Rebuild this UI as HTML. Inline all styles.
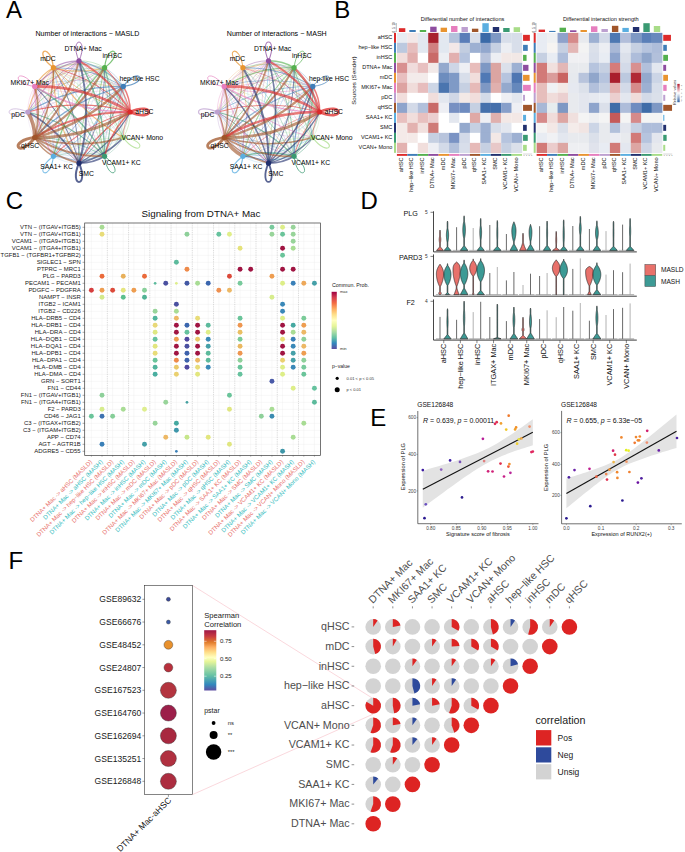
<!DOCTYPE html>
<html><head><meta charset="utf-8"><style>
html,body{margin:0;padding:0;background:#fff;}
body{width:685px;height:852px;overflow:hidden;}
svg{display:block;font-family:"Liberation Sans", sans-serif;}
</style></head><body>
<svg width="685" height="852" viewBox="0 0 685 852">
<rect width="685" height="852" fill="#fff"/>
<text x="5.9" y="17.6" font-size="24" fill="#000">A</text>
<text x="334.2" y="17.5" font-size="24" fill="#000">B</text>
<text x="5.8" y="209.4" font-size="24" fill="#000">C</text>
<text x="360.6" y="209.4" font-size="24" fill="#000">D</text>
<text x="370.2" y="425.7" font-size="24" fill="#000">E</text>
<text x="8.4" y="569.4" font-size="24" fill="#000">F</text>
<path d="M27.8 112.0 Q79.2 112.6 123.3 86.4" fill="none" stroke="#BDA0D0" stroke-width="0.25" stroke-opacity="0.55"/>
<path d="M123.3 137.6 Q97.6 144.2 79.0 163.2" fill="none" stroke="#A8DC88" stroke-width="0.25" stroke-opacity="0.55"/>
<path d="M27.8 112.0 Q79.0 126.3 130.2 112.0" fill="none" stroke="#BDA0D0" stroke-width="0.26" stroke-opacity="0.55"/>
<path d="M27.8 112.0 Q72.0 138.2 123.3 137.6" fill="none" stroke="#BDA0D0" stroke-width="0.26" stroke-opacity="0.55"/>
<path d="M27.8 112.0 Q46.2 144.8 79.0 163.2" fill="none" stroke="#BDA0D0" stroke-width="0.26" stroke-opacity="0.55"/>
<path d="M123.3 137.6 Q79.0 125.2 34.7 137.6" fill="none" stroke="#A8DC88" stroke-width="0.27" stroke-opacity="0.55"/>
<path d="M27.8 112.0 Q60.6 93.6 79.0 60.8" fill="none" stroke="#BDA0D0" stroke-width="0.27" stroke-opacity="0.55"/>
<path d="M27.8 112.0 Q27.6 125.8 34.7 137.6" fill="none" stroke="#BDA0D0" stroke-width="0.27" stroke-opacity="0.55"/>
<path d="M123.3 137.6 Q111.3 144.3 104.6 156.3" fill="none" stroke="#A8DC88" stroke-width="0.28" stroke-opacity="0.55"/>
<path d="M123.3 137.6 Q130.5 112.0 123.3 86.4" fill="none" stroke="#A8DC88" stroke-width="0.28" stroke-opacity="0.55"/>
<path d="M123.3 137.6 Q111.9 93.0 79.0 60.8" fill="none" stroke="#A8DC88" stroke-width="0.29" stroke-opacity="0.55"/>
<path d="M123.3 137.6 Q79.2 111.4 27.8 112.0" fill="none" stroke="#A8DC88" stroke-width="0.30" stroke-opacity="0.55"/>
<path d="M53.4 156.3 Q46.7 144.3 34.7 137.6" fill="none" stroke="#5AAEE0" stroke-width="0.30" stroke-opacity="0.55"/>
<path d="M53.4 156.3 Q65.2 163.4 79.0 163.2" fill="none" stroke="#5AAEE0" stroke-width="0.31" stroke-opacity="0.55"/>
<path d="M53.4 156.3 Q98.0 144.9 130.2 112.0" fill="none" stroke="#5AAEE0" stroke-width="0.31" stroke-opacity="0.55"/>
<path d="M53.4 156.3 Q91.4 119.2 104.6 67.7" fill="none" stroke="#5AAEE0" stroke-width="0.33" stroke-opacity="0.55"/>
<path d="M53.4 156.3 Q91.0 156.8 123.3 137.6" fill="none" stroke="#5AAEE0" stroke-width="0.34" stroke-opacity="0.55"/>
<path d="M53.4 156.3 Q79.6 112.2 79.0 60.8" fill="none" stroke="#5AAEE0" stroke-width="0.35" stroke-opacity="0.55"/>
<path d="M79.0 60.8 Q90.4 105.4 123.3 137.6" fill="none" stroke="#8E4DA0" stroke-width="0.35" stroke-opacity="0.55"/>
<path d="M53.4 156.3 Q46.8 130.6 27.8 112.0" fill="none" stroke="#5AAEE0" stroke-width="0.36" stroke-opacity="0.55"/>
<path d="M27.8 112.0 Q34.8 100.2 34.7 86.4" fill="none" stroke="#BDA0D0" stroke-width="0.37" stroke-opacity="0.55"/>
<path d="M53.4 156.3 Q53.8 118.7 34.7 86.4" fill="none" stroke="#5AAEE0" stroke-width="0.38" stroke-opacity="0.55"/>
<path d="M34.7 86.4 Q79.0 98.8 123.3 86.4" fill="none" stroke="#E67EBE" stroke-width="0.38" stroke-opacity="0.55"/>
<path d="M34.7 86.4 Q27.6 98.2 27.8 112.0" fill="none" stroke="#E67EBE" stroke-width="0.38" stroke-opacity="0.55"/>
<path d="M34.7 86.4 Q59.8 131.2 104.6 156.3" fill="none" stroke="#E67EBE" stroke-width="0.39" stroke-opacity="0.55"/>
<path d="M79.0 60.8 Q64.7 112.0 79.0 163.2" fill="none" stroke="#8E4DA0" stroke-width="0.39" stroke-opacity="0.55"/>
<path d="M53.4 67.7 Q34.2 100.0 34.7 137.6" fill="none" stroke="#E89430" stroke-width="0.40" stroke-opacity="0.55"/>
<path d="M79.0 60.8 Q90.8 67.8 104.6 67.7" fill="none" stroke="#8E4DA0" stroke-width="0.41" stroke-opacity="0.55"/>
<path d="M79.0 60.8 Q78.4 112.2 104.6 156.3" fill="none" stroke="#8E4DA0" stroke-width="0.42" stroke-opacity="0.55"/>
<path d="M123.3 86.4 Q116.2 112.0 123.3 137.6" fill="none" stroke="#3F7DB8" stroke-width="0.43" stroke-opacity="0.55"/>
<path d="M123.3 86.4 Q79.0 74.0 34.7 86.4" fill="none" stroke="#3F7DB8" stroke-width="0.43" stroke-opacity="0.55"/>
<path d="M34.7 86.4 Q71.8 124.4 123.3 137.6" fill="none" stroke="#E67EBE" stroke-width="0.43" stroke-opacity="0.55"/>
<path d="M123.3 86.4 Q116.6 74.4 104.6 67.7" fill="none" stroke="#3F7DB8" stroke-width="0.43" stroke-opacity="0.55"/>
<path d="M79.0 60.8 Q52.8 105.0 53.4 156.3" fill="none" stroke="#8E4DA0" stroke-width="0.43" stroke-opacity="0.55"/>
<path d="M27.8 112.0 Q46.8 93.4 53.4 67.7" fill="none" stroke="#BDA0D0" stroke-width="0.44" stroke-opacity="0.55"/>
<path d="M34.7 86.4 Q46.7 79.7 53.4 67.7" fill="none" stroke="#E67EBE" stroke-width="0.44" stroke-opacity="0.55"/>
<path d="M53.4 67.7 Q41.0 112.0 53.4 156.3" fill="none" stroke="#E89430" stroke-width="0.44" stroke-opacity="0.55"/>
<path d="M123.3 86.4 Q104.2 118.7 104.6 156.3" fill="none" stroke="#3F7DB8" stroke-width="0.45" stroke-opacity="0.55"/>
<path d="M104.6 156.3 Q116.6 149.6 123.3 137.6" fill="none" stroke="#3A9A72" stroke-width="0.45" stroke-opacity="0.55"/>
<path d="M104.6 156.3 Q90.8 156.2 79.0 163.2" fill="none" stroke="#3A9A72" stroke-width="0.46" stroke-opacity="0.55"/>
<path d="M123.3 137.6 Q86.2 99.6 34.7 86.4" fill="none" stroke="#A8DC88" stroke-width="0.46" stroke-opacity="0.55"/>
<path d="M34.7 86.4 Q27.5 112.0 34.7 137.6" fill="none" stroke="#E67EBE" stroke-width="0.47" stroke-opacity="0.55"/>
<path d="M104.6 156.3 Q123.8 124.0 123.3 86.4" fill="none" stroke="#3A9A72" stroke-width="0.49" stroke-opacity="0.55"/>
<path d="M104.6 156.3 Q91.4 104.8 53.4 67.7" fill="none" stroke="#3A9A72" stroke-width="0.49" stroke-opacity="0.55"/>
<path d="M27.8 112.0 Q60.0 144.9 104.6 156.3" fill="none" stroke="#BDA0D0" stroke-width="0.50" stroke-opacity="0.55"/>
<path d="M104.6 67.7 Q67.0 67.2 34.7 86.4" fill="none" stroke="#54B04E" stroke-width="0.50" stroke-opacity="0.55"/>
<path d="M104.6 67.7 Q111.3 79.7 123.3 86.4" fill="none" stroke="#54B04E" stroke-width="0.50" stroke-opacity="0.55"/>
<path d="M104.6 156.3 Q123.6 137.8 130.2 112.0" fill="none" stroke="#3A9A72" stroke-width="0.52" stroke-opacity="0.55"/>
<path d="M123.3 86.4 Q123.2 100.2 130.2 112.0" fill="none" stroke="#3F7DB8" stroke-width="0.52" stroke-opacity="0.55"/>
<path d="M79.0 60.8 Q97.6 79.8 123.3 86.4" fill="none" stroke="#8E4DA0" stroke-width="0.53" stroke-opacity="0.55"/>
<path d="M104.6 67.7 Q92.8 60.6 79.0 60.8" fill="none" stroke="#54B04E" stroke-width="0.54" stroke-opacity="0.55"/>
<path d="M53.4 67.7 Q67.2 67.8 79.0 60.8" fill="none" stroke="#E89430" stroke-width="0.54" stroke-opacity="0.55"/>
<path d="M53.4 156.3 Q79.0 163.5 104.6 156.3" fill="none" stroke="#5AAEE0" stroke-width="0.54" stroke-opacity="0.55"/>
<path d="M123.3 137.6 Q123.8 100.0 104.6 67.7" fill="none" stroke="#A8DC88" stroke-width="0.55" stroke-opacity="0.55"/>
<path d="M53.4 67.7 Q85.7 86.8 123.3 86.4" fill="none" stroke="#E89430" stroke-width="0.55" stroke-opacity="0.55"/>
<path d="M123.3 137.6 Q85.7 137.2 53.4 156.3" fill="none" stroke="#A8DC88" stroke-width="0.56" stroke-opacity="0.55"/>
<path d="M104.6 67.7 Q79.0 60.5 53.4 67.7" fill="none" stroke="#54B04E" stroke-width="0.57" stroke-opacity="0.55"/>
<path d="M27.8 112.0 Q34.4 137.8 53.4 156.3" fill="none" stroke="#BDA0D0" stroke-width="0.57" stroke-opacity="0.55"/>
<path d="M53.4 67.7 Q66.6 119.2 104.6 156.3" fill="none" stroke="#E89430" stroke-width="0.61" stroke-opacity="0.55"/>
<path d="M27.8 112.0 Q72.4 100.6 104.6 67.7" fill="none" stroke="#BDA0D0" stroke-width="0.63" stroke-opacity="0.55"/>
<path d="M79.0 163.2 Q67.2 156.2 53.4 156.3" fill="none" stroke="#22306E" stroke-width="0.63" stroke-opacity="0.55"/>
<path d="M104.6 156.3 Q79.0 149.2 53.4 156.3" fill="none" stroke="#3A9A72" stroke-width="0.64" stroke-opacity="0.55"/>
<path d="M79.0 163.2 Q60.4 144.2 34.7 137.6" fill="none" stroke="#22306E" stroke-width="0.65" stroke-opacity="0.55"/>
<path d="M123.3 137.6 Q98.2 92.8 53.4 67.7" fill="none" stroke="#A8DC88" stroke-width="0.66" stroke-opacity="0.55"/>
<path d="M130.2 112.0 Q123.2 123.8 123.3 137.6" fill="none" stroke="#DD2A2A" stroke-width="0.69" stroke-opacity="0.55"/>
<path d="M79.0 60.8 Q97.4 93.6 130.2 112.0" fill="none" stroke="#8E4DA0" stroke-width="0.72" stroke-opacity="0.55"/>
<path d="M53.4 156.3 Q65.8 112.0 53.4 67.7" fill="none" stroke="#5AAEE0" stroke-width="0.73" stroke-opacity="0.55"/>
<path d="M34.7 86.4 Q72.3 86.8 104.6 67.7" fill="none" stroke="#E67EBE" stroke-width="0.73" stroke-opacity="0.55"/>
<path d="M104.6 67.7 Q59.8 92.8 34.7 137.6" fill="none" stroke="#54B04E" stroke-width="0.73" stroke-opacity="0.55"/>
<path d="M104.6 67.7 Q60.0 79.1 27.8 112.0" fill="none" stroke="#54B04E" stroke-width="0.76" stroke-opacity="0.55"/>
<path d="M79.0 60.8 Q46.1 93.0 34.7 137.6" fill="none" stroke="#8E4DA0" stroke-width="0.77" stroke-opacity="0.55"/>
<path d="M79.0 163.2 Q111.9 131.0 123.3 86.4" fill="none" stroke="#22306E" stroke-width="0.80" stroke-opacity="0.55"/>
<path d="M104.6 67.7 Q104.2 105.3 123.3 137.6" fill="none" stroke="#54B04E" stroke-width="0.80" stroke-opacity="0.55"/>
<path d="M123.3 137.6 Q130.4 125.8 130.2 112.0" fill="none" stroke="#A8DC88" stroke-width="0.81" stroke-opacity="0.55"/>
<path d="M123.3 86.4 Q90.4 118.6 79.0 163.2" fill="none" stroke="#3F7DB8" stroke-width="0.81" stroke-opacity="0.55"/>
<path d="M104.6 67.7 Q78.4 111.8 79.0 163.2" fill="none" stroke="#54B04E" stroke-width="0.82" stroke-opacity="0.55"/>
<path d="M104.6 67.7 Q111.2 93.4 130.2 112.0" fill="none" stroke="#54B04E" stroke-width="0.84" stroke-opacity="0.55"/>
<path d="M104.6 156.3 Q72.3 137.2 34.7 137.6" fill="none" stroke="#3A9A72" stroke-width="0.84" stroke-opacity="0.55"/>
<path d="M123.3 86.4 Q78.6 111.6 53.4 156.3" fill="none" stroke="#3F7DB8" stroke-width="0.86" stroke-opacity="0.55"/>
<path d="M34.7 86.4 Q46.1 131.0 79.0 163.2" fill="none" stroke="#E67EBE" stroke-width="0.89" stroke-opacity="0.55"/>
<path d="M79.0 163.2 Q105.2 119.0 104.6 67.7" fill="none" stroke="#22306E" stroke-width="0.90" stroke-opacity="0.55"/>
<path d="M123.3 86.4 Q91.0 67.2 53.4 67.7" fill="none" stroke="#3F7DB8" stroke-width="0.92" stroke-opacity="0.55"/>
<path d="M34.7 86.4 Q60.4 79.8 79.0 60.8" fill="none" stroke="#E67EBE" stroke-width="0.92" stroke-opacity="0.55"/>
<path d="M79.0 163.2 Q79.6 111.8 53.4 67.7" fill="none" stroke="#22306E" stroke-width="0.94" stroke-opacity="0.55"/>
<path d="M79.0 60.8 Q46.2 79.2 27.8 112.0" fill="none" stroke="#8E4DA0" stroke-width="0.94" stroke-opacity="0.55"/>
<path d="M53.4 67.7 Q85.6 100.6 130.2 112.0" fill="none" stroke="#E89430" stroke-width="0.96" stroke-opacity="0.55"/>
<path d="M104.6 67.7 Q92.2 112.0 104.6 156.3" fill="none" stroke="#54B04E" stroke-width="0.99" stroke-opacity="0.55"/>
<path d="M53.4 156.3 Q98.2 131.2 123.3 86.4" fill="none" stroke="#5AAEE0" stroke-width="1.00" stroke-opacity="0.55"/>
<path d="M130.2 112.0 Q98.0 79.1 53.4 67.7" fill="none" stroke="#DD2A2A" stroke-width="1.03" stroke-opacity="0.55"/>
<path d="M104.6 156.3 Q117.0 112.0 104.6 67.7" fill="none" stroke="#3A9A72" stroke-width="1.04" stroke-opacity="0.55"/>
<path d="M79.0 163.2 Q67.6 118.6 34.7 86.4" fill="none" stroke="#22306E" stroke-width="1.08" stroke-opacity="0.55"/>
<path d="M53.4 67.7 Q79.0 74.8 104.6 67.7" fill="none" stroke="#E89430" stroke-width="1.09" stroke-opacity="0.55"/>
<path d="M53.4 67.7 Q34.4 86.2 27.8 112.0" fill="none" stroke="#E89430" stroke-width="1.09" stroke-opacity="0.55"/>
<path d="M123.3 86.4 Q104.8 67.4 79.0 60.8" fill="none" stroke="#3F7DB8" stroke-width="1.09" stroke-opacity="0.55"/>
<path d="M130.2 112.0 Q85.6 123.4 53.4 156.3" fill="none" stroke="#DD2A2A" stroke-width="1.10" stroke-opacity="0.55"/>
<path d="M130.2 112.0 Q123.6 86.2 104.6 67.7" fill="none" stroke="#DD2A2A" stroke-width="1.18" stroke-opacity="0.55"/>
<path d="M79.0 60.8 Q53.2 67.4 34.7 86.4" fill="none" stroke="#8E4DA0" stroke-width="1.18" stroke-opacity="0.55"/>
<path d="M79.0 60.8 Q65.2 60.6 53.4 67.7" fill="none" stroke="#8E4DA0" stroke-width="1.19" stroke-opacity="0.55"/>
<path d="M53.4 67.7 Q52.8 119.0 79.0 163.2" fill="none" stroke="#E89430" stroke-width="1.20" stroke-opacity="0.55"/>
<path d="M34.7 86.4 Q34.2 124.0 53.4 156.3" fill="none" stroke="#E67EBE" stroke-width="1.21" stroke-opacity="0.62"/>
<path d="M130.2 112.0 Q79.0 97.7 27.8 112.0" fill="none" stroke="#DD2A2A" stroke-width="1.23" stroke-opacity="0.62"/>
<path d="M53.4 67.7 Q41.4 74.4 34.7 86.4" fill="none" stroke="#E89430" stroke-width="1.28" stroke-opacity="0.62"/>
<path d="M104.6 156.3 Q72.4 123.4 27.8 112.0" fill="none" stroke="#3A9A72" stroke-width="1.29" stroke-opacity="0.62"/>
<path d="M130.2 112.0 Q97.4 130.4 79.0 163.2" fill="none" stroke="#DD2A2A" stroke-width="1.32" stroke-opacity="0.62"/>
<path d="M53.4 67.7 Q78.6 112.4 123.3 137.6" fill="none" stroke="#E89430" stroke-width="1.32" stroke-opacity="0.62"/>
<path d="M104.6 67.7 Q66.6 104.8 53.4 156.3" fill="none" stroke="#54B04E" stroke-width="1.35" stroke-opacity="0.62"/>
<path d="M34.7 137.6 Q41.4 149.6 53.4 156.3" fill="none" stroke="#A0552A" stroke-width="1.36" stroke-opacity="0.62"/>
<path d="M79.0 163.2 Q111.8 144.8 130.2 112.0" fill="none" stroke="#22306E" stroke-width="1.36" stroke-opacity="0.62"/>
<path d="M123.3 86.4 Q71.8 99.6 34.7 137.6" fill="none" stroke="#3F7DB8" stroke-width="1.37" stroke-opacity="0.62"/>
<path d="M104.6 156.3 Q105.2 105.0 79.0 60.8" fill="none" stroke="#3A9A72" stroke-width="1.41" stroke-opacity="0.62"/>
<path d="M123.3 86.4 Q72.0 85.8 27.8 112.0" fill="none" stroke="#3F7DB8" stroke-width="1.41" stroke-opacity="0.62"/>
<path d="M104.6 156.3 Q79.4 111.6 34.7 86.4" fill="none" stroke="#3A9A72" stroke-width="1.42" stroke-opacity="0.62"/>
<path d="M130.2 112.0 Q130.4 98.2 123.3 86.4" fill="none" stroke="#DD2A2A" stroke-width="1.53" stroke-opacity="0.62"/>
<path d="M34.7 137.6 Q53.8 105.3 53.4 67.7" fill="none" stroke="#A0552A" stroke-width="1.53" stroke-opacity="0.62"/>
<path d="M34.7 137.6 Q53.2 156.6 79.0 163.2" fill="none" stroke="#A0552A" stroke-width="1.53" stroke-opacity="0.62"/>
<path d="M79.0 163.2 Q104.8 156.6 123.3 137.6" fill="none" stroke="#22306E" stroke-width="1.56" stroke-opacity="0.62"/>
<path d="M79.0 163.2 Q60.6 130.4 27.8 112.0" fill="none" stroke="#22306E" stroke-width="1.68" stroke-opacity="0.62"/>
<path d="M130.2 112.0 Q111.2 130.6 104.6 156.3" fill="none" stroke="#DD2A2A" stroke-width="1.69" stroke-opacity="0.62"/>
<path d="M34.7 86.4 Q78.8 112.6 130.2 112.0" fill="none" stroke="#E67EBE" stroke-width="1.70" stroke-opacity="0.62"/>
<path d="M34.7 137.6 Q79.0 150.0 123.3 137.6" fill="none" stroke="#A0552A" stroke-width="1.70" stroke-opacity="0.62"/>
<path d="M79.0 163.2 Q92.8 163.4 104.6 156.3" fill="none" stroke="#22306E" stroke-width="1.79" stroke-opacity="0.62"/>
<path d="M34.7 137.6 Q67.6 105.4 79.0 60.8" fill="none" stroke="#A0552A" stroke-width="1.87" stroke-opacity="0.62"/>
<path d="M34.7 137.6 Q41.8 112.0 34.7 86.4" fill="none" stroke="#A0552A" stroke-width="1.87" stroke-opacity="0.62"/>
<path d="M34.7 137.6 Q67.0 156.8 104.6 156.3" fill="none" stroke="#A0552A" stroke-width="1.87" stroke-opacity="0.62"/>
<path d="M79.0 163.2 Q93.3 112.0 79.0 60.8" fill="none" stroke="#22306E" stroke-width="1.92" stroke-opacity="0.62"/>
<path d="M130.2 112.0 Q111.8 79.2 79.0 60.8" fill="none" stroke="#DD2A2A" stroke-width="2.06" stroke-opacity="0.62"/>
<path d="M130.2 112.0 Q78.8 111.4 34.7 137.6" fill="none" stroke="#DD2A2A" stroke-width="2.21" stroke-opacity="0.62"/>
<path d="M34.7 137.6 Q79.4 112.4 104.6 67.7" fill="none" stroke="#A0552A" stroke-width="2.21" stroke-opacity="0.62"/>
<path d="M34.7 137.6 Q86.2 124.4 123.3 86.4" fill="none" stroke="#A0552A" stroke-width="2.38" stroke-opacity="0.62"/>
<path d="M130.2 112.0 Q86.0 85.8 34.7 86.4" fill="none" stroke="#DD2A2A" stroke-width="2.55" stroke-opacity="0.62"/>
<path d="M34.7 137.6 Q86.0 138.2 130.2 112.0" fill="none" stroke="#A0552A" stroke-width="2.89" stroke-opacity="0.62"/>
<path d="M34.7 137.6 Q34.8 123.8 27.8 112.0" fill="none" stroke="#A0552A" stroke-width="3.60" stroke-opacity="0.62"/>
<path d="M130.2 112.0 C155.2 123.0 155.2 101.0 130.2 112.0" fill="none" stroke="#DD2A2A" stroke-width="2.60" stroke-opacity="0.75"/>
<path d="M123.3 86.4 C150.5 83.4 139.5 64.4 123.3 86.4" fill="none" stroke="#3F7DB8" stroke-width="1.31" stroke-opacity="0.75"/>
<path d="M104.6 67.7 C126.6 51.5 107.6 40.5 104.6 67.7" fill="none" stroke="#54B04E" stroke-width="1.17" stroke-opacity="0.75"/>
<path d="M79.0 60.8 C90.0 35.8 68.0 35.8 79.0 60.8" fill="none" stroke="#8E4DA0" stroke-width="1.00" stroke-opacity="0.75"/>
<path d="M53.4 67.7 C50.4 40.5 31.4 51.5 53.4 67.7" fill="none" stroke="#E89430" stroke-width="1.35" stroke-opacity="0.75"/>
<path d="M34.7 86.4 C18.5 64.4 7.5 83.4 34.7 86.4" fill="none" stroke="#E67EBE" stroke-width="0.92" stroke-opacity="0.75"/>
<path d="M27.8 112.0 C2.8 101.0 2.8 123.0 27.8 112.0" fill="none" stroke="#BDA0D0" stroke-width="0.81" stroke-opacity="0.75"/>
<path d="M34.7 137.6 C7.5 140.6 18.5 159.6 34.7 137.6" fill="none" stroke="#A0552A" stroke-width="3.00" stroke-opacity="0.75"/>
<path d="M53.4 156.3 C31.4 172.5 50.4 183.5 53.4 156.3" fill="none" stroke="#5AAEE0" stroke-width="1.07" stroke-opacity="0.75"/>
<path d="M79.0 163.2 C68.0 188.2 90.0 188.2 79.0 163.2" fill="none" stroke="#22306E" stroke-width="2.00" stroke-opacity="0.75"/>
<path d="M104.6 156.3 C107.6 183.5 126.6 172.5 104.6 156.3" fill="none" stroke="#3A9A72" stroke-width="1.00" stroke-opacity="0.75"/>
<path d="M123.3 137.6 C139.5 159.6 150.5 140.6 123.3 137.6" fill="none" stroke="#A8DC88" stroke-width="1.02" stroke-opacity="0.75"/>
<circle cx="79.00" cy="112.00" r="5.00" fill="#fff" fill-opacity="0.6"/>
<circle cx="130.20" cy="112.00" r="2.60" fill="#DD2A2A"/>
<circle cx="123.34" cy="86.40" r="2.60" fill="#3F7DB8"/>
<circle cx="104.60" cy="67.66" r="2.60" fill="#54B04E"/>
<circle cx="79.00" cy="60.80" r="2.60" fill="#8E4DA0"/>
<circle cx="53.40" cy="67.66" r="2.60" fill="#E89430"/>
<circle cx="34.66" cy="86.40" r="2.60" fill="#E67EBE"/>
<circle cx="27.80" cy="112.00" r="2.60" fill="#BDA0D0"/>
<circle cx="34.66" cy="137.60" r="2.60" fill="#A0552A"/>
<circle cx="53.40" cy="156.34" r="2.60" fill="#5AAEE0"/>
<circle cx="79.00" cy="163.20" r="2.60" fill="#22306E"/>
<circle cx="104.60" cy="156.34" r="2.60" fill="#3A9A72"/>
<circle cx="123.34" cy="137.60" r="2.60" fill="#A8DC88"/>
<text x="83.00" y="48.40" font-size="6.8" text-anchor="middle" fill="#000" dy="0.35em">DTNA+ Mac</text>
<text x="40.20" y="58.60" font-size="6.8" text-anchor="start" fill="#000" dy="0.35em">mDC</text>
<text x="102.50" y="56.00" font-size="6.8" text-anchor="start" fill="#000" dy="0.35em">inHSC</text>
<text x="119.50" y="79.10" font-size="6.8" text-anchor="start" fill="#000" dy="0.35em">hep-like HSC</text>
<text x="135.30" y="112.00" font-size="6.8" text-anchor="start" fill="#000" dy="0.35em">aHSC</text>
<text x="121.40" y="137.40" font-size="6.8" text-anchor="start" fill="#000" dy="0.35em">VCAN+ Mono</text>
<text x="102.00" y="162.70" font-size="6.8" text-anchor="start" fill="#000" dy="0.35em">VCAM1+ KC</text>
<text x="78.80" y="173.20" font-size="6.8" text-anchor="start" fill="#000" dy="0.35em">SMC</text>
<text x="40.20" y="167.10" font-size="6.8" text-anchor="start" fill="#000" dy="0.35em">SAA1+ KC</text>
<text x="21.00" y="146.10" font-size="6.8" text-anchor="start" fill="#000" dy="0.35em">qHSC</text>
<text x="11.30" y="114.60" font-size="6.8" text-anchor="start" fill="#000" dy="0.35em">pDC</text>
<text x="10.50" y="83.00" font-size="6.8" text-anchor="start" fill="#000" dy="0.35em">MKI67+ Mac</text>
<text x="35.50" y="33.70" font-size="7.1" text-anchor="start" fill="#000" dy="0.35em">Number of interactions − MASLD</text>
<path d="M312.8 137.6 Q268.7 111.4 217.3 112.0" fill="none" stroke="#A8DC88" stroke-width="0.25" stroke-opacity="0.55"/>
<path d="M217.3 112.0 Q261.9 100.6 294.1 67.7" fill="none" stroke="#BDA0D0" stroke-width="0.25" stroke-opacity="0.55"/>
<path d="M217.3 112.0 Q268.5 126.3 319.7 112.0" fill="none" stroke="#BDA0D0" stroke-width="0.25" stroke-opacity="0.55"/>
<path d="M312.8 137.6 Q287.1 144.2 268.5 163.2" fill="none" stroke="#A8DC88" stroke-width="0.26" stroke-opacity="0.55"/>
<path d="M312.8 137.6 Q320.0 112.0 312.8 86.4" fill="none" stroke="#A8DC88" stroke-width="0.28" stroke-opacity="0.55"/>
<path d="M242.9 67.7 Q275.1 100.6 319.7 112.0" fill="none" stroke="#E89430" stroke-width="0.30" stroke-opacity="0.55"/>
<path d="M242.9 156.3 Q287.7 131.2 312.8 86.4" fill="none" stroke="#5AAEE0" stroke-width="0.32" stroke-opacity="0.55"/>
<path d="M312.8 137.6 Q268.5 125.2 224.2 137.6" fill="none" stroke="#A8DC88" stroke-width="0.34" stroke-opacity="0.55"/>
<path d="M242.9 156.3 Q255.3 112.0 242.9 67.7" fill="none" stroke="#5AAEE0" stroke-width="0.35" stroke-opacity="0.55"/>
<path d="M224.2 86.4 Q249.3 131.2 294.1 156.3" fill="none" stroke="#E67EBE" stroke-width="0.35" stroke-opacity="0.55"/>
<path d="M242.9 67.7 Q268.1 112.4 312.8 137.6" fill="none" stroke="#E89430" stroke-width="0.35" stroke-opacity="0.55"/>
<path d="M217.3 112.0 Q268.7 112.6 312.8 86.4" fill="none" stroke="#BDA0D0" stroke-width="0.35" stroke-opacity="0.55"/>
<path d="M242.9 67.7 Q275.2 86.8 312.8 86.4" fill="none" stroke="#E89430" stroke-width="0.35" stroke-opacity="0.55"/>
<path d="M242.9 67.7 Q223.7 100.0 224.2 137.6" fill="none" stroke="#E89430" stroke-width="0.36" stroke-opacity="0.55"/>
<path d="M242.9 67.7 Q230.5 112.0 242.9 156.3" fill="none" stroke="#E89430" stroke-width="0.37" stroke-opacity="0.55"/>
<path d="M224.2 86.4 Q236.2 79.7 242.9 67.7" fill="none" stroke="#E67EBE" stroke-width="0.37" stroke-opacity="0.55"/>
<path d="M312.8 137.6 Q287.7 92.8 242.9 67.7" fill="none" stroke="#A8DC88" stroke-width="0.37" stroke-opacity="0.55"/>
<path d="M242.9 67.7 Q230.9 74.4 224.2 86.4" fill="none" stroke="#E89430" stroke-width="0.38" stroke-opacity="0.55"/>
<path d="M312.8 137.6 Q301.4 93.0 268.5 60.8" fill="none" stroke="#A8DC88" stroke-width="0.38" stroke-opacity="0.55"/>
<path d="M268.5 60.8 Q279.9 105.4 312.8 137.6" fill="none" stroke="#8E4DA0" stroke-width="0.38" stroke-opacity="0.55"/>
<path d="M242.9 156.3 Q254.7 163.4 268.5 163.2" fill="none" stroke="#5AAEE0" stroke-width="0.38" stroke-opacity="0.55"/>
<path d="M268.5 60.8 Q267.9 112.2 294.1 156.3" fill="none" stroke="#8E4DA0" stroke-width="0.39" stroke-opacity="0.55"/>
<path d="M242.9 67.7 Q223.9 86.2 217.3 112.0" fill="none" stroke="#E89430" stroke-width="0.40" stroke-opacity="0.55"/>
<path d="M268.5 60.8 Q235.7 79.2 217.3 112.0" fill="none" stroke="#8E4DA0" stroke-width="0.40" stroke-opacity="0.55"/>
<path d="M268.5 60.8 Q242.7 67.4 224.2 86.4" fill="none" stroke="#8E4DA0" stroke-width="0.40" stroke-opacity="0.55"/>
<path d="M268.5 60.8 Q254.2 112.0 268.5 163.2" fill="none" stroke="#8E4DA0" stroke-width="0.41" stroke-opacity="0.55"/>
<path d="M217.3 112.0 Q235.7 144.8 268.5 163.2" fill="none" stroke="#BDA0D0" stroke-width="0.42" stroke-opacity="0.55"/>
<path d="M312.8 137.6 Q319.9 125.8 319.7 112.0" fill="none" stroke="#A8DC88" stroke-width="0.43" stroke-opacity="0.55"/>
<path d="M242.9 156.3 Q243.3 118.7 224.2 86.4" fill="none" stroke="#5AAEE0" stroke-width="0.43" stroke-opacity="0.55"/>
<path d="M312.8 137.6 Q313.3 100.0 294.1 67.7" fill="none" stroke="#A8DC88" stroke-width="0.44" stroke-opacity="0.55"/>
<path d="M242.9 156.3 Q236.2 144.3 224.2 137.6" fill="none" stroke="#5AAEE0" stroke-width="0.44" stroke-opacity="0.55"/>
<path d="M294.1 156.3 Q280.3 156.2 268.5 163.2" fill="none" stroke="#3A9A72" stroke-width="0.46" stroke-opacity="0.55"/>
<path d="M294.1 156.3 Q306.5 112.0 294.1 67.7" fill="none" stroke="#3A9A72" stroke-width="0.46" stroke-opacity="0.55"/>
<path d="M268.5 60.8 Q235.6 93.0 224.2 137.6" fill="none" stroke="#8E4DA0" stroke-width="0.47" stroke-opacity="0.55"/>
<path d="M312.8 86.4 Q306.1 74.4 294.1 67.7" fill="none" stroke="#3F7DB8" stroke-width="0.50" stroke-opacity="0.55"/>
<path d="M242.9 156.3 Q287.5 144.9 319.7 112.0" fill="none" stroke="#5AAEE0" stroke-width="0.50" stroke-opacity="0.55"/>
<path d="M312.8 86.4 Q279.9 118.6 268.5 163.2" fill="none" stroke="#3F7DB8" stroke-width="0.50" stroke-opacity="0.55"/>
<path d="M294.1 67.7 Q281.7 112.0 294.1 156.3" fill="none" stroke="#54B04E" stroke-width="0.51" stroke-opacity="0.55"/>
<path d="M312.8 86.4 Q294.3 67.4 268.5 60.8" fill="none" stroke="#3F7DB8" stroke-width="0.51" stroke-opacity="0.55"/>
<path d="M242.9 156.3 Q280.9 119.2 294.1 67.7" fill="none" stroke="#5AAEE0" stroke-width="0.51" stroke-opacity="0.55"/>
<path d="M294.1 156.3 Q261.8 137.2 224.2 137.6" fill="none" stroke="#3A9A72" stroke-width="0.52" stroke-opacity="0.55"/>
<path d="M242.9 67.7 Q256.1 119.2 294.1 156.3" fill="none" stroke="#E89430" stroke-width="0.52" stroke-opacity="0.55"/>
<path d="M217.3 112.0 Q236.3 93.4 242.9 67.7" fill="none" stroke="#BDA0D0" stroke-width="0.53" stroke-opacity="0.55"/>
<path d="M242.9 67.7 Q268.5 74.8 294.1 67.7" fill="none" stroke="#E89430" stroke-width="0.54" stroke-opacity="0.55"/>
<path d="M268.5 60.8 Q280.3 67.8 294.1 67.7" fill="none" stroke="#8E4DA0" stroke-width="0.56" stroke-opacity="0.55"/>
<path d="M224.2 86.4 Q217.1 98.2 217.3 112.0" fill="none" stroke="#E67EBE" stroke-width="0.56" stroke-opacity="0.55"/>
<path d="M312.8 137.6 Q275.7 99.6 224.2 86.4" fill="none" stroke="#A8DC88" stroke-width="0.56" stroke-opacity="0.55"/>
<path d="M294.1 156.3 Q280.9 104.8 242.9 67.7" fill="none" stroke="#3A9A72" stroke-width="0.57" stroke-opacity="0.55"/>
<path d="M217.3 112.0 Q261.5 138.2 312.8 137.6" fill="none" stroke="#BDA0D0" stroke-width="0.59" stroke-opacity="0.55"/>
<path d="M224.2 86.4 Q223.7 124.0 242.9 156.3" fill="none" stroke="#E67EBE" stroke-width="0.60" stroke-opacity="0.55"/>
<path d="M294.1 67.7 Q267.9 111.8 268.5 163.2" fill="none" stroke="#54B04E" stroke-width="0.62" stroke-opacity="0.55"/>
<path d="M312.8 137.6 Q275.2 137.2 242.9 156.3" fill="none" stroke="#A8DC88" stroke-width="0.62" stroke-opacity="0.55"/>
<path d="M217.3 112.0 Q217.1 125.8 224.2 137.6" fill="none" stroke="#BDA0D0" stroke-width="0.64" stroke-opacity="0.55"/>
<path d="M217.3 112.0 Q250.1 93.6 268.5 60.8" fill="none" stroke="#BDA0D0" stroke-width="0.64" stroke-opacity="0.55"/>
<path d="M312.8 86.4 Q268.1 111.6 242.9 156.3" fill="none" stroke="#3F7DB8" stroke-width="0.65" stroke-opacity="0.55"/>
<path d="M294.1 67.7 Q268.5 60.5 242.9 67.7" fill="none" stroke="#54B04E" stroke-width="0.66" stroke-opacity="0.55"/>
<path d="M294.1 67.7 Q249.5 79.1 217.3 112.0" fill="none" stroke="#54B04E" stroke-width="0.66" stroke-opacity="0.55"/>
<path d="M268.5 60.8 Q287.1 79.8 312.8 86.4" fill="none" stroke="#8E4DA0" stroke-width="0.69" stroke-opacity="0.55"/>
<path d="M312.8 137.6 Q300.8 144.3 294.1 156.3" fill="none" stroke="#A8DC88" stroke-width="0.70" stroke-opacity="0.55"/>
<path d="M319.7 112.0 Q287.5 79.1 242.9 67.7" fill="none" stroke="#DD2A2A" stroke-width="0.71" stroke-opacity="0.55"/>
<path d="M312.8 86.4 Q268.5 74.0 224.2 86.4" fill="none" stroke="#3F7DB8" stroke-width="0.71" stroke-opacity="0.55"/>
<path d="M224.2 86.4 Q261.8 86.8 294.1 67.7" fill="none" stroke="#E67EBE" stroke-width="0.72" stroke-opacity="0.55"/>
<path d="M319.7 112.0 Q275.1 123.4 242.9 156.3" fill="none" stroke="#DD2A2A" stroke-width="0.73" stroke-opacity="0.55"/>
<path d="M242.9 67.7 Q242.3 119.0 268.5 163.2" fill="none" stroke="#E89430" stroke-width="0.74" stroke-opacity="0.55"/>
<path d="M268.5 60.8 Q254.7 60.6 242.9 67.7" fill="none" stroke="#8E4DA0" stroke-width="0.75" stroke-opacity="0.55"/>
<path d="M312.8 86.4 Q312.7 100.2 319.7 112.0" fill="none" stroke="#3F7DB8" stroke-width="0.75" stroke-opacity="0.55"/>
<path d="M319.7 112.0 Q286.9 130.4 268.5 163.2" fill="none" stroke="#DD2A2A" stroke-width="0.76" stroke-opacity="0.55"/>
<path d="M294.1 67.7 Q293.7 105.3 312.8 137.6" fill="none" stroke="#54B04E" stroke-width="0.77" stroke-opacity="0.55"/>
<path d="M242.9 156.3 Q269.1 112.2 268.5 60.8" fill="none" stroke="#5AAEE0" stroke-width="0.78" stroke-opacity="0.55"/>
<path d="M294.1 156.3 Q313.1 137.8 319.7 112.0" fill="none" stroke="#3A9A72" stroke-width="0.78" stroke-opacity="0.55"/>
<path d="M242.9 156.3 Q280.5 156.8 312.8 137.6" fill="none" stroke="#5AAEE0" stroke-width="0.78" stroke-opacity="0.55"/>
<path d="M319.7 112.0 Q312.7 123.8 312.8 137.6" fill="none" stroke="#DD2A2A" stroke-width="0.78" stroke-opacity="0.55"/>
<path d="M242.9 67.7 Q256.7 67.8 268.5 60.8" fill="none" stroke="#E89430" stroke-width="0.78" stroke-opacity="0.55"/>
<path d="M294.1 156.3 Q268.9 111.6 224.2 86.4" fill="none" stroke="#3A9A72" stroke-width="0.79" stroke-opacity="0.55"/>
<path d="M217.3 112.0 Q223.9 137.8 242.9 156.3" fill="none" stroke="#BDA0D0" stroke-width="0.79" stroke-opacity="0.55"/>
<path d="M294.1 156.3 Q306.1 149.6 312.8 137.6" fill="none" stroke="#3A9A72" stroke-width="0.79" stroke-opacity="0.55"/>
<path d="M224.2 86.4 Q268.5 98.8 312.8 86.4" fill="none" stroke="#E67EBE" stroke-width="0.80" stroke-opacity="0.55"/>
<path d="M312.8 86.4 Q261.5 85.8 217.3 112.0" fill="none" stroke="#3F7DB8" stroke-width="0.82" stroke-opacity="0.55"/>
<path d="M217.3 112.0 Q224.3 100.2 224.2 86.4" fill="none" stroke="#BDA0D0" stroke-width="0.82" stroke-opacity="0.55"/>
<path d="M268.5 163.2 Q250.1 130.4 217.3 112.0" fill="none" stroke="#22306E" stroke-width="0.82" stroke-opacity="0.55"/>
<path d="M217.3 112.0 Q249.5 144.9 294.1 156.3" fill="none" stroke="#BDA0D0" stroke-width="0.84" stroke-opacity="0.55"/>
<path d="M268.5 60.8 Q286.9 93.6 319.7 112.0" fill="none" stroke="#8E4DA0" stroke-width="0.84" stroke-opacity="0.55"/>
<path d="M224.2 86.4 Q249.9 79.8 268.5 60.8" fill="none" stroke="#E67EBE" stroke-width="0.86" stroke-opacity="0.55"/>
<path d="M242.9 156.3 Q268.5 163.5 294.1 156.3" fill="none" stroke="#5AAEE0" stroke-width="0.87" stroke-opacity="0.55"/>
<path d="M268.5 163.2 Q249.9 144.2 224.2 137.6" fill="none" stroke="#22306E" stroke-width="0.88" stroke-opacity="0.55"/>
<path d="M294.1 156.3 Q294.7 105.0 268.5 60.8" fill="none" stroke="#3A9A72" stroke-width="0.88" stroke-opacity="0.55"/>
<path d="M242.9 156.3 Q236.3 130.6 217.3 112.0" fill="none" stroke="#5AAEE0" stroke-width="0.88" stroke-opacity="0.55"/>
<path d="M294.1 67.7 Q249.3 92.8 224.2 137.6" fill="none" stroke="#54B04E" stroke-width="0.89" stroke-opacity="0.55"/>
<path d="M312.8 86.4 Q305.7 112.0 312.8 137.6" fill="none" stroke="#3F7DB8" stroke-width="0.92" stroke-opacity="0.55"/>
<path d="M294.1 67.7 Q300.8 79.7 312.8 86.4" fill="none" stroke="#54B04E" stroke-width="0.96" stroke-opacity="0.55"/>
<path d="M268.5 60.8 Q242.3 105.0 242.9 156.3" fill="none" stroke="#8E4DA0" stroke-width="0.97" stroke-opacity="0.55"/>
<path d="M224.2 86.4 Q217.0 112.0 224.2 137.6" fill="none" stroke="#E67EBE" stroke-width="0.98" stroke-opacity="0.55"/>
<path d="M319.7 112.0 Q268.5 97.7 217.3 112.0" fill="none" stroke="#DD2A2A" stroke-width="1.00" stroke-opacity="0.55"/>
<path d="M268.5 163.2 Q256.7 156.2 242.9 156.3" fill="none" stroke="#22306E" stroke-width="1.02" stroke-opacity="0.55"/>
<path d="M294.1 67.7 Q300.7 93.4 319.7 112.0" fill="none" stroke="#54B04E" stroke-width="1.02" stroke-opacity="0.55"/>
<path d="M268.5 163.2 Q294.7 119.0 294.1 67.7" fill="none" stroke="#22306E" stroke-width="1.02" stroke-opacity="0.55"/>
<path d="M224.2 86.4 Q235.6 131.0 268.5 163.2" fill="none" stroke="#E67EBE" stroke-width="1.02" stroke-opacity="0.55"/>
<path d="M294.1 67.7 Q256.1 104.8 242.9 156.3" fill="none" stroke="#54B04E" stroke-width="1.02" stroke-opacity="0.55"/>
<path d="M319.7 112.0 Q300.7 130.6 294.1 156.3" fill="none" stroke="#DD2A2A" stroke-width="1.03" stroke-opacity="0.55"/>
<path d="M224.2 86.4 Q261.3 124.4 312.8 137.6" fill="none" stroke="#E67EBE" stroke-width="1.07" stroke-opacity="0.55"/>
<path d="M312.8 86.4 Q280.5 67.2 242.9 67.7" fill="none" stroke="#3F7DB8" stroke-width="1.10" stroke-opacity="0.55"/>
<path d="M312.8 86.4 Q261.3 99.6 224.2 137.6" fill="none" stroke="#3F7DB8" stroke-width="1.15" stroke-opacity="0.55"/>
<path d="M224.2 137.6 Q243.3 105.3 242.9 67.7" fill="none" stroke="#A0552A" stroke-width="1.17" stroke-opacity="0.55"/>
<path d="M294.1 156.3 Q313.3 124.0 312.8 86.4" fill="none" stroke="#3A9A72" stroke-width="1.19" stroke-opacity="0.55"/>
<path d="M294.1 67.7 Q256.5 67.2 224.2 86.4" fill="none" stroke="#54B04E" stroke-width="1.19" stroke-opacity="0.55"/>
<path d="M294.1 156.3 Q261.9 123.4 217.3 112.0" fill="none" stroke="#3A9A72" stroke-width="1.20" stroke-opacity="0.62"/>
<path d="M312.8 86.4 Q293.7 118.7 294.1 156.3" fill="none" stroke="#3F7DB8" stroke-width="1.24" stroke-opacity="0.62"/>
<path d="M224.2 137.6 Q224.3 123.8 217.3 112.0" fill="none" stroke="#A0552A" stroke-width="1.26" stroke-opacity="0.62"/>
<path d="M268.5 163.2 Q294.3 156.6 312.8 137.6" fill="none" stroke="#22306E" stroke-width="1.27" stroke-opacity="0.62"/>
<path d="M224.2 86.4 Q268.3 112.6 319.7 112.0" fill="none" stroke="#E67EBE" stroke-width="1.36" stroke-opacity="0.62"/>
<path d="M224.2 137.6 Q242.7 156.6 268.5 163.2" fill="none" stroke="#A0552A" stroke-width="1.36" stroke-opacity="0.62"/>
<path d="M294.1 156.3 Q268.5 149.2 242.9 156.3" fill="none" stroke="#3A9A72" stroke-width="1.43" stroke-opacity="0.62"/>
<path d="M268.5 163.2 Q257.1 118.6 224.2 86.4" fill="none" stroke="#22306E" stroke-width="1.44" stroke-opacity="0.62"/>
<path d="M319.7 112.0 Q319.9 98.2 312.8 86.4" fill="none" stroke="#DD2A2A" stroke-width="1.53" stroke-opacity="0.62"/>
<path d="M224.2 137.6 Q231.3 112.0 224.2 86.4" fill="none" stroke="#A0552A" stroke-width="1.53" stroke-opacity="0.62"/>
<path d="M224.2 137.6 Q268.5 150.0 312.8 137.6" fill="none" stroke="#A0552A" stroke-width="1.53" stroke-opacity="0.62"/>
<path d="M268.5 163.2 Q301.3 144.8 319.7 112.0" fill="none" stroke="#22306E" stroke-width="1.53" stroke-opacity="0.62"/>
<path d="M268.5 163.2 Q301.4 131.0 312.8 86.4" fill="none" stroke="#22306E" stroke-width="1.55" stroke-opacity="0.62"/>
<path d="M268.5 163.2 Q282.8 112.0 268.5 60.8" fill="none" stroke="#22306E" stroke-width="1.56" stroke-opacity="0.62"/>
<path d="M294.1 67.7 Q282.3 60.6 268.5 60.8" fill="none" stroke="#54B04E" stroke-width="1.63" stroke-opacity="0.62"/>
<path d="M224.2 137.6 Q257.1 105.4 268.5 60.8" fill="none" stroke="#A0552A" stroke-width="1.70" stroke-opacity="0.62"/>
<path d="M224.2 137.6 Q256.5 156.8 294.1 156.3" fill="none" stroke="#A0552A" stroke-width="1.70" stroke-opacity="0.62"/>
<path d="M268.5 163.2 Q282.3 163.4 294.1 156.3" fill="none" stroke="#22306E" stroke-width="1.76" stroke-opacity="0.62"/>
<path d="M268.5 163.2 Q269.1 111.8 242.9 67.7" fill="none" stroke="#22306E" stroke-width="1.92" stroke-opacity="0.62"/>
<path d="M224.2 137.6 Q268.9 112.4 294.1 67.7" fill="none" stroke="#A0552A" stroke-width="1.95" stroke-opacity="0.62"/>
<path d="M319.7 112.0 Q301.3 79.2 268.5 60.8" fill="none" stroke="#DD2A2A" stroke-width="2.04" stroke-opacity="0.62"/>
<path d="M224.2 137.6 Q275.7 124.4 312.8 86.4" fill="none" stroke="#A0552A" stroke-width="2.21" stroke-opacity="0.62"/>
<path d="M319.7 112.0 Q313.1 86.2 294.1 67.7" fill="none" stroke="#DD2A2A" stroke-width="2.21" stroke-opacity="0.62"/>
<path d="M319.7 112.0 Q268.3 111.4 224.2 137.6" fill="none" stroke="#DD2A2A" stroke-width="2.38" stroke-opacity="0.62"/>
<path d="M319.7 112.0 Q275.5 85.8 224.2 86.4" fill="none" stroke="#DD2A2A" stroke-width="2.55" stroke-opacity="0.62"/>
<path d="M224.2 137.6 Q275.5 138.2 319.7 112.0" fill="none" stroke="#A0552A" stroke-width="2.72" stroke-opacity="0.62"/>
<path d="M224.2 137.6 Q230.9 149.6 242.9 156.3" fill="none" stroke="#A0552A" stroke-width="3.56" stroke-opacity="0.62"/>
<path d="M319.7 112.0 C344.7 123.0 344.7 101.0 319.7 112.0" fill="none" stroke="#DD2A2A" stroke-width="2.60" stroke-opacity="0.75"/>
<path d="M312.8 86.4 C340.0 83.4 329.0 64.4 312.8 86.4" fill="none" stroke="#3F7DB8" stroke-width="0.90" stroke-opacity="0.75"/>
<path d="M294.1 67.7 C316.1 51.5 297.1 40.5 294.1 67.7" fill="none" stroke="#54B04E" stroke-width="0.90" stroke-opacity="0.75"/>
<path d="M268.5 60.8 C279.5 35.8 257.5 35.8 268.5 60.8" fill="none" stroke="#8E4DA0" stroke-width="1.07" stroke-opacity="0.75"/>
<path d="M242.9 67.7 C239.9 40.5 220.9 51.5 242.9 67.7" fill="none" stroke="#E89430" stroke-width="1.05" stroke-opacity="0.75"/>
<path d="M224.2 86.4 C208.0 64.4 197.0 83.4 224.2 86.4" fill="none" stroke="#E67EBE" stroke-width="0.85" stroke-opacity="0.75"/>
<path d="M217.3 112.0 C192.3 101.0 192.3 123.0 217.3 112.0" fill="none" stroke="#BDA0D0" stroke-width="1.22" stroke-opacity="0.75"/>
<path d="M224.2 137.6 C197.0 140.6 208.0 159.6 224.2 137.6" fill="none" stroke="#A0552A" stroke-width="2.80" stroke-opacity="0.75"/>
<path d="M242.9 156.3 C220.9 172.5 239.9 183.5 242.9 156.3" fill="none" stroke="#5AAEE0" stroke-width="1.21" stroke-opacity="0.75"/>
<path d="M268.5 163.2 C257.5 188.2 279.5 188.2 268.5 163.2" fill="none" stroke="#22306E" stroke-width="1.80" stroke-opacity="0.75"/>
<path d="M294.1 156.3 C297.1 183.5 316.1 172.5 294.1 156.3" fill="none" stroke="#3A9A72" stroke-width="1.00" stroke-opacity="0.75"/>
<path d="M312.8 137.6 C329.0 159.6 340.0 140.6 312.8 137.6" fill="none" stroke="#A8DC88" stroke-width="1.12" stroke-opacity="0.75"/>
<circle cx="268.50" cy="112.00" r="5.00" fill="#fff" fill-opacity="0.6"/>
<circle cx="319.70" cy="112.00" r="2.60" fill="#DD2A2A"/>
<circle cx="312.84" cy="86.40" r="2.60" fill="#3F7DB8"/>
<circle cx="294.10" cy="67.66" r="2.60" fill="#54B04E"/>
<circle cx="268.50" cy="60.80" r="2.60" fill="#8E4DA0"/>
<circle cx="242.90" cy="67.66" r="2.60" fill="#E89430"/>
<circle cx="224.16" cy="86.40" r="2.60" fill="#E67EBE"/>
<circle cx="217.30" cy="112.00" r="2.60" fill="#BDA0D0"/>
<circle cx="224.16" cy="137.60" r="2.60" fill="#A0552A"/>
<circle cx="242.90" cy="156.34" r="2.60" fill="#5AAEE0"/>
<circle cx="268.50" cy="163.20" r="2.60" fill="#22306E"/>
<circle cx="294.10" cy="156.34" r="2.60" fill="#3A9A72"/>
<circle cx="312.84" cy="137.60" r="2.60" fill="#A8DC88"/>
<text x="272.50" y="48.40" font-size="6.8" text-anchor="middle" fill="#000" dy="0.35em">DTNA+ Mac</text>
<text x="229.70" y="58.60" font-size="6.8" text-anchor="start" fill="#000" dy="0.35em">mDC</text>
<text x="292.00" y="56.00" font-size="6.8" text-anchor="start" fill="#000" dy="0.35em">inHSC</text>
<text x="309.00" y="79.10" font-size="6.8" text-anchor="start" fill="#000" dy="0.35em">hep-like HSC</text>
<text x="324.80" y="112.00" font-size="6.8" text-anchor="start" fill="#000" dy="0.35em">aHSC</text>
<text x="310.90" y="137.40" font-size="6.8" text-anchor="start" fill="#000" dy="0.35em">VCAN+ Mono</text>
<text x="291.50" y="162.70" font-size="6.8" text-anchor="start" fill="#000" dy="0.35em">VCAM1+ KC</text>
<text x="268.30" y="173.20" font-size="6.8" text-anchor="start" fill="#000" dy="0.35em">SMC</text>
<text x="229.70" y="167.10" font-size="6.8" text-anchor="start" fill="#000" dy="0.35em">SAA1+ KC</text>
<text x="210.50" y="146.10" font-size="6.8" text-anchor="start" fill="#000" dy="0.35em">qHSC</text>
<text x="200.80" y="114.60" font-size="6.8" text-anchor="start" fill="#000" dy="0.35em">pDC</text>
<text x="200.00" y="83.00" font-size="6.8" text-anchor="start" fill="#000" dy="0.35em">MKI67+ Mac</text>
<text x="226.80" y="33.70" font-size="7.1" text-anchor="start" fill="#000" dy="0.35em">Number of interactions − MASH</text>
<rect x="396.90" y="32.85" width="10.58" height="10.15" fill="#E8ECF2"/>
<rect x="407.33" y="32.85" width="10.58" height="10.15" fill="#F3E8E8"/>
<rect x="417.76" y="32.85" width="10.58" height="10.15" fill="#E3E8F0"/>
<rect x="428.19" y="32.85" width="10.58" height="10.15" fill="#A8222E"/>
<rect x="438.62" y="32.85" width="10.58" height="10.15" fill="#E3E8F0"/>
<rect x="449.05" y="32.85" width="10.58" height="10.15" fill="#B4C3DC"/>
<rect x="459.48" y="32.85" width="10.58" height="10.15" fill="#5A7DB8"/>
<rect x="469.91" y="32.85" width="10.58" height="10.15" fill="#D8DEEA"/>
<rect x="480.34" y="32.85" width="10.58" height="10.15" fill="#3A6AA8"/>
<rect x="490.77" y="32.85" width="10.58" height="10.15" fill="#7E98C4"/>
<rect x="501.20" y="32.85" width="10.58" height="10.15" fill="#D8DEEA"/>
<rect x="511.63" y="32.85" width="10.58" height="10.15" fill="#D8DEEA"/>
<rect x="396.90" y="42.85" width="10.58" height="10.15" fill="#BCC9DF"/>
<rect x="407.33" y="42.85" width="10.58" height="10.15" fill="#E6BEBE"/>
<rect x="417.76" y="42.85" width="10.58" height="10.15" fill="#E2E8F0"/>
<rect x="428.19" y="42.85" width="10.58" height="10.15" fill="#D08080"/>
<rect x="438.62" y="42.85" width="10.58" height="10.15" fill="#E2E8F0"/>
<rect x="449.05" y="42.85" width="10.58" height="10.15" fill="#F3E8E8"/>
<rect x="459.48" y="42.85" width="10.58" height="10.15" fill="#C2CDE0"/>
<rect x="469.91" y="42.85" width="10.58" height="10.15" fill="#9DB0D2"/>
<rect x="480.34" y="42.85" width="10.58" height="10.15" fill="#93A8CE"/>
<rect x="490.77" y="42.85" width="10.58" height="10.15" fill="#C6D0E2"/>
<rect x="501.20" y="42.85" width="10.58" height="10.15" fill="#ECEEF3"/>
<rect x="511.63" y="42.85" width="10.58" height="10.15" fill="#D8DEEA"/>
<rect x="396.90" y="52.85" width="10.58" height="10.15" fill="#F1DEDC"/>
<rect x="407.33" y="52.85" width="10.58" height="10.15" fill="#E2AFAE"/>
<rect x="417.76" y="52.85" width="10.58" height="10.15" fill="#FFFFFF"/>
<rect x="428.19" y="52.85" width="10.58" height="10.15" fill="#C96A68"/>
<rect x="438.62" y="52.85" width="10.58" height="10.15" fill="#EDEFF3"/>
<rect x="449.05" y="52.85" width="10.58" height="10.15" fill="#E2B0AF"/>
<rect x="459.48" y="52.85" width="10.58" height="10.15" fill="#B6C4DE"/>
<rect x="469.91" y="52.85" width="10.58" height="10.15" fill="#FFFFFF"/>
<rect x="480.34" y="52.85" width="10.58" height="10.15" fill="#B8C3DC"/>
<rect x="490.77" y="52.85" width="10.58" height="10.15" fill="#ECEEF3"/>
<rect x="501.20" y="52.85" width="10.58" height="10.15" fill="#F2E8E6"/>
<rect x="511.63" y="52.85" width="10.58" height="10.15" fill="#F2E8E6"/>
<rect x="396.90" y="62.85" width="10.58" height="10.15" fill="#D89090"/>
<rect x="407.33" y="62.85" width="10.58" height="10.15" fill="#F0DCDC"/>
<rect x="417.76" y="62.85" width="10.58" height="10.15" fill="#E8C0C0"/>
<rect x="428.19" y="62.85" width="10.58" height="10.15" fill="#F2E9E8"/>
<rect x="438.62" y="62.85" width="10.58" height="10.15" fill="#94A9CD"/>
<rect x="449.05" y="62.85" width="10.58" height="10.15" fill="#CED6E6"/>
<rect x="459.48" y="62.85" width="10.58" height="10.15" fill="#EEEFF4"/>
<rect x="469.91" y="62.85" width="10.58" height="10.15" fill="#E8BDBB"/>
<rect x="480.34" y="62.85" width="10.58" height="10.15" fill="#7E98C4"/>
<rect x="490.77" y="62.85" width="10.58" height="10.15" fill="#DBA5A2"/>
<rect x="501.20" y="62.85" width="10.58" height="10.15" fill="#DBE0EA"/>
<rect x="511.63" y="62.85" width="10.58" height="10.15" fill="#9DB0D2"/>
<rect x="396.90" y="72.85" width="10.58" height="10.15" fill="#E8BFBF"/>
<rect x="407.33" y="72.85" width="10.58" height="10.15" fill="#F3EBEA"/>
<rect x="417.76" y="72.85" width="10.58" height="10.15" fill="#F3EBEA"/>
<rect x="428.19" y="72.85" width="10.58" height="10.15" fill="#FFFFFF"/>
<rect x="438.62" y="72.85" width="10.58" height="10.15" fill="#6D8DBE"/>
<rect x="449.05" y="72.85" width="10.58" height="10.15" fill="#7F9AC6"/>
<rect x="459.48" y="72.85" width="10.58" height="10.15" fill="#D8DEEA"/>
<rect x="469.91" y="72.85" width="10.58" height="10.15" fill="#F1DEDC"/>
<rect x="480.34" y="72.85" width="10.58" height="10.15" fill="#5079B5"/>
<rect x="490.77" y="72.85" width="10.58" height="10.15" fill="#DBA5A2"/>
<rect x="501.20" y="72.85" width="10.58" height="10.15" fill="#B6C4DE"/>
<rect x="511.63" y="72.85" width="10.58" height="10.15" fill="#4E76B2"/>
<rect x="396.90" y="82.85" width="10.58" height="10.15" fill="#DDA3A1"/>
<rect x="407.33" y="82.85" width="10.58" height="10.15" fill="#F0DCDA"/>
<rect x="417.76" y="82.85" width="10.58" height="10.15" fill="#E7BDBD"/>
<rect x="428.19" y="82.85" width="10.58" height="10.15" fill="#CDD6E6"/>
<rect x="438.62" y="82.85" width="10.58" height="10.15" fill="#4A75AF"/>
<rect x="449.05" y="82.85" width="10.58" height="10.15" fill="#7F9AC6"/>
<rect x="459.48" y="82.85" width="10.58" height="10.15" fill="#C6D0E2"/>
<rect x="469.91" y="82.85" width="10.58" height="10.15" fill="#E6BAB8"/>
<rect x="480.34" y="82.85" width="10.58" height="10.15" fill="#7E98C4"/>
<rect x="490.77" y="82.85" width="10.58" height="10.15" fill="#E0B0AE"/>
<rect x="501.20" y="82.85" width="10.58" height="10.15" fill="#94A9CD"/>
<rect x="511.63" y="82.85" width="10.58" height="10.15" fill="#6588BC"/>
<rect x="396.90" y="92.85" width="10.58" height="10.15" fill="#F1DEDC"/>
<rect x="407.33" y="92.85" width="10.58" height="10.15" fill="#FFFFFF"/>
<rect x="417.76" y="92.85" width="10.58" height="10.15" fill="#FFFFFF"/>
<rect x="428.19" y="92.85" width="10.58" height="10.15" fill="#F1DEDC"/>
<rect x="438.62" y="92.85" width="10.58" height="10.15" fill="#E3E7EF"/>
<rect x="449.05" y="92.85" width="10.58" height="10.15" fill="#D0D7E6"/>
<rect x="459.48" y="92.85" width="10.58" height="10.15" fill="#F3E9E6"/>
<rect x="469.91" y="92.85" width="10.58" height="10.15" fill="#F1DEDC"/>
<rect x="480.34" y="92.85" width="10.58" height="10.15" fill="#D3DAE8"/>
<rect x="490.77" y="92.85" width="10.58" height="10.15" fill="#FFFFFF"/>
<rect x="501.20" y="92.85" width="10.58" height="10.15" fill="#EEEFF4"/>
<rect x="511.63" y="92.85" width="10.58" height="10.15" fill="#E3E7EF"/>
<rect x="396.90" y="102.85" width="10.58" height="10.15" fill="#8EA4CC"/>
<rect x="407.33" y="102.85" width="10.58" height="10.15" fill="#D3DAE8"/>
<rect x="417.76" y="102.85" width="10.58" height="10.15" fill="#B2C0DB"/>
<rect x="428.19" y="102.85" width="10.58" height="10.15" fill="#C96A68"/>
<rect x="438.62" y="102.85" width="10.58" height="10.15" fill="#EEEFF4"/>
<rect x="449.05" y="102.85" width="10.58" height="10.15" fill="#7790C2"/>
<rect x="459.48" y="102.85" width="10.58" height="10.15" fill="#6F8CC0"/>
<rect x="469.91" y="102.85" width="10.58" height="10.15" fill="#C6D0E2"/>
<rect x="480.34" y="102.85" width="10.58" height="10.15" fill="#4570AC"/>
<rect x="490.77" y="102.85" width="10.58" height="10.15" fill="#4570AC"/>
<rect x="501.20" y="102.85" width="10.58" height="10.15" fill="#879FCA"/>
<rect x="511.63" y="102.85" width="10.58" height="10.15" fill="#EEEFF4"/>
<rect x="396.90" y="112.85" width="10.58" height="10.15" fill="#E8C0BF"/>
<rect x="407.33" y="112.85" width="10.58" height="10.15" fill="#F1DEDC"/>
<rect x="417.76" y="112.85" width="10.58" height="10.15" fill="#E8C0BF"/>
<rect x="428.19" y="112.85" width="10.58" height="10.15" fill="#EBCFD0"/>
<rect x="438.62" y="112.85" width="10.58" height="10.15" fill="#FFFFFF"/>
<rect x="449.05" y="112.85" width="10.58" height="10.15" fill="#E3E7EF"/>
<rect x="459.48" y="112.85" width="10.58" height="10.15" fill="#FFFFFF"/>
<rect x="469.91" y="112.85" width="10.58" height="10.15" fill="#DFA9A6"/>
<rect x="480.34" y="112.85" width="10.58" height="10.15" fill="#EEEFF4"/>
<rect x="490.77" y="112.85" width="10.58" height="10.15" fill="#E0B0AE"/>
<rect x="501.20" y="112.85" width="10.58" height="10.15" fill="#F3E8E6"/>
<rect x="511.63" y="112.85" width="10.58" height="10.15" fill="#F3E8E6"/>
<rect x="396.90" y="122.85" width="10.58" height="10.15" fill="#F4EAE8"/>
<rect x="407.33" y="122.85" width="10.58" height="10.15" fill="#E3B2B0"/>
<rect x="417.76" y="122.85" width="10.58" height="10.15" fill="#F1E0DE"/>
<rect x="428.19" y="122.85" width="10.58" height="10.15" fill="#CF7B78"/>
<rect x="438.62" y="122.85" width="10.58" height="10.15" fill="#FFFFFF"/>
<rect x="449.05" y="122.85" width="10.58" height="10.15" fill="#FFFFFF"/>
<rect x="459.48" y="122.85" width="10.58" height="10.15" fill="#94A9CD"/>
<rect x="469.91" y="122.85" width="10.58" height="10.15" fill="#C6D0E2"/>
<rect x="480.34" y="122.85" width="10.58" height="10.15" fill="#9DB0D2"/>
<rect x="490.77" y="122.85" width="10.58" height="10.15" fill="#D8DEEA"/>
<rect x="501.20" y="122.85" width="10.58" height="10.15" fill="#E3E7EF"/>
<rect x="511.63" y="122.85" width="10.58" height="10.15" fill="#FFFFFF"/>
<rect x="396.90" y="132.85" width="10.58" height="10.15" fill="#F4EAE8"/>
<rect x="407.33" y="132.85" width="10.58" height="10.15" fill="#F4EAE8"/>
<rect x="417.76" y="132.85" width="10.58" height="10.15" fill="#FFFFFF"/>
<rect x="428.19" y="132.85" width="10.58" height="10.15" fill="#C6D0E2"/>
<rect x="438.62" y="132.85" width="10.58" height="10.15" fill="#B8C4DC"/>
<rect x="449.05" y="132.85" width="10.58" height="10.15" fill="#7A93C4"/>
<rect x="459.48" y="132.85" width="10.58" height="10.15" fill="#D3DAE8"/>
<rect x="469.91" y="132.85" width="10.58" height="10.15" fill="#FFFFFF"/>
<rect x="480.34" y="132.85" width="10.58" height="10.15" fill="#9DB0D2"/>
<rect x="490.77" y="132.85" width="10.58" height="10.15" fill="#F3E8E6"/>
<rect x="501.20" y="132.85" width="10.58" height="10.15" fill="#B6C4DE"/>
<rect x="511.63" y="132.85" width="10.58" height="10.15" fill="#9DB0D2"/>
<rect x="396.90" y="142.85" width="10.58" height="10.15" fill="#E3B2B0"/>
<rect x="407.33" y="142.85" width="10.58" height="10.15" fill="#FFFFFF"/>
<rect x="417.76" y="142.85" width="10.58" height="10.15" fill="#F1DEDC"/>
<rect x="428.19" y="142.85" width="10.58" height="10.15" fill="#EEEFF4"/>
<rect x="438.62" y="142.85" width="10.58" height="10.15" fill="#D3DAE8"/>
<rect x="449.05" y="142.85" width="10.58" height="10.15" fill="#B2C0DB"/>
<rect x="459.48" y="142.85" width="10.58" height="10.15" fill="#D8DEEA"/>
<rect x="469.91" y="142.85" width="10.58" height="10.15" fill="#E6BAB8"/>
<rect x="480.34" y="142.85" width="10.58" height="10.15" fill="#C6D0E2"/>
<rect x="490.77" y="142.85" width="10.58" height="10.15" fill="#E8C8C8"/>
<rect x="501.20" y="142.85" width="10.58" height="10.15" fill="#C6D0E2"/>
<rect x="511.63" y="142.85" width="10.58" height="10.15" fill="#DBE0EA"/>
<rect x="394.00" y="32.85" width="2.00" height="10.00" fill="#DD2A2A"/>
<rect x="394.00" y="42.85" width="2.00" height="10.00" fill="#3F7DB8"/>
<rect x="394.00" y="52.85" width="2.00" height="10.00" fill="#54B04E"/>
<rect x="394.00" y="62.85" width="2.00" height="10.00" fill="#8E4DA0"/>
<rect x="394.00" y="72.85" width="2.00" height="10.00" fill="#E89430"/>
<rect x="394.00" y="82.85" width="2.00" height="10.00" fill="#E67EBE"/>
<rect x="394.00" y="92.85" width="2.00" height="10.00" fill="#BDA0D0"/>
<rect x="394.00" y="102.85" width="2.00" height="10.00" fill="#A0552A"/>
<rect x="394.00" y="112.85" width="2.00" height="10.00" fill="#5AAEE0"/>
<rect x="394.00" y="122.85" width="2.00" height="10.00" fill="#22306E"/>
<rect x="394.00" y="132.85" width="2.00" height="10.00" fill="#3A9A72"/>
<rect x="394.00" y="142.85" width="2.00" height="10.00" fill="#A8DC88"/>
<rect x="396.90" y="153.95" width="10.43" height="1.90" fill="#DD2A2A"/>
<rect x="407.33" y="153.95" width="10.43" height="1.90" fill="#3F7DB8"/>
<rect x="417.76" y="153.95" width="10.43" height="1.90" fill="#54B04E"/>
<rect x="428.19" y="153.95" width="10.43" height="1.90" fill="#8E4DA0"/>
<rect x="438.62" y="153.95" width="10.43" height="1.90" fill="#E89430"/>
<rect x="449.05" y="153.95" width="10.43" height="1.90" fill="#E67EBE"/>
<rect x="459.48" y="153.95" width="10.43" height="1.90" fill="#BDA0D0"/>
<rect x="469.91" y="153.95" width="10.43" height="1.90" fill="#A0552A"/>
<rect x="480.34" y="153.95" width="10.43" height="1.90" fill="#5AAEE0"/>
<rect x="490.77" y="153.95" width="10.43" height="1.90" fill="#22306E"/>
<rect x="501.20" y="153.95" width="10.43" height="1.90" fill="#3A9A72"/>
<rect x="511.63" y="153.95" width="10.43" height="1.90" fill="#A8DC88"/>
<rect x="398.91" y="28.20" width="6.40" height="3.80" fill="#DD2A2A"/>
<rect x="409.34" y="30.00" width="6.40" height="2.00" fill="#3F7DB8"/>
<rect x="419.77" y="30.00" width="6.40" height="2.00" fill="#54B04E"/>
<rect x="430.20" y="26.70" width="6.40" height="5.30" fill="#8E4DA0"/>
<rect x="440.63" y="27.70" width="6.40" height="4.30" fill="#E89430"/>
<rect x="451.06" y="26.00" width="6.40" height="6.00" fill="#E67EBE"/>
<rect x="461.49" y="27.00" width="6.40" height="5.00" fill="#BDA0D0"/>
<rect x="471.92" y="28.70" width="6.40" height="3.30" fill="#A0552A"/>
<rect x="482.35" y="23.20" width="6.40" height="8.80" fill="#5AAEE0"/>
<rect x="492.78" y="27.00" width="6.40" height="5.00" fill="#22306E"/>
<rect x="503.21" y="28.00" width="6.40" height="4.00" fill="#3A9A72"/>
<rect x="513.64" y="27.20" width="6.40" height="4.80" fill="#A8DC88"/>
<rect x="523.06" y="34.85" width="6.80" height="6.00" fill="#DD2A2A"/>
<rect x="523.06" y="44.85" width="4.70" height="6.00" fill="#3F7DB8"/>
<rect x="523.06" y="54.85" width="3.50" height="6.00" fill="#54B04E"/>
<rect x="523.06" y="64.85" width="5.40" height="6.00" fill="#8E4DA0"/>
<rect x="523.06" y="74.85" width="6.50" height="6.00" fill="#E89430"/>
<rect x="523.06" y="84.85" width="7.70" height="6.00" fill="#E67EBE"/>
<rect x="523.06" y="94.85" width="1.90" height="6.00" fill="#BDA0D0"/>
<rect x="523.06" y="104.85" width="8.90" height="6.00" fill="#A0552A"/>
<rect x="523.06" y="114.85" width="3.00" height="6.00" fill="#5AAEE0"/>
<rect x="523.06" y="124.85" width="3.70" height="6.00" fill="#22306E"/>
<rect x="523.06" y="134.85" width="4.70" height="6.00" fill="#3A9A72"/>
<rect x="523.06" y="144.85" width="3.70" height="6.00" fill="#A8DC88"/>
<line x1="396.30" y1="23.00" x2="396.30" y2="32.00" stroke="#555" stroke-width="0.4"/>
<line x1="395.50" y1="24.00" x2="396.30" y2="24.00" stroke="#555" stroke-width="0.3"/>
<text x="393.90" y="24.00" font-size="2.8" text-anchor="middle" fill="#222" dy="0.35em" transform="rotate(-90 393.90 24.00)">10</text>
<line x1="395.50" y1="28.00" x2="396.30" y2="28.00" stroke="#555" stroke-width="0.3"/>
<text x="393.90" y="28.00" font-size="2.8" text-anchor="middle" fill="#222" dy="0.35em" transform="rotate(-90 393.90 28.00)">5</text>
<line x1="395.50" y1="31.60" x2="396.30" y2="31.60" stroke="#555" stroke-width="0.3"/>
<text x="393.90" y="31.60" font-size="2.8" text-anchor="middle" fill="#222" dy="0.35em" transform="rotate(-90 393.90 31.60)">0</text>
<line x1="523.06" y1="154.05" x2="532.06" y2="154.05" stroke="#777" stroke-width="0.3"/>
<text x="524.06" y="155.45" font-size="2.0" text-anchor="middle" fill="#555" dy="0.35em">0</text>
<text x="526.56" y="155.45" font-size="2.0" text-anchor="middle" fill="#555" dy="0.35em">1</text>
<text x="529.06" y="155.45" font-size="2.0" text-anchor="middle" fill="#555" dy="0.35em">2</text>
<text x="531.56" y="155.45" font-size="2.0" text-anchor="middle" fill="#555" dy="0.35em">3</text>
<text x="401.01" y="157.30" font-size="5.65" text-anchor="end" fill="#111" dy="0.35em" transform="rotate(-90 401.01 157.30)">aHSC</text>
<text x="411.44" y="157.30" font-size="5.65" text-anchor="end" fill="#111" dy="0.35em" transform="rotate(-90 411.44 157.30)">hep−like HSC</text>
<text x="421.87" y="157.30" font-size="5.65" text-anchor="end" fill="#111" dy="0.35em" transform="rotate(-90 421.87 157.30)">inHSC</text>
<text x="432.30" y="157.30" font-size="5.65" text-anchor="end" fill="#111" dy="0.35em" transform="rotate(-90 432.30 157.30)">DTNA+ Mac</text>
<text x="442.73" y="157.30" font-size="5.65" text-anchor="end" fill="#111" dy="0.35em" transform="rotate(-90 442.73 157.30)">mDC</text>
<text x="453.16" y="157.30" font-size="5.65" text-anchor="end" fill="#111" dy="0.35em" transform="rotate(-90 453.16 157.30)">MKI67+ Mac</text>
<text x="463.59" y="157.30" font-size="5.65" text-anchor="end" fill="#111" dy="0.35em" transform="rotate(-90 463.59 157.30)">pDC</text>
<text x="474.02" y="157.30" font-size="5.65" text-anchor="end" fill="#111" dy="0.35em" transform="rotate(-90 474.02 157.30)">qHSC</text>
<text x="484.45" y="157.30" font-size="5.65" text-anchor="end" fill="#111" dy="0.35em" transform="rotate(-90 484.45 157.30)">SAA1+ KC</text>
<text x="494.88" y="157.30" font-size="5.65" text-anchor="end" fill="#111" dy="0.35em" transform="rotate(-90 494.88 157.30)">SMC</text>
<text x="505.31" y="157.30" font-size="5.65" text-anchor="end" fill="#111" dy="0.35em" transform="rotate(-90 505.31 157.30)">VCAM1+ KC</text>
<text x="515.75" y="157.30" font-size="5.65" text-anchor="end" fill="#111" dy="0.35em" transform="rotate(-90 515.75 157.30)">VCAN+ Mono</text>
<text x="392.30" y="37.05" font-size="5.5" text-anchor="end" fill="#111" dy="0.35em">aHSC</text>
<text x="392.30" y="47.05" font-size="5.5" text-anchor="end" fill="#111" dy="0.35em">hep−like HSC</text>
<text x="392.30" y="57.05" font-size="5.5" text-anchor="end" fill="#111" dy="0.35em">inHSC</text>
<text x="392.30" y="67.05" font-size="5.5" text-anchor="end" fill="#111" dy="0.35em">DTNA+ Mac</text>
<text x="392.30" y="77.05" font-size="5.5" text-anchor="end" fill="#111" dy="0.35em">mDC</text>
<text x="392.30" y="87.05" font-size="5.5" text-anchor="end" fill="#111" dy="0.35em">MKI67+ Mac</text>
<text x="392.30" y="97.05" font-size="5.5" text-anchor="end" fill="#111" dy="0.35em">pDC</text>
<text x="392.30" y="107.05" font-size="5.5" text-anchor="end" fill="#111" dy="0.35em">qHSC</text>
<text x="392.30" y="117.05" font-size="5.5" text-anchor="end" fill="#111" dy="0.35em">SAA1+ KC</text>
<text x="392.30" y="127.05" font-size="5.5" text-anchor="end" fill="#111" dy="0.35em">SMC</text>
<text x="392.30" y="137.05" font-size="5.5" text-anchor="end" fill="#111" dy="0.35em">VCAM1+ KC</text>
<text x="392.30" y="147.05" font-size="5.5" text-anchor="end" fill="#111" dy="0.35em">VCAN+ Mono</text>
<text x="420.80" y="19.00" font-size="5.6" text-anchor="start" fill="#111" dy="0.35em">Differential number of interactions</text>
<rect x="536.60" y="32.85" width="10.62" height="10.15" fill="#E8ECF3"/>
<rect x="547.07" y="32.85" width="10.62" height="10.15" fill="#EEF0F2"/>
<rect x="557.54" y="32.85" width="10.62" height="10.15" fill="#8FA2CB"/>
<rect x="568.01" y="32.85" width="10.62" height="10.15" fill="#D68A8A"/>
<rect x="578.48" y="32.85" width="10.62" height="10.15" fill="#E8EAEE"/>
<rect x="588.95" y="32.85" width="10.62" height="10.15" fill="#9DB0D2"/>
<rect x="599.42" y="32.85" width="10.62" height="10.15" fill="#D3DAE8"/>
<rect x="609.89" y="32.85" width="10.62" height="10.15" fill="#4D78B2"/>
<rect x="620.36" y="32.85" width="10.62" height="10.15" fill="#B2BEDA"/>
<rect x="630.83" y="32.85" width="10.62" height="10.15" fill="#7E98C4"/>
<rect x="641.30" y="32.85" width="10.62" height="10.15" fill="#5A7FB8"/>
<rect x="651.77" y="32.85" width="10.62" height="10.15" fill="#6889BD"/>
<rect x="536.60" y="42.85" width="10.62" height="10.15" fill="#E8ECF3"/>
<rect x="547.07" y="42.85" width="10.62" height="10.15" fill="#F6F4F2"/>
<rect x="557.54" y="42.85" width="10.62" height="10.15" fill="#C6D0E2"/>
<rect x="568.01" y="42.85" width="10.62" height="10.15" fill="#E3B7B6"/>
<rect x="578.48" y="42.85" width="10.62" height="10.15" fill="#F3F3F3"/>
<rect x="588.95" y="42.85" width="10.62" height="10.15" fill="#DBE0EA"/>
<rect x="599.42" y="42.85" width="10.62" height="10.15" fill="#ECEEF3"/>
<rect x="609.89" y="42.85" width="10.62" height="10.15" fill="#A8B8D6"/>
<rect x="620.36" y="42.85" width="10.62" height="10.15" fill="#E3E7EF"/>
<rect x="630.83" y="42.85" width="10.62" height="10.15" fill="#C6D0E2"/>
<rect x="641.30" y="42.85" width="10.62" height="10.15" fill="#B6C4DE"/>
<rect x="651.77" y="42.85" width="10.62" height="10.15" fill="#AEBDDA"/>
<rect x="536.60" y="52.85" width="10.62" height="10.15" fill="#C6D0E2"/>
<rect x="547.07" y="52.85" width="10.62" height="10.15" fill="#E8ECF3"/>
<rect x="557.54" y="52.85" width="10.62" height="10.15" fill="#AEBDDA"/>
<rect x="568.01" y="52.85" width="10.62" height="10.15" fill="#F0F0F3"/>
<rect x="578.48" y="52.85" width="10.62" height="10.15" fill="#F0F0F3"/>
<rect x="588.95" y="52.85" width="10.62" height="10.15" fill="#D8DEEA"/>
<rect x="599.42" y="52.85" width="10.62" height="10.15" fill="#E8ECF3"/>
<rect x="609.89" y="52.85" width="10.62" height="10.15" fill="#8EA4CC"/>
<rect x="620.36" y="52.85" width="10.62" height="10.15" fill="#DBE0EA"/>
<rect x="630.83" y="52.85" width="10.62" height="10.15" fill="#AEBDDA"/>
<rect x="641.30" y="52.85" width="10.62" height="10.15" fill="#90A6CB"/>
<rect x="651.77" y="52.85" width="10.62" height="10.15" fill="#B2C0DB"/>
<rect x="536.60" y="62.85" width="10.62" height="10.15" fill="#D27A78"/>
<rect x="547.07" y="62.85" width="10.62" height="10.15" fill="#F1E0DE"/>
<rect x="557.54" y="62.85" width="10.62" height="10.15" fill="#E3B7B6"/>
<rect x="568.01" y="62.85" width="10.62" height="10.15" fill="#E8EAEE"/>
<rect x="578.48" y="62.85" width="10.62" height="10.15" fill="#E8EAEE"/>
<rect x="588.95" y="62.85" width="10.62" height="10.15" fill="#B6C4DE"/>
<rect x="599.42" y="62.85" width="10.62" height="10.15" fill="#C6D0E2"/>
<rect x="609.89" y="62.85" width="10.62" height="10.15" fill="#D67C7A"/>
<rect x="620.36" y="62.85" width="10.62" height="10.15" fill="#D3DAE8"/>
<rect x="630.83" y="62.85" width="10.62" height="10.15" fill="#D89090"/>
<rect x="641.30" y="62.85" width="10.62" height="10.15" fill="#B2C0DB"/>
<rect x="651.77" y="62.85" width="10.62" height="10.15" fill="#E3E7EF"/>
<rect x="536.60" y="72.85" width="10.62" height="10.15" fill="#D27A78"/>
<rect x="547.07" y="72.85" width="10.62" height="10.15" fill="#DA9C9B"/>
<rect x="557.54" y="72.85" width="10.62" height="10.15" fill="#C96462"/>
<rect x="568.01" y="72.85" width="10.62" height="10.15" fill="#E6E9EE"/>
<rect x="578.48" y="72.85" width="10.62" height="10.15" fill="#B8C4DC"/>
<rect x="588.95" y="72.85" width="10.62" height="10.15" fill="#90A6CB"/>
<rect x="599.42" y="72.85" width="10.62" height="10.15" fill="#B6C4DE"/>
<rect x="609.89" y="72.85" width="10.62" height="10.15" fill="#A91E2C"/>
<rect x="620.36" y="72.85" width="10.62" height="10.15" fill="#BCC9DF"/>
<rect x="630.83" y="72.85" width="10.62" height="10.15" fill="#B12834"/>
<rect x="641.30" y="72.85" width="10.62" height="10.15" fill="#94A9CD"/>
<rect x="651.77" y="72.85" width="10.62" height="10.15" fill="#CCD5E6"/>
<rect x="536.60" y="82.85" width="10.62" height="10.15" fill="#E6BEBC"/>
<rect x="547.07" y="82.85" width="10.62" height="10.15" fill="#F0F1F4"/>
<rect x="557.54" y="82.85" width="10.62" height="10.15" fill="#F3E9E6"/>
<rect x="568.01" y="82.85" width="10.62" height="10.15" fill="#E6E9F0"/>
<rect x="578.48" y="82.85" width="10.62" height="10.15" fill="#DCE1EA"/>
<rect x="588.95" y="82.85" width="10.62" height="10.15" fill="#B2C0DB"/>
<rect x="599.42" y="82.85" width="10.62" height="10.15" fill="#C6D0E2"/>
<rect x="609.89" y="82.85" width="10.62" height="10.15" fill="#E3B0AE"/>
<rect x="620.36" y="82.85" width="10.62" height="10.15" fill="#D3DAE8"/>
<rect x="630.83" y="82.85" width="10.62" height="10.15" fill="#D68A8A"/>
<rect x="641.30" y="82.85" width="10.62" height="10.15" fill="#9DB0D2"/>
<rect x="651.77" y="82.85" width="10.62" height="10.15" fill="#D8DEEA"/>
<rect x="536.60" y="92.85" width="10.62" height="10.15" fill="#E6BEBC"/>
<rect x="547.07" y="92.85" width="10.62" height="10.15" fill="#F0DCDA"/>
<rect x="557.54" y="92.85" width="10.62" height="10.15" fill="#EBD0D0"/>
<rect x="568.01" y="92.85" width="10.62" height="10.15" fill="#E8EAEE"/>
<rect x="578.48" y="92.85" width="10.62" height="10.15" fill="#E3E6EE"/>
<rect x="588.95" y="92.85" width="10.62" height="10.15" fill="#E6E9F0"/>
<rect x="599.42" y="92.85" width="10.62" height="10.15" fill="#E8ECF3"/>
<rect x="609.89" y="92.85" width="10.62" height="10.15" fill="#EBCFCF"/>
<rect x="620.36" y="92.85" width="10.62" height="10.15" fill="#E3E7EF"/>
<rect x="630.83" y="92.85" width="10.62" height="10.15" fill="#F0DCDA"/>
<rect x="641.30" y="92.85" width="10.62" height="10.15" fill="#D3DAE8"/>
<rect x="651.77" y="92.85" width="10.62" height="10.15" fill="#DBE0EA"/>
<rect x="536.60" y="102.85" width="10.62" height="10.15" fill="#A8B8D6"/>
<rect x="547.07" y="102.85" width="10.62" height="10.15" fill="#E6ECEE"/>
<rect x="557.54" y="102.85" width="10.62" height="10.15" fill="#7E98C4"/>
<rect x="568.01" y="102.85" width="10.62" height="10.15" fill="#E8EAEE"/>
<rect x="578.48" y="102.85" width="10.62" height="10.15" fill="#E3E6EE"/>
<rect x="588.95" y="102.85" width="10.62" height="10.15" fill="#8EA4CC"/>
<rect x="599.42" y="102.85" width="10.62" height="10.15" fill="#DBE0EA"/>
<rect x="609.89" y="102.85" width="10.62" height="10.15" fill="#3F6CA8"/>
<rect x="620.36" y="102.85" width="10.62" height="10.15" fill="#AEBDDA"/>
<rect x="630.83" y="102.85" width="10.62" height="10.15" fill="#6F8CC0"/>
<rect x="641.30" y="102.85" width="10.62" height="10.15" fill="#3F6CA8"/>
<rect x="651.77" y="102.85" width="10.62" height="10.15" fill="#7E98C4"/>
<rect x="536.60" y="112.85" width="10.62" height="10.15" fill="#D68A8A"/>
<rect x="547.07" y="112.85" width="10.62" height="10.15" fill="#F0DCDA"/>
<rect x="557.54" y="112.85" width="10.62" height="10.15" fill="#DDA6A3"/>
<rect x="568.01" y="112.85" width="10.62" height="10.15" fill="#F0E0DE"/>
<rect x="578.48" y="112.85" width="10.62" height="10.15" fill="#F4F4F4"/>
<rect x="588.95" y="112.85" width="10.62" height="10.15" fill="#EEEFF2"/>
<rect x="599.42" y="112.85" width="10.62" height="10.15" fill="#F4F4F4"/>
<rect x="609.89" y="112.85" width="10.62" height="10.15" fill="#C55A5A"/>
<rect x="620.36" y="112.85" width="10.62" height="10.15" fill="#F4F4F4"/>
<rect x="630.83" y="112.85" width="10.62" height="10.15" fill="#D68A8A"/>
<rect x="641.30" y="112.85" width="10.62" height="10.15" fill="#F4F4F4"/>
<rect x="651.77" y="112.85" width="10.62" height="10.15" fill="#F4F4F4"/>
<rect x="536.60" y="122.85" width="10.62" height="10.15" fill="#F4F4F4"/>
<rect x="547.07" y="122.85" width="10.62" height="10.15" fill="#F3E8E6"/>
<rect x="557.54" y="122.85" width="10.62" height="10.15" fill="#DBE0EA"/>
<rect x="568.01" y="122.85" width="10.62" height="10.15" fill="#F4ECEA"/>
<rect x="578.48" y="122.85" width="10.62" height="10.15" fill="#F1E5E3"/>
<rect x="588.95" y="122.85" width="10.62" height="10.15" fill="#CCD5E6"/>
<rect x="599.42" y="122.85" width="10.62" height="10.15" fill="#E8EAEE"/>
<rect x="609.89" y="122.85" width="10.62" height="10.15" fill="#B2C0DB"/>
<rect x="620.36" y="122.85" width="10.62" height="10.15" fill="#E3E6EE"/>
<rect x="630.83" y="122.85" width="10.62" height="10.15" fill="#C6D0E2"/>
<rect x="641.30" y="122.85" width="10.62" height="10.15" fill="#AEBDDA"/>
<rect x="651.77" y="122.85" width="10.62" height="10.15" fill="#AEBDDA"/>
<rect x="536.60" y="132.85" width="10.62" height="10.15" fill="#E8ECF3"/>
<rect x="547.07" y="132.85" width="10.62" height="10.15" fill="#F0F1F4"/>
<rect x="557.54" y="132.85" width="10.62" height="10.15" fill="#E3E7EF"/>
<rect x="568.01" y="132.85" width="10.62" height="10.15" fill="#E8EAEE"/>
<rect x="578.48" y="132.85" width="10.62" height="10.15" fill="#E8EAEE"/>
<rect x="588.95" y="132.85" width="10.62" height="10.15" fill="#DBE0EA"/>
<rect x="599.42" y="132.85" width="10.62" height="10.15" fill="#E8EAEE"/>
<rect x="609.89" y="132.85" width="10.62" height="10.15" fill="#EBECF3"/>
<rect x="620.36" y="132.85" width="10.62" height="10.15" fill="#E8EAEE"/>
<rect x="630.83" y="132.85" width="10.62" height="10.15" fill="#D27A78"/>
<rect x="641.30" y="132.85" width="10.62" height="10.15" fill="#B6C4DE"/>
<rect x="651.77" y="132.85" width="10.62" height="10.15" fill="#E3E6EE"/>
<rect x="536.60" y="142.85" width="10.62" height="10.15" fill="#D27A78"/>
<rect x="547.07" y="142.85" width="10.62" height="10.15" fill="#EBCCCC"/>
<rect x="557.54" y="142.85" width="10.62" height="10.15" fill="#DDA6A3"/>
<rect x="568.01" y="142.85" width="10.62" height="10.15" fill="#EEEFF2"/>
<rect x="578.48" y="142.85" width="10.62" height="10.15" fill="#EEEFF2"/>
<rect x="588.95" y="142.85" width="10.62" height="10.15" fill="#E0E3EC"/>
<rect x="599.42" y="142.85" width="10.62" height="10.15" fill="#E8ECF3"/>
<rect x="609.89" y="142.85" width="10.62" height="10.15" fill="#D27A78"/>
<rect x="620.36" y="142.85" width="10.62" height="10.15" fill="#E3E7EF"/>
<rect x="630.83" y="142.85" width="10.62" height="10.15" fill="#DDA6A3"/>
<rect x="641.30" y="142.85" width="10.62" height="10.15" fill="#CED5E6"/>
<rect x="651.77" y="142.85" width="10.62" height="10.15" fill="#E8EAEE"/>
<rect x="533.70" y="32.85" width="2.00" height="10.00" fill="#DD2A2A"/>
<rect x="533.70" y="42.85" width="2.00" height="10.00" fill="#3F7DB8"/>
<rect x="533.70" y="52.85" width="2.00" height="10.00" fill="#54B04E"/>
<rect x="533.70" y="62.85" width="2.00" height="10.00" fill="#8E4DA0"/>
<rect x="533.70" y="72.85" width="2.00" height="10.00" fill="#E89430"/>
<rect x="533.70" y="82.85" width="2.00" height="10.00" fill="#E67EBE"/>
<rect x="533.70" y="92.85" width="2.00" height="10.00" fill="#BDA0D0"/>
<rect x="533.70" y="102.85" width="2.00" height="10.00" fill="#A0552A"/>
<rect x="533.70" y="112.85" width="2.00" height="10.00" fill="#5AAEE0"/>
<rect x="533.70" y="122.85" width="2.00" height="10.00" fill="#22306E"/>
<rect x="533.70" y="132.85" width="2.00" height="10.00" fill="#3A9A72"/>
<rect x="533.70" y="142.85" width="2.00" height="10.00" fill="#A8DC88"/>
<rect x="536.60" y="153.95" width="10.47" height="1.90" fill="#DD2A2A"/>
<rect x="547.07" y="153.95" width="10.47" height="1.90" fill="#3F7DB8"/>
<rect x="557.54" y="153.95" width="10.47" height="1.90" fill="#54B04E"/>
<rect x="568.01" y="153.95" width="10.47" height="1.90" fill="#8E4DA0"/>
<rect x="578.48" y="153.95" width="10.47" height="1.90" fill="#E89430"/>
<rect x="588.95" y="153.95" width="10.47" height="1.90" fill="#E67EBE"/>
<rect x="599.42" y="153.95" width="10.47" height="1.90" fill="#BDA0D0"/>
<rect x="609.89" y="153.95" width="10.47" height="1.90" fill="#A0552A"/>
<rect x="620.36" y="153.95" width="10.47" height="1.90" fill="#5AAEE0"/>
<rect x="630.83" y="153.95" width="10.47" height="1.90" fill="#22306E"/>
<rect x="641.30" y="153.95" width="10.47" height="1.90" fill="#3A9A72"/>
<rect x="651.77" y="153.95" width="10.47" height="1.90" fill="#A8DC88"/>
<rect x="538.63" y="29.60" width="6.40" height="2.40" fill="#DD2A2A"/>
<rect x="549.11" y="30.90" width="6.40" height="1.10" fill="#3F7DB8"/>
<rect x="559.58" y="27.70" width="6.40" height="4.30" fill="#54B04E"/>
<rect x="570.04" y="30.30" width="6.40" height="1.70" fill="#8E4DA0"/>
<rect x="580.51" y="30.00" width="6.40" height="2.00" fill="#E89430"/>
<rect x="590.99" y="26.30" width="6.40" height="5.70" fill="#E67EBE"/>
<rect x="601.46" y="29.00" width="6.40" height="3.00" fill="#BDA0D0"/>
<rect x="611.92" y="25.80" width="6.40" height="6.20" fill="#A0552A"/>
<rect x="622.39" y="27.90" width="6.40" height="4.10" fill="#5AAEE0"/>
<rect x="632.87" y="27.00" width="6.40" height="5.00" fill="#22306E"/>
<rect x="643.34" y="23.20" width="6.40" height="8.80" fill="#3A9A72"/>
<rect x="653.80" y="26.00" width="6.40" height="6.00" fill="#A8DC88"/>
<rect x="663.24" y="34.85" width="7.70" height="6.00" fill="#DD2A2A"/>
<rect x="663.24" y="44.85" width="3.60" height="6.00" fill="#3F7DB8"/>
<rect x="663.24" y="54.85" width="4.75" height="6.00" fill="#54B04E"/>
<rect x="663.24" y="64.85" width="2.90" height="6.00" fill="#8E4DA0"/>
<rect x="663.24" y="74.85" width="4.75" height="6.00" fill="#E89430"/>
<rect x="663.24" y="84.85" width="3.40" height="6.00" fill="#E67EBE"/>
<rect x="663.24" y="94.85" width="2.00" height="6.00" fill="#BDA0D0"/>
<rect x="663.24" y="104.85" width="8.80" height="6.00" fill="#A0552A"/>
<rect x="663.24" y="114.85" width="1.10" height="6.00" fill="#5AAEE0"/>
<rect x="663.24" y="124.85" width="2.90" height="6.00" fill="#22306E"/>
<rect x="663.24" y="134.85" width="3.40" height="6.00" fill="#3A9A72"/>
<rect x="663.24" y="144.85" width="2.00" height="6.00" fill="#A8DC88"/>
<line x1="536.00" y1="23.00" x2="536.00" y2="32.00" stroke="#555" stroke-width="0.4"/>
<line x1="535.20" y1="24.00" x2="536.00" y2="24.00" stroke="#555" stroke-width="0.3"/>
<text x="533.60" y="24.00" font-size="2.8" text-anchor="middle" fill="#222" dy="0.35em" transform="rotate(-90 533.60 24.00)">10</text>
<line x1="535.20" y1="28.00" x2="536.00" y2="28.00" stroke="#555" stroke-width="0.3"/>
<text x="533.60" y="28.00" font-size="2.8" text-anchor="middle" fill="#222" dy="0.35em" transform="rotate(-90 533.60 28.00)">5</text>
<line x1="535.20" y1="31.60" x2="536.00" y2="31.60" stroke="#555" stroke-width="0.3"/>
<text x="533.60" y="31.60" font-size="2.8" text-anchor="middle" fill="#222" dy="0.35em" transform="rotate(-90 533.60 31.60)">0</text>
<line x1="663.24" y1="154.05" x2="672.24" y2="154.05" stroke="#777" stroke-width="0.3"/>
<text x="664.24" y="155.45" font-size="2.0" text-anchor="middle" fill="#555" dy="0.35em">0</text>
<text x="666.74" y="155.45" font-size="2.0" text-anchor="middle" fill="#555" dy="0.35em">1</text>
<text x="669.24" y="155.45" font-size="2.0" text-anchor="middle" fill="#555" dy="0.35em">2</text>
<text x="671.74" y="155.45" font-size="2.0" text-anchor="middle" fill="#555" dy="0.35em">3</text>
<text x="540.74" y="157.30" font-size="5.65" text-anchor="end" fill="#111" dy="0.35em" transform="rotate(-90 540.74 157.30)">aHSC</text>
<text x="551.21" y="157.30" font-size="5.65" text-anchor="end" fill="#111" dy="0.35em" transform="rotate(-90 551.21 157.30)">hep−like HSC</text>
<text x="561.68" y="157.30" font-size="5.65" text-anchor="end" fill="#111" dy="0.35em" transform="rotate(-90 561.68 157.30)">inHSC</text>
<text x="572.14" y="157.30" font-size="5.65" text-anchor="end" fill="#111" dy="0.35em" transform="rotate(-90 572.14 157.30)">DTNA+ Mac</text>
<text x="582.62" y="157.30" font-size="5.65" text-anchor="end" fill="#111" dy="0.35em" transform="rotate(-90 582.62 157.30)">mDC</text>
<text x="593.09" y="157.30" font-size="5.65" text-anchor="end" fill="#111" dy="0.35em" transform="rotate(-90 593.09 157.30)">MKI67+ Mac</text>
<text x="603.56" y="157.30" font-size="5.65" text-anchor="end" fill="#111" dy="0.35em" transform="rotate(-90 603.56 157.30)">pDC</text>
<text x="614.02" y="157.30" font-size="5.65" text-anchor="end" fill="#111" dy="0.35em" transform="rotate(-90 614.02 157.30)">qHSC</text>
<text x="624.50" y="157.30" font-size="5.65" text-anchor="end" fill="#111" dy="0.35em" transform="rotate(-90 624.50 157.30)">SAA1+ KC</text>
<text x="634.97" y="157.30" font-size="5.65" text-anchor="end" fill="#111" dy="0.35em" transform="rotate(-90 634.97 157.30)">SMC</text>
<text x="645.44" y="157.30" font-size="5.65" text-anchor="end" fill="#111" dy="0.35em" transform="rotate(-90 645.44 157.30)">VCAM1+ KC</text>
<text x="655.90" y="157.30" font-size="5.65" text-anchor="end" fill="#111" dy="0.35em" transform="rotate(-90 655.90 157.30)">VCAN+ Mono</text>
<text x="562.90" y="19.00" font-size="5.6" text-anchor="start" fill="#111" dy="0.35em">Differential interaction strength</text>
<text x="354.10" y="80.60" font-size="6.2" text-anchor="middle" fill="#111" dy="0.35em" transform="rotate(-90 354.10 80.60)">Sources (Sender)</text>
<defs><linearGradient id="gradB" x1="0" y1="1" x2="0" y2="0"><stop offset="0" stop-color="#2F5D9E"/><stop offset="0.5" stop-color="#FFFFFF"/><stop offset="1" stop-color="#B2182B"/></linearGradient></defs>
<rect x="677.30" y="83.90" width="2.40" height="18.30" fill="url(#gradB)"/>
<text x="674.60" y="92.40" font-size="3.7" text-anchor="middle" fill="#333" dy="0.35em" transform="rotate(-90 674.60 92.40)">Relative values</text>
<text x="681.60" y="85.50" font-size="2.4" text-anchor="middle" fill="#444" dy="0.35em" transform="rotate(-90 681.60 85.50)">2</text>
<text x="681.60" y="89.30" font-size="2.4" text-anchor="middle" fill="#444" dy="0.35em" transform="rotate(-90 681.60 89.30)">1</text>
<text x="681.60" y="93.10" font-size="2.4" text-anchor="middle" fill="#444" dy="0.35em" transform="rotate(-90 681.60 93.10)">0</text>
<text x="681.60" y="96.90" font-size="2.4" text-anchor="middle" fill="#444" dy="0.35em" transform="rotate(-90 681.60 96.90)">−1</text>
<text x="681.60" y="100.70" font-size="2.4" text-anchor="middle" fill="#444" dy="0.35em" transform="rotate(-90 681.60 100.70)">−2</text>
<line x1="91.40" y1="223.00" x2="91.40" y2="455.40" stroke="#EBEBEB" stroke-width="0.35"/>
<line x1="102.02" y1="223.00" x2="102.02" y2="455.40" stroke="#EBEBEB" stroke-width="0.35"/>
<line x1="112.64" y1="223.00" x2="112.64" y2="455.40" stroke="#EBEBEB" stroke-width="0.35"/>
<line x1="123.26" y1="223.00" x2="123.26" y2="455.40" stroke="#EBEBEB" stroke-width="0.35"/>
<line x1="133.88" y1="223.00" x2="133.88" y2="455.40" stroke="#EBEBEB" stroke-width="0.35"/>
<line x1="144.50" y1="223.00" x2="144.50" y2="455.40" stroke="#EBEBEB" stroke-width="0.35"/>
<line x1="155.12" y1="223.00" x2="155.12" y2="455.40" stroke="#EBEBEB" stroke-width="0.35"/>
<line x1="165.74" y1="223.00" x2="165.74" y2="455.40" stroke="#EBEBEB" stroke-width="0.35"/>
<line x1="176.36" y1="223.00" x2="176.36" y2="455.40" stroke="#EBEBEB" stroke-width="0.35"/>
<line x1="186.98" y1="223.00" x2="186.98" y2="455.40" stroke="#EBEBEB" stroke-width="0.35"/>
<line x1="197.60" y1="223.00" x2="197.60" y2="455.40" stroke="#EBEBEB" stroke-width="0.35"/>
<line x1="208.22" y1="223.00" x2="208.22" y2="455.40" stroke="#EBEBEB" stroke-width="0.35"/>
<line x1="218.84" y1="223.00" x2="218.84" y2="455.40" stroke="#EBEBEB" stroke-width="0.35"/>
<line x1="229.46" y1="223.00" x2="229.46" y2="455.40" stroke="#EBEBEB" stroke-width="0.35"/>
<line x1="240.08" y1="223.00" x2="240.08" y2="455.40" stroke="#EBEBEB" stroke-width="0.35"/>
<line x1="250.70" y1="223.00" x2="250.70" y2="455.40" stroke="#EBEBEB" stroke-width="0.35"/>
<line x1="261.32" y1="223.00" x2="261.32" y2="455.40" stroke="#EBEBEB" stroke-width="0.35"/>
<line x1="271.94" y1="223.00" x2="271.94" y2="455.40" stroke="#EBEBEB" stroke-width="0.35"/>
<line x1="282.56" y1="223.00" x2="282.56" y2="455.40" stroke="#EBEBEB" stroke-width="0.35"/>
<line x1="293.18" y1="223.00" x2="293.18" y2="455.40" stroke="#EBEBEB" stroke-width="0.35"/>
<line x1="303.80" y1="223.00" x2="303.80" y2="455.40" stroke="#EBEBEB" stroke-width="0.35"/>
<line x1="314.42" y1="223.00" x2="314.42" y2="455.40" stroke="#EBEBEB" stroke-width="0.35"/>
<line x1="84.70" y1="227.30" x2="320.60" y2="227.30" stroke="#EBEBEB" stroke-width="0.35"/>
<line x1="84.70" y1="234.30" x2="320.60" y2="234.30" stroke="#EBEBEB" stroke-width="0.35"/>
<line x1="84.70" y1="241.30" x2="320.60" y2="241.30" stroke="#EBEBEB" stroke-width="0.35"/>
<line x1="84.70" y1="248.30" x2="320.60" y2="248.30" stroke="#EBEBEB" stroke-width="0.35"/>
<line x1="84.70" y1="255.30" x2="320.60" y2="255.30" stroke="#EBEBEB" stroke-width="0.35"/>
<line x1="84.70" y1="262.30" x2="320.60" y2="262.30" stroke="#EBEBEB" stroke-width="0.35"/>
<line x1="84.70" y1="269.30" x2="320.60" y2="269.30" stroke="#EBEBEB" stroke-width="0.35"/>
<line x1="84.70" y1="276.30" x2="320.60" y2="276.30" stroke="#EBEBEB" stroke-width="0.35"/>
<line x1="84.70" y1="283.30" x2="320.60" y2="283.30" stroke="#EBEBEB" stroke-width="0.35"/>
<line x1="84.70" y1="290.30" x2="320.60" y2="290.30" stroke="#EBEBEB" stroke-width="0.35"/>
<line x1="84.70" y1="297.30" x2="320.60" y2="297.30" stroke="#EBEBEB" stroke-width="0.35"/>
<line x1="84.70" y1="304.30" x2="320.60" y2="304.30" stroke="#EBEBEB" stroke-width="0.35"/>
<line x1="84.70" y1="311.30" x2="320.60" y2="311.30" stroke="#EBEBEB" stroke-width="0.35"/>
<line x1="84.70" y1="318.30" x2="320.60" y2="318.30" stroke="#EBEBEB" stroke-width="0.35"/>
<line x1="84.70" y1="325.30" x2="320.60" y2="325.30" stroke="#EBEBEB" stroke-width="0.35"/>
<line x1="84.70" y1="332.30" x2="320.60" y2="332.30" stroke="#EBEBEB" stroke-width="0.35"/>
<line x1="84.70" y1="339.30" x2="320.60" y2="339.30" stroke="#EBEBEB" stroke-width="0.35"/>
<line x1="84.70" y1="346.30" x2="320.60" y2="346.30" stroke="#EBEBEB" stroke-width="0.35"/>
<line x1="84.70" y1="353.30" x2="320.60" y2="353.30" stroke="#EBEBEB" stroke-width="0.35"/>
<line x1="84.70" y1="360.30" x2="320.60" y2="360.30" stroke="#EBEBEB" stroke-width="0.35"/>
<line x1="84.70" y1="367.30" x2="320.60" y2="367.30" stroke="#EBEBEB" stroke-width="0.35"/>
<line x1="84.70" y1="374.30" x2="320.60" y2="374.30" stroke="#EBEBEB" stroke-width="0.35"/>
<line x1="84.70" y1="381.30" x2="320.60" y2="381.30" stroke="#EBEBEB" stroke-width="0.35"/>
<line x1="84.70" y1="388.30" x2="320.60" y2="388.30" stroke="#EBEBEB" stroke-width="0.35"/>
<line x1="84.70" y1="395.30" x2="320.60" y2="395.30" stroke="#EBEBEB" stroke-width="0.35"/>
<line x1="84.70" y1="402.30" x2="320.60" y2="402.30" stroke="#EBEBEB" stroke-width="0.35"/>
<line x1="84.70" y1="409.30" x2="320.60" y2="409.30" stroke="#EBEBEB" stroke-width="0.35"/>
<line x1="84.70" y1="416.30" x2="320.60" y2="416.30" stroke="#EBEBEB" stroke-width="0.35"/>
<line x1="84.70" y1="423.30" x2="320.60" y2="423.30" stroke="#EBEBEB" stroke-width="0.35"/>
<line x1="84.70" y1="430.30" x2="320.60" y2="430.30" stroke="#EBEBEB" stroke-width="0.35"/>
<line x1="84.70" y1="437.30" x2="320.60" y2="437.30" stroke="#EBEBEB" stroke-width="0.35"/>
<line x1="84.70" y1="444.30" x2="320.60" y2="444.30" stroke="#EBEBEB" stroke-width="0.35"/>
<line x1="84.70" y1="451.30" x2="320.60" y2="451.30" stroke="#EBEBEB" stroke-width="0.35"/>
<line x1="107.33" y1="223.00" x2="107.33" y2="455.40" stroke="#9A9A9A" stroke-width="0.4" stroke-dasharray="0.9 0.9"/>
<line x1="128.57" y1="223.00" x2="128.57" y2="455.40" stroke="#9A9A9A" stroke-width="0.4" stroke-dasharray="0.9 0.9"/>
<line x1="149.81" y1="223.00" x2="149.81" y2="455.40" stroke="#9A9A9A" stroke-width="0.4" stroke-dasharray="0.9 0.9"/>
<line x1="171.05" y1="223.00" x2="171.05" y2="455.40" stroke="#9A9A9A" stroke-width="0.4" stroke-dasharray="0.9 0.9"/>
<line x1="192.29" y1="223.00" x2="192.29" y2="455.40" stroke="#9A9A9A" stroke-width="0.4" stroke-dasharray="0.9 0.9"/>
<line x1="213.53" y1="223.00" x2="213.53" y2="455.40" stroke="#9A9A9A" stroke-width="0.4" stroke-dasharray="0.9 0.9"/>
<line x1="234.77" y1="223.00" x2="234.77" y2="455.40" stroke="#9A9A9A" stroke-width="0.4" stroke-dasharray="0.9 0.9"/>
<line x1="256.01" y1="223.00" x2="256.01" y2="455.40" stroke="#9A9A9A" stroke-width="0.4" stroke-dasharray="0.9 0.9"/>
<line x1="277.25" y1="223.00" x2="277.25" y2="455.40" stroke="#9A9A9A" stroke-width="0.4" stroke-dasharray="0.9 0.9"/>
<line x1="298.49" y1="223.00" x2="298.49" y2="455.40" stroke="#9A9A9A" stroke-width="0.4" stroke-dasharray="0.9 0.9"/>
<rect x="84.7" y="223.0" width="235.90" height="232.40" fill="none" stroke="#3a3a3a" stroke-width="0.7"/>
<line x1="82.50" y1="227.30" x2="84.70" y2="227.30" stroke="#444" stroke-width="0.45"/>
<text x="80.70" y="227.30" font-size="5.95" text-anchor="end" fill="#1a1a1a" dy="0.35em">VTN − (ITGAV+ITGB5)</text>
<line x1="82.50" y1="234.30" x2="84.70" y2="234.30" stroke="#444" stroke-width="0.45"/>
<text x="80.70" y="234.30" font-size="5.95" text-anchor="end" fill="#1a1a1a" dy="0.35em">VTN − (ITGAV+ITGB1)</text>
<line x1="82.50" y1="241.30" x2="84.70" y2="241.30" stroke="#444" stroke-width="0.45"/>
<text x="80.70" y="241.30" font-size="5.95" text-anchor="end" fill="#1a1a1a" dy="0.35em">VCAM1 − (ITGA9+ITGB1)</text>
<line x1="82.50" y1="248.30" x2="84.70" y2="248.30" stroke="#444" stroke-width="0.45"/>
<text x="80.70" y="248.30" font-size="5.95" text-anchor="end" fill="#1a1a1a" dy="0.35em">VCAM1 − (ITGA4+ITGB1)</text>
<line x1="82.50" y1="255.30" x2="84.70" y2="255.30" stroke="#444" stroke-width="0.45"/>
<text x="80.70" y="255.30" font-size="5.95" text-anchor="end" fill="#1a1a1a" dy="0.35em">TGFB1 − (TGFBR1+TGFBR2)</text>
<line x1="82.50" y1="262.30" x2="84.70" y2="262.30" stroke="#444" stroke-width="0.45"/>
<text x="80.70" y="262.30" font-size="5.95" text-anchor="end" fill="#1a1a1a" dy="0.35em">SIGLEC1 − SPN</text>
<line x1="82.50" y1="269.30" x2="84.70" y2="269.30" stroke="#444" stroke-width="0.45"/>
<text x="80.70" y="269.30" font-size="5.95" text-anchor="end" fill="#1a1a1a" dy="0.35em">PTPRC − MRC1</text>
<line x1="82.50" y1="276.30" x2="84.70" y2="276.30" stroke="#444" stroke-width="0.45"/>
<text x="80.70" y="276.30" font-size="5.95" text-anchor="end" fill="#1a1a1a" dy="0.35em">PLG − PARD3</text>
<line x1="82.50" y1="283.30" x2="84.70" y2="283.30" stroke="#444" stroke-width="0.45"/>
<text x="80.70" y="283.30" font-size="5.95" text-anchor="end" fill="#1a1a1a" dy="0.35em">PECAM1 − PECAM1</text>
<line x1="82.50" y1="290.30" x2="84.70" y2="290.30" stroke="#444" stroke-width="0.45"/>
<text x="80.70" y="290.30" font-size="5.95" text-anchor="end" fill="#1a1a1a" dy="0.35em">PDGFC − PDGFRA</text>
<line x1="82.50" y1="297.30" x2="84.70" y2="297.30" stroke="#444" stroke-width="0.45"/>
<text x="80.70" y="297.30" font-size="5.95" text-anchor="end" fill="#1a1a1a" dy="0.35em">NAMPT − INSR</text>
<line x1="82.50" y1="304.30" x2="84.70" y2="304.30" stroke="#444" stroke-width="0.45"/>
<text x="80.70" y="304.30" font-size="5.95" text-anchor="end" fill="#1a1a1a" dy="0.35em">ITGB2 − ICAM1</text>
<line x1="82.50" y1="311.30" x2="84.70" y2="311.30" stroke="#444" stroke-width="0.45"/>
<text x="80.70" y="311.30" font-size="5.95" text-anchor="end" fill="#1a1a1a" dy="0.35em">ITGB2 − CD226</text>
<line x1="82.50" y1="318.30" x2="84.70" y2="318.30" stroke="#444" stroke-width="0.45"/>
<text x="80.70" y="318.30" font-size="5.95" text-anchor="end" fill="#1a1a1a" dy="0.35em">HLA−DRB5 − CD4</text>
<line x1="82.50" y1="325.30" x2="84.70" y2="325.30" stroke="#444" stroke-width="0.45"/>
<text x="80.70" y="325.30" font-size="5.95" text-anchor="end" fill="#1a1a1a" dy="0.35em">HLA−DRB1 − CD4</text>
<line x1="82.50" y1="332.30" x2="84.70" y2="332.30" stroke="#444" stroke-width="0.45"/>
<text x="80.70" y="332.30" font-size="5.95" text-anchor="end" fill="#1a1a1a" dy="0.35em">HLA−DRA − CD4</text>
<line x1="82.50" y1="339.30" x2="84.70" y2="339.30" stroke="#444" stroke-width="0.45"/>
<text x="80.70" y="339.30" font-size="5.95" text-anchor="end" fill="#1a1a1a" dy="0.35em">HLA−DQB1 − CD4</text>
<line x1="82.50" y1="346.30" x2="84.70" y2="346.30" stroke="#444" stroke-width="0.45"/>
<text x="80.70" y="346.30" font-size="5.95" text-anchor="end" fill="#1a1a1a" dy="0.35em">HLA−DQA1 − CD4</text>
<line x1="82.50" y1="353.30" x2="84.70" y2="353.30" stroke="#444" stroke-width="0.45"/>
<text x="80.70" y="353.30" font-size="5.95" text-anchor="end" fill="#1a1a1a" dy="0.35em">HLA−DPB1 − CD4</text>
<line x1="82.50" y1="360.30" x2="84.70" y2="360.30" stroke="#444" stroke-width="0.45"/>
<text x="80.70" y="360.30" font-size="5.95" text-anchor="end" fill="#1a1a1a" dy="0.35em">HLA−DPA1 − CD4</text>
<line x1="82.50" y1="367.30" x2="84.70" y2="367.30" stroke="#444" stroke-width="0.45"/>
<text x="80.70" y="367.30" font-size="5.95" text-anchor="end" fill="#1a1a1a" dy="0.35em">HLA−DMB − CD4</text>
<line x1="82.50" y1="374.30" x2="84.70" y2="374.30" stroke="#444" stroke-width="0.45"/>
<text x="80.70" y="374.30" font-size="5.95" text-anchor="end" fill="#1a1a1a" dy="0.35em">HLA−DMA − CD4</text>
<line x1="82.50" y1="381.30" x2="84.70" y2="381.30" stroke="#444" stroke-width="0.45"/>
<text x="80.70" y="381.30" font-size="5.95" text-anchor="end" fill="#1a1a1a" dy="0.35em">GRN − SORT1</text>
<line x1="82.50" y1="388.30" x2="84.70" y2="388.30" stroke="#444" stroke-width="0.45"/>
<text x="80.70" y="388.30" font-size="5.95" text-anchor="end" fill="#1a1a1a" dy="0.35em">FN1 − CD44</text>
<line x1="82.50" y1="395.30" x2="84.70" y2="395.30" stroke="#444" stroke-width="0.45"/>
<text x="80.70" y="395.30" font-size="5.95" text-anchor="end" fill="#1a1a1a" dy="0.35em">FN1 − (ITGAV+ITGB1)</text>
<line x1="82.50" y1="402.30" x2="84.70" y2="402.30" stroke="#444" stroke-width="0.45"/>
<text x="80.70" y="402.30" font-size="5.95" text-anchor="end" fill="#1a1a1a" dy="0.35em">FN1 − (ITGA4+ITGB1)</text>
<line x1="82.50" y1="409.30" x2="84.70" y2="409.30" stroke="#444" stroke-width="0.45"/>
<text x="80.70" y="409.30" font-size="5.95" text-anchor="end" fill="#1a1a1a" dy="0.35em">F2 − PARD3</text>
<line x1="82.50" y1="416.30" x2="84.70" y2="416.30" stroke="#444" stroke-width="0.45"/>
<text x="80.70" y="416.30" font-size="5.95" text-anchor="end" fill="#1a1a1a" dy="0.35em">CD46 − JAG1</text>
<line x1="82.50" y1="423.30" x2="84.70" y2="423.30" stroke="#444" stroke-width="0.45"/>
<text x="80.70" y="423.30" font-size="5.95" text-anchor="end" fill="#1a1a1a" dy="0.35em">C3 − (ITGAX+ITGB2)</text>
<line x1="82.50" y1="430.30" x2="84.70" y2="430.30" stroke="#444" stroke-width="0.45"/>
<text x="80.70" y="430.30" font-size="5.95" text-anchor="end" fill="#1a1a1a" dy="0.35em">C3 − (ITGAM+ITGB2)</text>
<line x1="82.50" y1="437.30" x2="84.70" y2="437.30" stroke="#444" stroke-width="0.45"/>
<text x="80.70" y="437.30" font-size="5.95" text-anchor="end" fill="#1a1a1a" dy="0.35em">APP − CD74</text>
<line x1="82.50" y1="444.30" x2="84.70" y2="444.30" stroke="#444" stroke-width="0.45"/>
<text x="80.70" y="444.30" font-size="5.95" text-anchor="end" fill="#1a1a1a" dy="0.35em">AGT − AGTR1B</text>
<line x1="82.50" y1="451.30" x2="84.70" y2="451.30" stroke="#444" stroke-width="0.45"/>
<text x="80.70" y="451.30" font-size="5.95" text-anchor="end" fill="#1a1a1a" dy="0.35em">ADGRE5 − CD55</text>
<circle cx="102.02" cy="227.30" r="2.45" fill="#A8DC94"/>
<circle cx="271.94" cy="227.30" r="2.45" fill="#78CA9C"/>
<circle cx="282.56" cy="227.30" r="2.45" fill="#DDEE88"/>
<circle cx="293.18" cy="227.30" r="2.45" fill="#98D49A"/>
<circle cx="102.02" cy="234.30" r="2.45" fill="#E8DC78"/>
<circle cx="186.98" cy="234.30" r="2.45" fill="#8ED09A"/>
<circle cx="218.84" cy="234.30" r="2.45" fill="#66C29E"/>
<circle cx="229.46" cy="234.30" r="2.45" fill="#E0EE88"/>
<circle cx="271.94" cy="234.30" r="2.45" fill="#98D49A"/>
<circle cx="282.56" cy="234.30" r="2.45" fill="#6AC49A"/>
<circle cx="293.18" cy="234.30" r="2.45" fill="#98D49A"/>
<circle cx="293.18" cy="241.30" r="2.45" fill="#98D49A"/>
<circle cx="240.08" cy="248.30" r="2.45" fill="#E5E27A"/>
<circle cx="282.56" cy="248.30" r="2.45" fill="#A01442"/>
<circle cx="293.18" cy="248.30" r="2.45" fill="#A8DC94"/>
<circle cx="282.56" cy="255.30" r="2.45" fill="#6AC49A"/>
<circle cx="176.36" cy="262.30" r="2.45" fill="#5CBA9C"/>
<circle cx="186.98" cy="269.30" r="2.45" fill="#EE8A4A"/>
<circle cx="240.08" cy="269.30" r="2.45" fill="#A01442"/>
<circle cx="250.70" cy="269.30" r="2.45" fill="#A01442"/>
<circle cx="282.56" cy="269.30" r="2.45" fill="#A01442"/>
<circle cx="293.18" cy="269.30" r="2.45" fill="#A01442"/>
<circle cx="102.02" cy="276.30" r="2.45" fill="#EA6A3A"/>
<circle cx="123.26" cy="276.30" r="2.45" fill="#E8B05A"/>
<circle cx="144.50" cy="276.30" r="2.45" fill="#EA6A3A"/>
<circle cx="229.46" cy="276.30" r="2.45" fill="#DC4A3A"/>
<circle cx="271.94" cy="276.30" r="2.45" fill="#EE9D50"/>
<circle cx="155.12" cy="283.30" r="1.35" fill="#5CBA9C"/>
<circle cx="165.74" cy="283.30" r="2.45" fill="#4A50A0"/>
<circle cx="176.36" cy="283.30" r="1.35" fill="#DDEE88"/>
<circle cx="186.98" cy="283.30" r="2.45" fill="#4358A4"/>
<circle cx="197.60" cy="283.30" r="2.45" fill="#A8DC94"/>
<circle cx="208.22" cy="283.30" r="2.45" fill="#3A66AE"/>
<circle cx="240.08" cy="283.30" r="2.45" fill="#78CA9C"/>
<circle cx="282.56" cy="283.30" r="2.45" fill="#DDEE88"/>
<circle cx="293.18" cy="283.30" r="2.45" fill="#3A80B8"/>
<circle cx="303.80" cy="283.30" r="2.45" fill="#EDA85A"/>
<circle cx="314.42" cy="283.30" r="2.45" fill="#45A0A8"/>
<circle cx="91.40" cy="290.30" r="2.45" fill="#D63E3E"/>
<circle cx="102.02" cy="290.30" r="2.45" fill="#EE9D50"/>
<circle cx="112.64" cy="290.30" r="2.45" fill="#DC4A3A"/>
<circle cx="123.26" cy="290.30" r="2.45" fill="#E5E57E"/>
<circle cx="133.88" cy="290.30" r="2.45" fill="#EE9D50"/>
<circle cx="144.50" cy="290.30" r="2.45" fill="#88D09A"/>
<circle cx="218.84" cy="290.30" r="2.45" fill="#EE9050"/>
<circle cx="229.46" cy="290.30" r="2.45" fill="#EDB865"/>
<circle cx="102.02" cy="297.30" r="2.45" fill="#D2EA8C"/>
<circle cx="123.26" cy="297.30" r="2.45" fill="#5CBF8E"/>
<circle cx="144.50" cy="297.30" r="2.45" fill="#50B294"/>
<circle cx="271.94" cy="297.30" r="2.45" fill="#D6EC8C"/>
<circle cx="176.36" cy="304.30" r="2.45" fill="#4A50A0"/>
<circle cx="282.56" cy="304.30" r="2.45" fill="#3A88B8"/>
<circle cx="155.12" cy="311.30" r="2.45" fill="#98D49A"/>
<circle cx="176.36" cy="311.30" r="2.45" fill="#A8DC94"/>
<circle cx="282.56" cy="311.30" r="2.45" fill="#3A88B8"/>
<circle cx="155.12" cy="318.30" r="2.45" fill="#52B49C"/>
<circle cx="176.36" cy="318.30" r="2.45" fill="#EDB865"/>
<circle cx="197.60" cy="318.30" r="2.45" fill="#E8DC78"/>
<circle cx="240.08" cy="318.30" r="2.45" fill="#6AC49A"/>
<circle cx="282.56" cy="318.30" r="2.45" fill="#DDEE88"/>
<circle cx="303.80" cy="318.30" r="2.45" fill="#7ACB98"/>
<circle cx="155.12" cy="325.30" r="2.45" fill="#E8D878"/>
<circle cx="176.36" cy="325.30" r="2.45" fill="#A01442"/>
<circle cx="186.98" cy="325.30" r="2.45" fill="#3A66AE"/>
<circle cx="197.60" cy="325.30" r="2.45" fill="#A01442"/>
<circle cx="208.22" cy="325.30" r="2.45" fill="#5CBA9C"/>
<circle cx="240.08" cy="325.30" r="2.45" fill="#EE9650"/>
<circle cx="282.56" cy="325.30" r="2.45" fill="#A01442"/>
<circle cx="293.18" cy="325.30" r="2.45" fill="#45A8A0"/>
<circle cx="303.80" cy="325.30" r="2.45" fill="#EE9D50"/>
<circle cx="155.12" cy="332.30" r="2.45" fill="#DEE882"/>
<circle cx="176.36" cy="332.30" r="2.45" fill="#A01442"/>
<circle cx="186.98" cy="332.30" r="2.45" fill="#66C29E"/>
<circle cx="197.60" cy="332.30" r="2.45" fill="#A01442"/>
<circle cx="208.22" cy="332.30" r="2.45" fill="#DEEE88"/>
<circle cx="240.08" cy="332.30" r="2.45" fill="#EABF62"/>
<circle cx="282.56" cy="332.30" r="2.45" fill="#A01442"/>
<circle cx="293.18" cy="332.30" r="2.45" fill="#A8DC94"/>
<circle cx="303.80" cy="332.30" r="2.45" fill="#EDB865"/>
<circle cx="155.12" cy="339.30" r="2.45" fill="#66C29E"/>
<circle cx="176.36" cy="339.30" r="2.45" fill="#EE9D50"/>
<circle cx="186.98" cy="339.30" r="2.45" fill="#5048A0"/>
<circle cx="197.60" cy="339.30" r="2.45" fill="#EAC868"/>
<circle cx="208.22" cy="339.30" r="2.45" fill="#3A8AB8"/>
<circle cx="240.08" cy="339.30" r="2.45" fill="#7ACB98"/>
<circle cx="282.56" cy="339.30" r="2.45" fill="#E8DC78"/>
<circle cx="293.18" cy="339.30" r="2.45" fill="#3A80B8"/>
<circle cx="303.80" cy="339.30" r="2.45" fill="#8ED09A"/>
<circle cx="155.12" cy="346.30" r="2.45" fill="#E2E67E"/>
<circle cx="176.36" cy="346.30" r="2.45" fill="#A01442"/>
<circle cx="186.98" cy="346.30" r="2.45" fill="#4A50A0"/>
<circle cx="197.60" cy="346.30" r="2.45" fill="#A01442"/>
<circle cx="208.22" cy="346.30" r="2.45" fill="#45A0A8"/>
<circle cx="240.08" cy="346.30" r="2.45" fill="#EAB860"/>
<circle cx="282.56" cy="346.30" r="2.45" fill="#A01442"/>
<circle cx="293.18" cy="346.30" r="2.45" fill="#3A88B8"/>
<circle cx="303.80" cy="346.30" r="2.45" fill="#EDB865"/>
<circle cx="155.12" cy="353.30" r="2.45" fill="#E8DC78"/>
<circle cx="176.36" cy="353.30" r="2.45" fill="#A01442"/>
<circle cx="186.98" cy="353.30" r="2.45" fill="#3E62AC"/>
<circle cx="197.60" cy="353.30" r="2.45" fill="#A01442"/>
<circle cx="208.22" cy="353.30" r="2.45" fill="#5CBA9C"/>
<circle cx="240.08" cy="353.30" r="2.45" fill="#EE9650"/>
<circle cx="282.56" cy="353.30" r="2.45" fill="#A01442"/>
<circle cx="293.18" cy="353.30" r="2.45" fill="#45A0A8"/>
<circle cx="303.80" cy="353.30" r="2.45" fill="#EE9D50"/>
<circle cx="155.12" cy="360.30" r="2.45" fill="#6AC49A"/>
<circle cx="176.36" cy="360.30" r="2.45" fill="#EE8A4A"/>
<circle cx="186.98" cy="360.30" r="2.45" fill="#3E62AC"/>
<circle cx="197.60" cy="360.30" r="2.45" fill="#EDB865"/>
<circle cx="208.22" cy="360.30" r="2.45" fill="#5CBA9C"/>
<circle cx="240.08" cy="360.30" r="2.45" fill="#8ED09A"/>
<circle cx="282.56" cy="360.30" r="2.45" fill="#EAD070"/>
<circle cx="293.18" cy="360.30" r="2.45" fill="#45A0A8"/>
<circle cx="303.80" cy="360.30" r="2.45" fill="#8ED09A"/>
<circle cx="155.12" cy="367.30" r="2.45" fill="#52B49C"/>
<circle cx="176.36" cy="367.30" r="2.45" fill="#EAC868"/>
<circle cx="186.98" cy="367.30" r="2.45" fill="#5048A0"/>
<circle cx="197.60" cy="367.30" r="2.45" fill="#E8DC78"/>
<circle cx="208.22" cy="367.30" r="2.45" fill="#3A8AB8"/>
<circle cx="240.08" cy="367.30" r="2.45" fill="#6AC49A"/>
<circle cx="282.56" cy="367.30" r="2.45" fill="#DDEE88"/>
<circle cx="293.18" cy="367.30" r="2.45" fill="#3A88B8"/>
<circle cx="303.80" cy="367.30" r="2.45" fill="#78CA9C"/>
<circle cx="155.12" cy="374.30" r="2.45" fill="#4AAEA0"/>
<circle cx="176.36" cy="374.30" r="2.45" fill="#EAD070"/>
<circle cx="197.60" cy="374.30" r="2.45" fill="#E2E67E"/>
<circle cx="240.08" cy="374.30" r="2.45" fill="#66C29E"/>
<circle cx="282.56" cy="374.30" r="2.45" fill="#DDEE88"/>
<circle cx="303.80" cy="374.30" r="2.45" fill="#6AC49A"/>
<circle cx="271.94" cy="381.30" r="2.45" fill="#4A5AA8"/>
<circle cx="293.18" cy="388.30" r="2.45" fill="#DDEE88"/>
<circle cx="314.42" cy="388.30" r="2.45" fill="#66C29E"/>
<circle cx="102.02" cy="395.30" r="2.45" fill="#8ED09A"/>
<circle cx="229.46" cy="395.30" r="2.45" fill="#6AC49A"/>
<circle cx="165.74" cy="402.30" r="2.45" fill="#98D49A"/>
<circle cx="186.98" cy="402.30" r="1.35" fill="#45A0A0"/>
<circle cx="314.42" cy="402.30" r="2.45" fill="#5CBA9C"/>
<circle cx="102.02" cy="409.30" r="2.45" fill="#D6EC8C"/>
<circle cx="123.26" cy="409.30" r="2.45" fill="#A8DC94"/>
<circle cx="144.50" cy="409.30" r="2.45" fill="#DEEE8E"/>
<circle cx="229.46" cy="409.30" r="2.45" fill="#E0E680"/>
<circle cx="271.94" cy="409.30" r="2.45" fill="#A8DC94"/>
<circle cx="91.40" cy="416.30" r="2.45" fill="#6AC49A"/>
<circle cx="102.02" cy="416.30" r="2.45" fill="#3E72B0"/>
<circle cx="112.64" cy="416.30" r="2.45" fill="#86CE98"/>
<circle cx="261.32" cy="416.30" r="2.45" fill="#8ED09A"/>
<circle cx="271.94" cy="416.30" r="2.45" fill="#3A8AB0"/>
<circle cx="155.12" cy="423.30" r="2.45" fill="#98D49A"/>
<circle cx="176.36" cy="423.30" r="2.45" fill="#45A8A0"/>
<circle cx="303.80" cy="423.30" r="2.45" fill="#A8DC94"/>
<circle cx="176.36" cy="430.30" r="2.45" fill="#3E96AA"/>
<circle cx="165.74" cy="437.30" r="2.45" fill="#EDB865"/>
<circle cx="186.98" cy="437.30" r="2.45" fill="#C6E68A"/>
<circle cx="208.22" cy="437.30" r="2.45" fill="#E2E67E"/>
<circle cx="293.18" cy="437.30" r="2.45" fill="#A8DC94"/>
<circle cx="102.02" cy="444.30" r="2.45" fill="#3A80B8"/>
<circle cx="144.50" cy="444.30" r="2.45" fill="#45A0A8"/>
<circle cx="229.46" cy="444.30" r="2.45" fill="#E0E680"/>
<circle cx="176.36" cy="451.30" r="1.35" fill="#3A80B8"/>
<circle cx="282.56" cy="451.30" r="2.45" fill="#3E96A8"/>
<line x1="91.40" y1="455.40" x2="91.40" y2="456.70" stroke="#444" stroke-width="0.4"/>
<text x="89.50" y="459.40" font-size="6.05" text-anchor="end" fill="#E8706B" dy="0.7em" transform="rotate(-45 89.50 459.40)">DTNA+ Mac -&gt; aHSC (MASLD)</text>
<line x1="102.02" y1="455.40" x2="102.02" y2="456.70" stroke="#444" stroke-width="0.4"/>
<text x="100.12" y="459.40" font-size="6.05" text-anchor="end" fill="#35BCBE" dy="0.7em" transform="rotate(-45 100.12 459.40)">DTNA+ Mac -&gt; aHSC (MASH)</text>
<line x1="112.64" y1="455.40" x2="112.64" y2="456.70" stroke="#444" stroke-width="0.4"/>
<text x="110.74" y="459.40" font-size="6.05" text-anchor="end" fill="#E8706B" dy="0.7em" transform="rotate(-45 110.74 459.40)">DTNA+ Mac -&gt; hep−like HSC (MASLD)</text>
<line x1="123.26" y1="455.40" x2="123.26" y2="456.70" stroke="#444" stroke-width="0.4"/>
<text x="121.36" y="459.40" font-size="6.05" text-anchor="end" fill="#35BCBE" dy="0.7em" transform="rotate(-45 121.36 459.40)">DTNA+ Mac -&gt; hep−like HSC (MASH)</text>
<line x1="133.88" y1="455.40" x2="133.88" y2="456.70" stroke="#444" stroke-width="0.4"/>
<text x="131.98" y="459.40" font-size="6.05" text-anchor="end" fill="#E8706B" dy="0.7em" transform="rotate(-45 131.98 459.40)">DTNA+ Mac -&gt; inHSC (MASLD)</text>
<line x1="144.50" y1="455.40" x2="144.50" y2="456.70" stroke="#444" stroke-width="0.4"/>
<text x="142.60" y="459.40" font-size="6.05" text-anchor="end" fill="#35BCBE" dy="0.7em" transform="rotate(-45 142.60 459.40)">DTNA+ Mac -&gt; inHSC (MASH)</text>
<line x1="155.12" y1="455.40" x2="155.12" y2="456.70" stroke="#444" stroke-width="0.4"/>
<text x="153.22" y="459.40" font-size="6.05" text-anchor="end" fill="#E8706B" dy="0.7em" transform="rotate(-45 153.22 459.40)">DTNA+ Mac -&gt; mDC (MASLD)</text>
<line x1="165.74" y1="455.40" x2="165.74" y2="456.70" stroke="#444" stroke-width="0.4"/>
<text x="163.84" y="459.40" font-size="6.05" text-anchor="end" fill="#35BCBE" dy="0.7em" transform="rotate(-45 163.84 459.40)">DTNA+ Mac -&gt; mDC (MASH)</text>
<line x1="176.36" y1="455.40" x2="176.36" y2="456.70" stroke="#444" stroke-width="0.4"/>
<text x="174.46" y="459.40" font-size="6.05" text-anchor="end" fill="#E8706B" dy="0.7em" transform="rotate(-45 174.46 459.40)">DTNA+ Mac -&gt; MKI67+ Mac (MASLD)</text>
<line x1="186.98" y1="455.40" x2="186.98" y2="456.70" stroke="#444" stroke-width="0.4"/>
<text x="185.08" y="459.40" font-size="6.05" text-anchor="end" fill="#35BCBE" dy="0.7em" transform="rotate(-45 185.08 459.40)">DTNA+ Mac -&gt; MKI67+ Mac (MASH)</text>
<line x1="197.60" y1="455.40" x2="197.60" y2="456.70" stroke="#444" stroke-width="0.4"/>
<text x="195.70" y="459.40" font-size="6.05" text-anchor="end" fill="#E8706B" dy="0.7em" transform="rotate(-45 195.70 459.40)">DTNA+ Mac -&gt; pDC (MASLD)</text>
<line x1="208.22" y1="455.40" x2="208.22" y2="456.70" stroke="#444" stroke-width="0.4"/>
<text x="206.32" y="459.40" font-size="6.05" text-anchor="end" fill="#35BCBE" dy="0.7em" transform="rotate(-45 206.32 459.40)">DTNA+ Mac -&gt; pDC (MASH)</text>
<line x1="218.84" y1="455.40" x2="218.84" y2="456.70" stroke="#444" stroke-width="0.4"/>
<text x="216.94" y="459.40" font-size="6.05" text-anchor="end" fill="#E8706B" dy="0.7em" transform="rotate(-45 216.94 459.40)">DTNA+ Mac -&gt; qHSC (MASLD)</text>
<line x1="229.46" y1="455.40" x2="229.46" y2="456.70" stroke="#444" stroke-width="0.4"/>
<text x="227.56" y="459.40" font-size="6.05" text-anchor="end" fill="#35BCBE" dy="0.7em" transform="rotate(-45 227.56 459.40)">DTNA+ Mac -&gt; qHSC (MASH)</text>
<line x1="240.08" y1="455.40" x2="240.08" y2="456.70" stroke="#444" stroke-width="0.4"/>
<text x="238.18" y="459.40" font-size="6.05" text-anchor="end" fill="#E8706B" dy="0.7em" transform="rotate(-45 238.18 459.40)">DTNA+ Mac -&gt; SAA1+ KC (MASLD)</text>
<line x1="250.70" y1="455.40" x2="250.70" y2="456.70" stroke="#444" stroke-width="0.4"/>
<text x="248.80" y="459.40" font-size="6.05" text-anchor="end" fill="#35BCBE" dy="0.7em" transform="rotate(-45 248.80 459.40)">DTNA+ Mac -&gt; SAA1+ KC (MASH)</text>
<line x1="261.32" y1="455.40" x2="261.32" y2="456.70" stroke="#444" stroke-width="0.4"/>
<text x="259.42" y="459.40" font-size="6.05" text-anchor="end" fill="#E8706B" dy="0.7em" transform="rotate(-45 259.42 459.40)">DTNA+ Mac -&gt; SMC (MASLD)</text>
<line x1="271.94" y1="455.40" x2="271.94" y2="456.70" stroke="#444" stroke-width="0.4"/>
<text x="270.04" y="459.40" font-size="6.05" text-anchor="end" fill="#35BCBE" dy="0.7em" transform="rotate(-45 270.04 459.40)">DTNA+ Mac -&gt; SMC (MASH)</text>
<line x1="282.56" y1="455.40" x2="282.56" y2="456.70" stroke="#444" stroke-width="0.4"/>
<text x="280.66" y="459.40" font-size="6.05" text-anchor="end" fill="#E8706B" dy="0.7em" transform="rotate(-45 280.66 459.40)">DTNA+ Mac -&gt; VCAM1+ KC (MASLD)</text>
<line x1="293.18" y1="455.40" x2="293.18" y2="456.70" stroke="#444" stroke-width="0.4"/>
<text x="291.28" y="459.40" font-size="6.05" text-anchor="end" fill="#35BCBE" dy="0.7em" transform="rotate(-45 291.28 459.40)">DTNA+ Mac -&gt; VCAM1+ KC (MASH)</text>
<line x1="303.80" y1="455.40" x2="303.80" y2="456.70" stroke="#444" stroke-width="0.4"/>
<text x="301.90" y="459.40" font-size="6.05" text-anchor="end" fill="#E8706B" dy="0.7em" transform="rotate(-45 301.90 459.40)">DTNA+ Mac -&gt; VCAN+ Mono (MASLD)</text>
<line x1="314.42" y1="455.40" x2="314.42" y2="456.70" stroke="#444" stroke-width="0.4"/>
<text x="312.52" y="459.40" font-size="6.05" text-anchor="end" fill="#35BCBE" dy="0.7em" transform="rotate(-45 312.52 459.40)">DTNA+ Mac -&gt; VCAN+ Mono (MASH)</text>
<text x="141.50" y="213.60" font-size="9.8" text-anchor="start" fill="#111" dy="0.35em">Signaling from DTNA+ Mac</text>
<defs><linearGradient id="gradC" x1="0" y1="1" x2="0" y2="0"><stop offset="0" stop-color="#5E4FA2"/><stop offset="0.1" stop-color="#3288BD"/><stop offset="0.2" stop-color="#66C2A5"/><stop offset="0.3" stop-color="#ABDDA4"/><stop offset="0.4" stop-color="#E6F598"/><stop offset="0.5" stop-color="#FFFFBF"/><stop offset="0.6" stop-color="#FEE08B"/><stop offset="0.7" stop-color="#FDAE61"/><stop offset="0.8" stop-color="#F46D43"/><stop offset="0.9" stop-color="#D53E4F"/><stop offset="1" stop-color="#9E0142"/></linearGradient></defs>
<text x="331.90" y="285.30" font-size="5.3" text-anchor="start" fill="#222" dy="0.35em">Commun. Prob.</text>
<rect x="331.60" y="291.80" width="5.20" height="57.20" fill="url(#gradC)"/>
<text x="340.00" y="291.80" font-size="4.0" text-anchor="start" fill="#333" dy="0.35em">max</text>
<text x="340.00" y="349.00" font-size="4.1" text-anchor="start" fill="#333" dy="0.35em">min</text>
<text x="331.90" y="366.40" font-size="5.1" text-anchor="start" fill="#222" dy="0.35em">p−value</text>
<circle cx="337.20" cy="378.30" r="1.60" fill="#000"/>
<text x="346.50" y="378.30" font-size="4.1" text-anchor="start" fill="#333" dy="0.35em">0.01 &lt; p &lt; 0.05</text>
<circle cx="337.20" cy="389.70" r="2.50" fill="#000"/>
<text x="346.50" y="389.70" font-size="4.0" text-anchor="start" fill="#333" dy="0.35em">p &lt; 0.01</text>
<line x1="435.95" y1="250.40" x2="451.55" y2="250.40" stroke="#A8A8A8" stroke-width="0.9"/>
<line x1="452.55" y1="250.40" x2="468.15" y2="250.40" stroke="#A8A8A8" stroke-width="0.9"/>
<line x1="469.15" y1="250.40" x2="484.75" y2="250.40" stroke="#A8A8A8" stroke-width="0.9"/>
<line x1="485.75" y1="250.40" x2="501.35" y2="250.40" stroke="#A8A8A8" stroke-width="0.9"/>
<line x1="502.35" y1="250.40" x2="517.95" y2="250.40" stroke="#A8A8A8" stroke-width="0.9"/>
<line x1="518.95" y1="250.40" x2="534.55" y2="250.40" stroke="#A8A8A8" stroke-width="0.9"/>
<line x1="535.55" y1="250.40" x2="551.15" y2="250.40" stroke="#A8A8A8" stroke-width="0.9"/>
<line x1="552.15" y1="250.40" x2="567.75" y2="250.40" stroke="#A8A8A8" stroke-width="0.9"/>
<line x1="568.75" y1="250.40" x2="584.35" y2="250.40" stroke="#A8A8A8" stroke-width="0.9"/>
<line x1="585.35" y1="250.40" x2="600.95" y2="250.40" stroke="#A8A8A8" stroke-width="0.9"/>
<line x1="601.95" y1="250.40" x2="617.55" y2="250.40" stroke="#A8A8A8" stroke-width="0.9"/>
<line x1="618.55" y1="250.40" x2="634.15" y2="250.40" stroke="#A8A8A8" stroke-width="0.9"/>
<path d="M440.00 230.00 L440.05 230.23 L440.10 230.45 L440.15 230.68 L440.19 230.91 L440.24 231.13 L440.29 231.36 L440.32 231.59 L440.32 231.81 L440.32 232.04 L440.32 232.27 L440.32 232.49 L440.32 232.72 L440.32 232.95 L440.32 233.17 L440.32 233.40 L440.32 233.63 L440.32 233.85 L440.32 234.08 L440.32 234.31 L440.32 234.53 L440.32 234.76 L440.32 234.99 L440.32 235.21 L440.32 235.44 L440.32 235.67 L440.32 235.89 L440.35 236.12 L440.41 236.35 L440.46 236.57 L440.51 236.80 L440.56 237.03 L440.60 237.25 L440.64 237.48 L440.67 237.71 L440.70 237.93 L440.73 238.16 L440.75 238.39 L440.77 238.61 L440.78 238.84 L440.79 239.07 L440.80 239.29 L440.80 239.52 L440.80 239.75 L440.79 239.97 L440.78 240.20 L440.77 240.43 L440.76 240.65 L440.74 240.88 L440.72 241.11 L440.69 241.33 L440.66 241.56 L440.63 241.79 L440.60 242.01 L440.56 242.24 L440.52 242.47 L440.47 242.69 L440.43 242.92 L440.37 243.15 L440.32 243.37 L440.32 243.60 L440.32 243.83 L440.32 244.05 L440.32 244.28 L440.32 244.51 L440.32 244.73 L440.32 244.96 L440.32 245.19 L440.32 245.41 L440.32 245.64 L440.32 245.87 L440.32 246.09 L440.32 246.32 L440.32 246.55 L440.32 246.77 L440.50 247.00 L440.68 247.23 L440.87 247.45 L441.06 247.68 L441.24 247.91 L441.43 248.13 L441.62 248.36 L441.80 248.59 L441.99 248.81 L442.18 249.04 L442.37 249.27 L442.55 249.49 L442.74 249.72 L442.93 249.95 L443.11 250.17 L443.30 250.40 L436.70 250.40 L436.89 250.17 L437.07 249.95 L437.26 249.72 L437.45 249.49 L437.63 249.27 L437.82 249.04 L438.01 248.81 L438.20 248.59 L438.38 248.36 L438.57 248.13 L438.76 247.91 L438.94 247.68 L439.13 247.45 L439.32 247.23 L439.50 247.00 L439.68 246.77 L439.68 246.55 L439.68 246.32 L439.68 246.09 L439.68 245.87 L439.68 245.64 L439.68 245.41 L439.68 245.19 L439.68 244.96 L439.68 244.73 L439.68 244.51 L439.68 244.28 L439.68 244.05 L439.68 243.83 L439.68 243.60 L439.68 243.37 L439.63 243.15 L439.57 242.92 L439.53 242.69 L439.48 242.47 L439.44 242.24 L439.40 242.01 L439.37 241.79 L439.34 241.56 L439.31 241.33 L439.28 241.11 L439.26 240.88 L439.24 240.65 L439.23 240.43 L439.22 240.20 L439.21 239.97 L439.20 239.75 L439.20 239.52 L439.20 239.29 L439.21 239.07 L439.22 238.84 L439.23 238.61 L439.25 238.39 L439.27 238.16 L439.30 237.93 L439.33 237.71 L439.36 237.48 L439.40 237.25 L439.44 237.03 L439.49 236.80 L439.54 236.57 L439.59 236.35 L439.65 236.12 L439.68 235.89 L439.68 235.67 L439.68 235.44 L439.68 235.21 L439.68 234.99 L439.68 234.76 L439.68 234.53 L439.68 234.31 L439.68 234.08 L439.68 233.85 L439.68 233.63 L439.68 233.40 L439.68 233.17 L439.68 232.95 L439.68 232.72 L439.68 232.49 L439.68 232.27 L439.68 232.04 L439.68 231.81 L439.68 231.59 L439.71 231.36 L439.76 231.13 L439.81 230.91 L439.85 230.68 L439.90 230.45 L439.95 230.23 L440.00 230.00Z" fill="#E8716B" stroke="#222" stroke-width="0.65" stroke-linejoin="round"/>
<path d="M447.50 221.00 L447.57 221.33 L447.64 221.65 L447.71 221.98 L447.78 222.31 L447.82 222.63 L447.82 222.96 L447.82 223.29 L447.82 223.61 L447.82 223.94 L447.82 224.27 L447.82 224.59 L447.82 224.92 L447.82 225.25 L447.82 225.57 L447.82 225.90 L447.82 226.23 L447.82 226.55 L447.82 226.88 L447.82 227.21 L447.82 227.53 L447.82 227.86 L447.82 228.19 L447.88 228.51 L447.95 228.84 L448.02 229.17 L448.08 229.49 L448.14 229.82 L448.20 230.15 L448.25 230.47 L448.30 230.80 L448.34 231.13 L448.38 231.45 L448.42 231.78 L448.46 232.11 L448.49 232.43 L448.51 232.76 L448.54 233.09 L448.56 233.41 L448.57 233.74 L448.59 234.07 L448.59 234.39 L448.60 234.72 L448.60 235.05 L448.60 235.37 L448.59 235.70 L448.59 236.03 L448.58 236.35 L448.56 236.68 L448.55 237.01 L448.53 237.33 L448.50 237.66 L448.48 237.99 L448.45 238.31 L448.42 238.64 L448.39 238.97 L448.35 239.29 L448.31 239.62 L448.27 239.95 L448.22 240.27 L448.17 240.60 L448.12 240.93 L448.07 241.25 L448.01 241.58 L447.95 241.91 L447.89 242.23 L447.82 242.56 L447.82 242.89 L447.82 243.21 L447.82 243.54 L447.82 243.87 L447.82 244.19 L447.82 244.52 L447.82 244.85 L447.82 245.17 L447.82 245.50 L447.82 245.83 L447.82 246.15 L447.82 246.48 L447.84 246.81 L448.10 247.13 L448.37 247.46 L448.64 247.79 L448.91 248.11 L449.18 248.44 L449.45 248.77 L449.72 249.09 L449.99 249.42 L450.26 249.75 L450.53 250.07 L450.80 250.40 L444.20 250.40 L444.47 250.07 L444.74 249.75 L445.01 249.42 L445.28 249.09 L445.55 248.77 L445.82 248.44 L446.09 248.11 L446.36 247.79 L446.63 247.46 L446.90 247.13 L447.16 246.81 L447.18 246.48 L447.18 246.15 L447.18 245.83 L447.18 245.50 L447.18 245.17 L447.18 244.85 L447.18 244.52 L447.18 244.19 L447.18 243.87 L447.18 243.54 L447.18 243.21 L447.18 242.89 L447.18 242.56 L447.11 242.23 L447.05 241.91 L446.99 241.58 L446.93 241.25 L446.88 240.93 L446.83 240.60 L446.78 240.27 L446.73 239.95 L446.69 239.62 L446.65 239.29 L446.61 238.97 L446.58 238.64 L446.55 238.31 L446.52 237.99 L446.50 237.66 L446.47 237.33 L446.45 237.01 L446.44 236.68 L446.42 236.35 L446.41 236.03 L446.41 235.70 L446.40 235.37 L446.40 235.05 L446.40 234.72 L446.41 234.39 L446.41 234.07 L446.43 233.74 L446.44 233.41 L446.46 233.09 L446.49 232.76 L446.51 232.43 L446.54 232.11 L446.58 231.78 L446.62 231.45 L446.66 231.13 L446.70 230.80 L446.75 230.47 L446.80 230.15 L446.86 229.82 L446.92 229.49 L446.98 229.17 L447.05 228.84 L447.12 228.51 L447.18 228.19 L447.18 227.86 L447.18 227.53 L447.18 227.21 L447.18 226.88 L447.18 226.55 L447.18 226.23 L447.18 225.90 L447.18 225.57 L447.18 225.25 L447.18 224.92 L447.18 224.59 L447.18 224.27 L447.18 223.94 L447.18 223.61 L447.18 223.29 L447.18 222.96 L447.18 222.63 L447.22 222.31 L447.29 221.98 L447.36 221.65 L447.43 221.33 L447.50 221.00Z" fill="#3D9A95" stroke="#222" stroke-width="0.65" stroke-linejoin="round"/>
<line x1="456.60" y1="250.40" x2="456.60" y2="227.20" stroke="#3a3a3a" stroke-width="0.75"/>
<path d="M464.10 215.80 L464.18 216.18 L464.26 216.57 L464.35 216.95 L464.42 217.34 L464.42 217.72 L464.42 218.11 L464.42 218.49 L464.42 218.88 L464.42 219.26 L464.42 219.64 L464.42 220.03 L464.42 220.41 L464.42 220.80 L464.42 221.18 L464.48 221.57 L464.56 221.95 L464.64 222.34 L464.71 222.72 L464.78 223.10 L464.85 223.49 L464.91 223.87 L464.97 224.26 L465.03 224.64 L465.08 225.03 L465.13 225.41 L465.17 225.80 L465.21 226.18 L465.25 226.56 L465.28 226.95 L465.31 227.33 L465.33 227.72 L465.35 228.10 L465.37 228.49 L465.38 228.87 L465.39 229.26 L465.40 229.64 L465.40 230.02 L465.40 230.41 L465.39 230.79 L465.38 231.18 L465.37 231.56 L465.35 231.95 L465.33 232.33 L465.30 232.72 L465.28 233.10 L465.24 233.48 L465.21 233.87 L465.16 234.25 L465.12 234.64 L465.07 235.02 L465.02 235.41 L464.96 235.79 L464.90 236.18 L464.84 236.56 L464.77 236.94 L464.70 237.33 L464.63 237.71 L464.55 238.10 L464.46 238.48 L464.42 238.87 L464.42 239.25 L464.42 239.64 L464.42 240.02 L464.42 240.40 L464.42 240.79 L464.42 241.17 L464.42 241.56 L464.42 241.94 L464.42 242.33 L464.42 242.71 L464.42 243.10 L464.42 243.48 L464.42 243.86 L464.42 244.25 L464.42 244.63 L464.42 245.02 L464.42 245.40 L464.42 245.79 L464.69 246.17 L464.98 246.56 L465.27 246.94 L465.56 247.32 L465.85 247.71 L466.15 248.09 L466.44 248.48 L466.73 248.86 L467.02 249.25 L467.32 249.63 L467.61 250.02 L467.90 250.40 L460.30 250.40 L460.59 250.02 L460.88 249.63 L461.18 249.25 L461.47 248.86 L461.76 248.48 L462.05 248.09 L462.35 247.71 L462.64 247.32 L462.93 246.94 L463.22 246.56 L463.51 246.17 L463.78 245.79 L463.78 245.40 L463.78 245.02 L463.78 244.63 L463.78 244.25 L463.78 243.86 L463.78 243.48 L463.78 243.10 L463.78 242.71 L463.78 242.33 L463.78 241.94 L463.78 241.56 L463.78 241.17 L463.78 240.79 L463.78 240.40 L463.78 240.02 L463.78 239.64 L463.78 239.25 L463.78 238.87 L463.74 238.48 L463.65 238.10 L463.57 237.71 L463.50 237.33 L463.43 236.94 L463.36 236.56 L463.30 236.18 L463.24 235.79 L463.18 235.41 L463.13 235.02 L463.08 234.64 L463.04 234.25 L462.99 233.87 L462.96 233.48 L462.92 233.10 L462.90 232.72 L462.87 232.33 L462.85 231.95 L462.83 231.56 L462.82 231.18 L462.81 230.79 L462.80 230.41 L462.80 230.02 L462.80 229.64 L462.81 229.26 L462.82 228.87 L462.83 228.49 L462.85 228.10 L462.87 227.72 L462.89 227.33 L462.92 226.95 L462.95 226.56 L462.99 226.18 L463.03 225.80 L463.07 225.41 L463.12 225.03 L463.17 224.64 L463.23 224.26 L463.29 223.87 L463.35 223.49 L463.42 223.10 L463.49 222.72 L463.56 222.34 L463.64 221.95 L463.72 221.57 L463.78 221.18 L463.78 220.80 L463.78 220.41 L463.78 220.03 L463.78 219.64 L463.78 219.26 L463.78 218.88 L463.78 218.49 L463.78 218.11 L463.78 217.72 L463.78 217.34 L463.85 216.95 L463.94 216.57 L464.02 216.18 L464.10 215.80Z" fill="#3D9A95" stroke="#222" stroke-width="0.65" stroke-linejoin="round"/>
<line x1="473.20" y1="250.40" x2="473.20" y2="228.00" stroke="#9a9a9a" stroke-width="0.75"/>
<path d="M480.70 218.40 L480.78 218.76 L480.85 219.11 L480.93 219.47 L481.00 219.82 L481.02 220.18 L481.02 220.53 L481.02 220.89 L481.02 221.24 L481.02 221.60 L481.02 221.96 L481.02 222.31 L481.02 222.67 L481.02 223.02 L481.02 223.38 L481.02 223.73 L481.02 224.09 L481.02 224.44 L481.02 224.80 L481.02 225.16 L481.02 225.51 L481.07 225.87 L481.13 226.22 L481.19 226.58 L481.24 226.93 L481.29 227.29 L481.33 227.64 L481.38 228.00 L481.41 228.36 L481.45 228.71 L481.48 229.07 L481.51 229.42 L481.53 229.78 L481.55 230.13 L481.57 230.49 L481.58 230.84 L481.59 231.20 L481.60 231.56 L481.60 231.91 L481.60 232.27 L481.60 232.62 L481.59 232.98 L481.58 233.33 L481.57 233.69 L481.56 234.04 L481.55 234.40 L481.53 234.76 L481.51 235.11 L481.49 235.47 L481.47 235.82 L481.44 236.18 L481.42 236.53 L481.38 236.89 L481.35 237.24 L481.32 237.60 L481.28 237.96 L481.24 238.31 L481.20 238.67 L481.16 239.02 L481.11 239.38 L481.06 239.73 L481.02 240.09 L481.02 240.44 L481.02 240.80 L481.02 241.16 L481.02 241.51 L481.02 241.87 L481.02 242.22 L481.02 242.58 L481.02 242.93 L481.02 243.29 L481.02 243.64 L481.02 244.00 L481.02 244.36 L481.02 244.71 L481.02 245.07 L481.02 245.42 L481.02 245.78 L481.02 246.13 L481.16 246.49 L481.43 246.84 L481.71 247.20 L481.99 247.56 L482.26 247.91 L482.54 248.27 L482.82 248.62 L483.09 248.98 L483.37 249.33 L483.65 249.69 L483.92 250.04 L484.20 250.40 L477.20 250.40 L477.48 250.04 L477.75 249.69 L478.03 249.33 L478.31 248.98 L478.58 248.62 L478.86 248.27 L479.14 247.91 L479.41 247.56 L479.69 247.20 L479.97 246.84 L480.24 246.49 L480.38 246.13 L480.38 245.78 L480.38 245.42 L480.38 245.07 L480.38 244.71 L480.38 244.36 L480.38 244.00 L480.38 243.64 L480.38 243.29 L480.38 242.93 L480.38 242.58 L480.38 242.22 L480.38 241.87 L480.38 241.51 L480.38 241.16 L480.38 240.80 L480.38 240.44 L480.38 240.09 L480.34 239.73 L480.29 239.38 L480.24 239.02 L480.20 238.67 L480.16 238.31 L480.12 237.96 L480.08 237.60 L480.05 237.24 L480.02 236.89 L479.98 236.53 L479.96 236.18 L479.93 235.82 L479.91 235.47 L479.89 235.11 L479.87 234.76 L479.85 234.40 L479.84 234.04 L479.83 233.69 L479.82 233.33 L479.81 232.98 L479.80 232.62 L479.80 232.27 L479.80 231.91 L479.80 231.56 L479.81 231.20 L479.82 230.84 L479.83 230.49 L479.85 230.13 L479.87 229.78 L479.89 229.42 L479.92 229.07 L479.95 228.71 L479.99 228.36 L480.02 228.00 L480.07 227.64 L480.11 227.29 L480.16 226.93 L480.21 226.58 L480.27 226.22 L480.33 225.87 L480.38 225.51 L480.38 225.16 L480.38 224.80 L480.38 224.44 L480.38 224.09 L480.38 223.73 L480.38 223.38 L480.38 223.02 L480.38 222.67 L480.38 222.31 L480.38 221.96 L480.38 221.60 L480.38 221.24 L480.38 220.89 L480.38 220.53 L480.38 220.18 L480.40 219.82 L480.47 219.47 L480.55 219.11 L480.62 218.76 L480.70 218.40Z" fill="#3D9A95" stroke="#222" stroke-width="0.65" stroke-linejoin="round"/>
<line x1="489.80" y1="250.40" x2="489.80" y2="225.00" stroke="#3a3a3a" stroke-width="0.75"/>
<path d="M497.30 220.50 L497.37 220.83 L497.44 221.16 L497.51 221.50 L497.58 221.83 L497.62 222.16 L497.62 222.49 L497.62 222.83 L497.62 223.16 L497.62 223.49 L497.62 223.82 L497.62 224.15 L497.62 224.49 L497.62 224.82 L497.62 225.15 L497.62 225.48 L497.62 225.82 L497.62 226.15 L497.62 226.48 L497.64 226.81 L497.66 227.14 L497.67 227.48 L497.69 227.81 L497.70 228.14 L497.72 228.47 L497.73 228.81 L497.74 229.14 L497.75 229.47 L497.76 229.80 L497.77 230.13 L497.77 230.47 L497.78 230.80 L497.79 231.13 L497.79 231.46 L497.79 231.80 L497.80 232.13 L497.80 232.46 L497.80 232.79 L497.80 233.12 L497.80 233.46 L497.80 233.79 L497.80 234.12 L497.79 234.45 L497.79 234.79 L497.78 235.12 L497.78 235.45 L497.77 235.78 L497.77 236.11 L497.76 236.45 L497.75 236.78 L497.74 237.11 L497.73 237.44 L497.72 237.78 L497.71 238.11 L497.70 238.44 L497.68 238.77 L497.67 239.10 L497.66 239.44 L497.64 239.77 L497.62 240.10 L497.62 240.43 L497.62 240.77 L497.62 241.10 L497.62 241.43 L497.62 241.76 L497.62 242.09 L497.62 242.43 L497.62 242.76 L497.62 243.09 L497.62 243.42 L497.62 243.76 L497.62 244.09 L497.62 244.42 L497.62 244.75 L497.62 245.08 L497.62 245.42 L497.62 245.75 L497.62 246.08 L497.62 246.41 L497.79 246.75 L498.09 247.08 L498.39 247.41 L498.70 247.74 L499.00 248.07 L499.30 248.41 L499.60 248.74 L499.90 249.07 L500.20 249.40 L500.50 249.74 L500.80 250.07 L501.10 250.40 L493.50 250.40 L493.80 250.07 L494.10 249.74 L494.40 249.40 L494.70 249.07 L495.00 248.74 L495.30 248.41 L495.60 248.07 L495.90 247.74 L496.21 247.41 L496.51 247.08 L496.81 246.75 L496.98 246.41 L496.98 246.08 L496.98 245.75 L496.98 245.42 L496.98 245.08 L496.98 244.75 L496.98 244.42 L496.98 244.09 L496.98 243.76 L496.98 243.42 L496.98 243.09 L496.98 242.76 L496.98 242.43 L496.98 242.09 L496.98 241.76 L496.98 241.43 L496.98 241.10 L496.98 240.77 L496.98 240.43 L496.98 240.10 L496.96 239.77 L496.94 239.44 L496.93 239.10 L496.92 238.77 L496.90 238.44 L496.89 238.11 L496.88 237.78 L496.87 237.44 L496.86 237.11 L496.85 236.78 L496.84 236.45 L496.83 236.11 L496.83 235.78 L496.82 235.45 L496.82 235.12 L496.81 234.79 L496.81 234.45 L496.80 234.12 L496.80 233.79 L496.80 233.46 L496.80 233.12 L496.80 232.79 L496.80 232.46 L496.80 232.13 L496.81 231.80 L496.81 231.46 L496.81 231.13 L496.82 230.80 L496.83 230.47 L496.83 230.13 L496.84 229.80 L496.85 229.47 L496.86 229.14 L496.87 228.81 L496.88 228.47 L496.90 228.14 L496.91 227.81 L496.93 227.48 L496.94 227.14 L496.96 226.81 L496.98 226.48 L496.98 226.15 L496.98 225.82 L496.98 225.48 L496.98 225.15 L496.98 224.82 L496.98 224.49 L496.98 224.15 L496.98 223.82 L496.98 223.49 L496.98 223.16 L496.98 222.83 L496.98 222.49 L496.98 222.16 L497.02 221.83 L497.09 221.50 L497.16 221.16 L497.23 220.83 L497.30 220.50Z" fill="#3D9A95" stroke="#222" stroke-width="0.65" stroke-linejoin="round"/>
<line x1="506.40" y1="250.40" x2="506.40" y2="234.00" stroke="#3a3a3a" stroke-width="0.75"/>
<path d="M513.90 221.80 L514.05 222.12 L514.19 222.44 L514.32 222.75 L514.45 223.07 L514.58 223.39 L514.70 223.71 L514.81 224.02 L514.92 224.34 L515.02 224.66 L515.12 224.98 L515.21 225.30 L515.30 225.61 L515.39 225.93 L515.46 226.25 L515.54 226.57 L515.60 226.88 L515.66 227.20 L515.72 227.52 L515.77 227.84 L515.82 228.16 L515.86 228.47 L515.90 228.79 L515.93 229.11 L515.95 229.43 L515.97 229.74 L515.99 230.06 L516.00 230.38 L516.00 230.70 L516.00 231.02 L516.00 231.33 L515.99 231.65 L515.98 231.97 L515.97 232.29 L515.95 232.60 L515.93 232.92 L515.91 233.24 L515.89 233.56 L515.86 233.88 L515.83 234.19 L515.80 234.51 L515.76 234.83 L515.72 235.15 L515.68 235.46 L515.64 235.78 L515.59 236.10 L515.54 236.42 L515.49 236.74 L515.43 237.05 L515.37 237.37 L515.31 237.69 L515.24 238.01 L515.17 238.32 L515.10 238.64 L515.03 238.96 L514.95 239.28 L514.87 239.60 L514.79 239.91 L514.70 240.23 L514.61 240.55 L514.52 240.87 L514.43 241.18 L514.33 241.50 L514.23 241.82 L514.22 242.14 L514.22 242.46 L514.22 242.77 L514.22 243.09 L514.22 243.41 L514.22 243.73 L514.25 244.04 L514.42 244.36 L514.59 244.68 L514.77 245.00 L514.94 245.32 L515.11 245.63 L515.28 245.95 L515.46 246.27 L515.63 246.59 L515.80 246.90 L515.97 247.22 L516.15 247.54 L516.32 247.86 L516.49 248.18 L516.66 248.49 L516.84 248.81 L517.01 249.13 L517.18 249.45 L517.35 249.76 L517.53 250.08 L517.70 250.40 L510.10 250.40 L510.27 250.08 L510.45 249.76 L510.62 249.45 L510.79 249.13 L510.96 248.81 L511.14 248.49 L511.31 248.18 L511.48 247.86 L511.65 247.54 L511.83 247.22 L512.00 246.90 L512.17 246.59 L512.34 246.27 L512.52 245.95 L512.69 245.63 L512.86 245.32 L513.03 245.00 L513.21 244.68 L513.38 244.36 L513.55 244.04 L513.58 243.73 L513.58 243.41 L513.58 243.09 L513.58 242.77 L513.58 242.46 L513.58 242.14 L513.57 241.82 L513.47 241.50 L513.37 241.18 L513.28 240.87 L513.19 240.55 L513.10 240.23 L513.01 239.91 L512.93 239.60 L512.85 239.28 L512.77 238.96 L512.70 238.64 L512.63 238.32 L512.56 238.01 L512.49 237.69 L512.43 237.37 L512.37 237.05 L512.31 236.74 L512.26 236.42 L512.21 236.10 L512.16 235.78 L512.12 235.46 L512.08 235.15 L512.04 234.83 L512.00 234.51 L511.97 234.19 L511.94 233.88 L511.91 233.56 L511.89 233.24 L511.87 232.92 L511.85 232.60 L511.83 232.29 L511.82 231.97 L511.81 231.65 L511.80 231.33 L511.80 231.02 L511.80 230.70 L511.80 230.38 L511.81 230.06 L511.83 229.74 L511.85 229.43 L511.87 229.11 L511.90 228.79 L511.94 228.47 L511.98 228.16 L512.03 227.84 L512.08 227.52 L512.14 227.20 L512.20 226.88 L512.26 226.57 L512.34 226.25 L512.41 225.93 L512.50 225.61 L512.59 225.30 L512.68 224.98 L512.78 224.66 L512.88 224.34 L512.99 224.02 L513.10 223.71 L513.22 223.39 L513.35 223.07 L513.48 222.75 L513.61 222.44 L513.75 222.12 L513.90 221.80Z" fill="#3D9A95" stroke="#222" stroke-width="0.65" stroke-linejoin="round"/>
<path d="M523.00 233.20 L523.04 233.39 L523.08 233.58 L523.12 233.77 L523.16 233.96 L523.20 234.16 L523.24 234.35 L523.29 234.54 L523.32 234.73 L523.32 234.92 L523.32 235.11 L523.32 235.30 L523.32 235.49 L523.32 235.68 L523.32 235.88 L523.32 236.07 L523.32 236.26 L523.32 236.45 L523.32 236.64 L523.32 236.83 L523.32 237.02 L523.32 237.21 L523.32 237.40 L523.32 237.60 L523.32 237.79 L523.32 237.98 L523.32 238.17 L523.32 238.36 L523.32 238.55 L523.32 238.74 L523.32 238.93 L523.32 239.12 L523.32 239.32 L523.32 239.51 L523.32 239.70 L523.32 239.89 L523.32 240.08 L523.32 240.27 L523.32 240.46 L523.32 240.65 L523.32 240.84 L523.32 241.04 L523.32 241.23 L523.32 241.42 L523.32 241.61 L523.32 241.80 L523.32 241.99 L523.34 242.18 L523.37 242.37 L523.41 242.56 L523.45 242.76 L523.49 242.95 L523.53 243.14 L523.57 243.33 L523.62 243.52 L523.67 243.71 L523.71 243.90 L523.77 244.09 L523.82 244.28 L523.87 244.48 L523.93 244.67 L523.98 244.86 L524.04 245.05 L524.10 245.24 L524.17 245.43 L524.23 245.62 L524.30 245.81 L524.37 246.00 L524.43 246.20 L524.51 246.39 L524.58 246.58 L524.65 246.77 L524.73 246.96 L524.81 247.15 L524.89 247.34 L524.97 247.53 L525.05 247.72 L525.14 247.92 L525.22 248.11 L525.31 248.30 L525.40 248.49 L525.50 248.68 L525.59 248.87 L525.68 249.06 L525.78 249.25 L525.88 249.44 L525.98 249.64 L526.08 249.83 L526.19 250.02 L526.29 250.21 L526.40 250.40 L519.60 250.40 L519.71 250.21 L519.81 250.02 L519.92 249.83 L520.02 249.64 L520.12 249.44 L520.22 249.25 L520.32 249.06 L520.41 248.87 L520.50 248.68 L520.60 248.49 L520.69 248.30 L520.78 248.11 L520.86 247.92 L520.95 247.72 L521.03 247.53 L521.11 247.34 L521.19 247.15 L521.27 246.96 L521.35 246.77 L521.42 246.58 L521.49 246.39 L521.57 246.20 L521.63 246.00 L521.70 245.81 L521.77 245.62 L521.83 245.43 L521.90 245.24 L521.96 245.05 L522.02 244.86 L522.07 244.67 L522.13 244.48 L522.18 244.28 L522.23 244.09 L522.29 243.90 L522.33 243.71 L522.38 243.52 L522.43 243.33 L522.47 243.14 L522.51 242.95 L522.55 242.76 L522.59 242.56 L522.63 242.37 L522.66 242.18 L522.68 241.99 L522.68 241.80 L522.68 241.61 L522.68 241.42 L522.68 241.23 L522.68 241.04 L522.68 240.84 L522.68 240.65 L522.68 240.46 L522.68 240.27 L522.68 240.08 L522.68 239.89 L522.68 239.70 L522.68 239.51 L522.68 239.32 L522.68 239.12 L522.68 238.93 L522.68 238.74 L522.68 238.55 L522.68 238.36 L522.68 238.17 L522.68 237.98 L522.68 237.79 L522.68 237.60 L522.68 237.40 L522.68 237.21 L522.68 237.02 L522.68 236.83 L522.68 236.64 L522.68 236.45 L522.68 236.26 L522.68 236.07 L522.68 235.88 L522.68 235.68 L522.68 235.49 L522.68 235.30 L522.68 235.11 L522.68 234.92 L522.68 234.73 L522.71 234.54 L522.76 234.35 L522.80 234.16 L522.84 233.96 L522.88 233.77 L522.92 233.58 L522.96 233.39 L523.00 233.20Z" fill="#E8716B" stroke="#222" stroke-width="0.65" stroke-linejoin="round"/>
<path d="M530.50 224.30 L530.56 224.59 L530.64 224.88 L530.74 225.17 L530.84 225.46 L530.93 225.75 L531.02 226.04 L531.10 226.33 L531.18 226.62 L531.26 226.91 L531.33 227.20 L531.39 227.49 L531.46 227.78 L531.52 228.07 L531.57 228.36 L531.62 228.65 L531.67 228.94 L531.71 229.23 L531.75 229.52 L531.78 229.81 L531.81 230.10 L531.84 230.39 L531.86 230.68 L531.87 230.97 L531.89 231.26 L531.89 231.55 L531.90 231.84 L531.90 232.13 L531.90 232.42 L531.89 232.71 L531.89 233.00 L531.88 233.29 L531.87 233.58 L531.86 233.87 L531.85 234.16 L531.83 234.45 L531.81 234.74 L531.79 235.03 L531.77 235.32 L531.75 235.61 L531.72 235.90 L531.70 236.19 L531.67 236.48 L531.64 236.77 L531.60 237.06 L531.57 237.35 L531.53 237.64 L531.49 237.93 L531.45 238.22 L531.41 238.51 L531.36 238.80 L531.32 239.09 L531.27 239.38 L531.22 239.67 L531.17 239.96 L531.11 240.25 L531.06 240.54 L531.00 240.83 L530.94 241.12 L530.88 241.41 L530.82 241.70 L530.82 241.99 L530.82 242.28 L530.82 242.57 L530.82 242.86 L530.82 243.15 L530.82 243.44 L530.82 243.73 L530.82 244.02 L530.82 244.31 L530.85 244.60 L531.01 244.89 L531.18 245.18 L531.35 245.47 L531.52 245.76 L531.69 246.05 L531.85 246.34 L532.02 246.63 L532.19 246.92 L532.36 247.21 L532.52 247.50 L532.69 247.79 L532.86 248.08 L533.03 248.37 L533.19 248.66 L533.36 248.95 L533.53 249.24 L533.70 249.53 L533.86 249.82 L534.03 250.11 L534.20 250.40 L526.80 250.40 L526.97 250.11 L527.14 249.82 L527.30 249.53 L527.47 249.24 L527.64 248.95 L527.81 248.66 L527.97 248.37 L528.14 248.08 L528.31 247.79 L528.48 247.50 L528.64 247.21 L528.81 246.92 L528.98 246.63 L529.15 246.34 L529.31 246.05 L529.48 245.76 L529.65 245.47 L529.82 245.18 L529.99 244.89 L530.15 244.60 L530.18 244.31 L530.18 244.02 L530.18 243.73 L530.18 243.44 L530.18 243.15 L530.18 242.86 L530.18 242.57 L530.18 242.28 L530.18 241.99 L530.18 241.70 L530.12 241.41 L530.06 241.12 L530.00 240.83 L529.94 240.54 L529.89 240.25 L529.83 239.96 L529.78 239.67 L529.73 239.38 L529.68 239.09 L529.64 238.80 L529.59 238.51 L529.55 238.22 L529.51 237.93 L529.47 237.64 L529.43 237.35 L529.40 237.06 L529.36 236.77 L529.33 236.48 L529.30 236.19 L529.28 235.90 L529.25 235.61 L529.23 235.32 L529.21 235.03 L529.19 234.74 L529.17 234.45 L529.15 234.16 L529.14 233.87 L529.13 233.58 L529.12 233.29 L529.11 233.00 L529.11 232.71 L529.10 232.42 L529.10 232.13 L529.10 231.84 L529.11 231.55 L529.11 231.26 L529.13 230.97 L529.14 230.68 L529.16 230.39 L529.19 230.10 L529.22 229.81 L529.25 229.52 L529.29 229.23 L529.33 228.94 L529.38 228.65 L529.43 228.36 L529.48 228.07 L529.54 227.78 L529.61 227.49 L529.67 227.20 L529.74 226.91 L529.82 226.62 L529.90 226.33 L529.98 226.04 L530.07 225.75 L530.16 225.46 L530.26 225.17 L530.36 224.88 L530.44 224.59 L530.50 224.30Z" fill="#3D9A95" stroke="#222" stroke-width="0.65" stroke-linejoin="round"/>
<line x1="539.60" y1="250.40" x2="539.60" y2="226.20" stroke="#3a3a3a" stroke-width="0.75"/>
<path d="M547.10 221.00 L547.17 221.33 L547.24 221.65 L547.31 221.98 L547.38 222.31 L547.42 222.63 L547.42 222.96 L547.42 223.29 L547.42 223.61 L547.42 223.94 L547.42 224.27 L547.42 224.59 L547.42 224.92 L547.42 225.25 L547.42 225.57 L547.42 225.90 L547.42 226.23 L547.43 226.55 L547.45 226.88 L547.46 227.21 L547.48 227.53 L547.49 227.86 L547.50 228.19 L547.52 228.51 L547.53 228.84 L547.54 229.17 L547.55 229.49 L547.56 229.82 L547.57 230.15 L547.57 230.47 L547.58 230.80 L547.59 231.13 L547.59 231.45 L547.59 231.78 L547.60 232.11 L547.60 232.43 L547.60 232.76 L547.60 233.09 L547.60 233.41 L547.60 233.74 L547.60 234.07 L547.59 234.39 L547.59 234.72 L547.59 235.05 L547.58 235.37 L547.57 235.70 L547.57 236.03 L547.56 236.35 L547.55 236.68 L547.54 237.01 L547.53 237.33 L547.52 237.66 L547.51 237.99 L547.50 238.31 L547.49 238.64 L547.48 238.97 L547.46 239.29 L547.45 239.62 L547.43 239.95 L547.42 240.27 L547.42 240.60 L547.42 240.93 L547.42 241.25 L547.42 241.58 L547.42 241.91 L547.42 242.23 L547.42 242.56 L547.42 242.89 L547.42 243.21 L547.42 243.54 L547.42 243.87 L547.42 244.19 L547.42 244.52 L547.42 244.85 L547.42 245.17 L547.45 245.50 L547.68 245.83 L547.91 246.15 L548.14 246.48 L548.37 246.81 L548.60 247.13 L548.83 247.46 L549.06 247.79 L549.29 248.11 L549.52 248.44 L549.75 248.77 L549.98 249.09 L550.21 249.42 L550.44 249.75 L550.67 250.07 L550.90 250.40 L543.30 250.40 L543.53 250.07 L543.76 249.75 L543.99 249.42 L544.22 249.09 L544.45 248.77 L544.68 248.44 L544.91 248.11 L545.14 247.79 L545.37 247.46 L545.60 247.13 L545.83 246.81 L546.06 246.48 L546.29 246.15 L546.52 245.83 L546.75 245.50 L546.78 245.17 L546.78 244.85 L546.78 244.52 L546.78 244.19 L546.78 243.87 L546.78 243.54 L546.78 243.21 L546.78 242.89 L546.78 242.56 L546.78 242.23 L546.78 241.91 L546.78 241.58 L546.78 241.25 L546.78 240.93 L546.78 240.60 L546.78 240.27 L546.77 239.95 L546.75 239.62 L546.74 239.29 L546.72 238.97 L546.71 238.64 L546.70 238.31 L546.69 237.99 L546.68 237.66 L546.67 237.33 L546.66 237.01 L546.65 236.68 L546.64 236.35 L546.63 236.03 L546.63 235.70 L546.62 235.37 L546.61 235.05 L546.61 234.72 L546.61 234.39 L546.60 234.07 L546.60 233.74 L546.60 233.41 L546.60 233.09 L546.60 232.76 L546.60 232.43 L546.60 232.11 L546.61 231.78 L546.61 231.45 L546.61 231.13 L546.62 230.80 L546.63 230.47 L546.63 230.15 L546.64 229.82 L546.65 229.49 L546.66 229.17 L546.67 228.84 L546.68 228.51 L546.70 228.19 L546.71 227.86 L546.72 227.53 L546.74 227.21 L546.75 226.88 L546.77 226.55 L546.78 226.23 L546.78 225.90 L546.78 225.57 L546.78 225.25 L546.78 224.92 L546.78 224.59 L546.78 224.27 L546.78 223.94 L546.78 223.61 L546.78 223.29 L546.78 222.96 L546.78 222.63 L546.82 222.31 L546.89 221.98 L546.96 221.65 L547.03 221.33 L547.10 221.00Z" fill="#3D9A95" stroke="#222" stroke-width="0.65" stroke-linejoin="round"/>
<path d="M556.20 231.40 L556.25 231.61 L556.29 231.82 L556.34 232.03 L556.38 232.24 L556.43 232.46 L556.47 232.67 L556.52 232.88 L556.52 233.09 L556.52 233.30 L556.52 233.51 L556.52 233.72 L556.52 233.93 L556.52 234.14 L556.52 234.36 L556.52 234.57 L556.52 234.78 L556.52 234.99 L556.52 235.20 L556.52 235.41 L556.52 235.62 L556.53 235.83 L556.54 236.04 L556.55 236.26 L556.56 236.47 L556.57 236.68 L556.58 236.89 L556.59 237.10 L556.60 237.31 L556.61 237.52 L556.61 237.73 L556.62 237.94 L556.63 238.16 L556.63 238.37 L556.64 238.58 L556.64 238.79 L556.64 239.00 L556.65 239.21 L556.65 239.42 L556.65 239.63 L556.65 239.84 L556.65 240.06 L556.65 240.27 L556.65 240.48 L556.65 240.69 L556.64 240.90 L556.64 241.11 L556.64 241.32 L556.63 241.53 L556.63 241.74 L556.62 241.96 L556.62 242.17 L556.61 242.38 L556.60 242.59 L556.59 242.80 L556.59 243.01 L556.58 243.22 L556.57 243.43 L556.56 243.64 L556.55 243.86 L556.53 244.07 L556.52 244.28 L556.52 244.49 L556.52 244.70 L556.52 244.91 L556.52 245.12 L556.52 245.33 L556.52 245.54 L556.52 245.76 L556.52 245.97 L556.52 246.18 L556.52 246.39 L556.52 246.60 L556.52 246.81 L556.52 247.02 L556.52 247.23 L556.52 247.44 L556.52 247.66 L556.53 247.87 L556.80 248.08 L557.06 248.29 L557.33 248.50 L557.59 248.71 L557.85 248.92 L558.12 249.13 L558.38 249.34 L558.64 249.56 L558.91 249.77 L559.17 249.98 L559.44 250.19 L559.70 250.40 L552.70 250.40 L552.96 250.19 L553.23 249.98 L553.49 249.77 L553.76 249.56 L554.02 249.34 L554.28 249.13 L554.55 248.92 L554.81 248.71 L555.08 248.50 L555.34 248.29 L555.60 248.08 L555.87 247.87 L555.88 247.66 L555.88 247.44 L555.88 247.23 L555.88 247.02 L555.88 246.81 L555.88 246.60 L555.88 246.39 L555.88 246.18 L555.88 245.97 L555.88 245.76 L555.88 245.54 L555.88 245.33 L555.88 245.12 L555.88 244.91 L555.88 244.70 L555.88 244.49 L555.88 244.28 L555.87 244.07 L555.85 243.86 L555.84 243.64 L555.83 243.43 L555.82 243.22 L555.81 243.01 L555.81 242.80 L555.80 242.59 L555.79 242.38 L555.78 242.17 L555.78 241.96 L555.77 241.74 L555.77 241.53 L555.76 241.32 L555.76 241.11 L555.76 240.90 L555.75 240.69 L555.75 240.48 L555.75 240.27 L555.75 240.06 L555.75 239.84 L555.75 239.63 L555.75 239.42 L555.75 239.21 L555.76 239.00 L555.76 238.79 L555.76 238.58 L555.77 238.37 L555.77 238.16 L555.78 237.94 L555.79 237.73 L555.79 237.52 L555.80 237.31 L555.81 237.10 L555.82 236.89 L555.83 236.68 L555.84 236.47 L555.85 236.26 L555.86 236.04 L555.87 235.83 L555.88 235.62 L555.88 235.41 L555.88 235.20 L555.88 234.99 L555.88 234.78 L555.88 234.57 L555.88 234.36 L555.88 234.14 L555.88 233.93 L555.88 233.72 L555.88 233.51 L555.88 233.30 L555.88 233.09 L555.88 232.88 L555.93 232.67 L555.97 232.46 L556.02 232.24 L556.06 232.03 L556.11 231.82 L556.15 231.61 L556.20 231.40Z" fill="#E8716B" stroke="#222" stroke-width="0.65" stroke-linejoin="round"/>
<path d="M563.70 219.80 L563.77 220.14 L563.85 220.48 L563.92 220.82 L563.99 221.16 L564.02 221.50 L564.02 221.84 L564.02 222.18 L564.02 222.52 L564.02 222.86 L564.02 223.20 L564.02 223.54 L564.02 223.88 L564.02 224.22 L564.02 224.56 L564.02 224.90 L564.02 225.24 L564.03 225.58 L564.05 225.92 L564.07 226.26 L564.08 226.60 L564.10 226.94 L564.12 227.28 L564.13 227.62 L564.15 227.96 L564.16 228.30 L564.18 228.64 L564.19 228.98 L564.20 229.32 L564.21 229.66 L564.22 230.00 L564.23 230.34 L564.24 230.68 L564.25 231.02 L564.26 231.36 L564.27 231.70 L564.27 232.04 L564.28 232.38 L564.28 232.72 L564.29 233.06 L564.29 233.40 L564.30 233.74 L564.30 234.08 L564.30 234.42 L564.30 234.76 L564.30 235.10 L564.30 235.44 L564.30 235.78 L564.29 236.12 L564.29 236.46 L564.29 236.80 L564.28 237.14 L564.27 237.48 L564.27 237.82 L564.26 238.16 L564.25 238.50 L564.24 238.84 L564.23 239.18 L564.21 239.52 L564.20 239.86 L564.19 240.20 L564.17 240.54 L564.16 240.88 L564.14 241.22 L564.12 241.56 L564.10 241.90 L564.08 242.24 L564.06 242.58 L564.04 242.92 L564.02 243.26 L564.02 243.60 L564.02 243.94 L564.02 244.28 L564.02 244.62 L564.02 244.96 L564.02 245.30 L564.02 245.64 L564.02 245.98 L564.02 246.32 L564.16 246.66 L564.43 247.00 L564.71 247.34 L564.99 247.68 L565.26 248.02 L565.54 248.36 L565.82 248.70 L566.09 249.04 L566.37 249.38 L566.65 249.72 L566.92 250.06 L567.20 250.40 L560.20 250.40 L560.48 250.06 L560.75 249.72 L561.03 249.38 L561.31 249.04 L561.58 248.70 L561.86 248.36 L562.14 248.02 L562.41 247.68 L562.69 247.34 L562.97 247.00 L563.24 246.66 L563.38 246.32 L563.38 245.98 L563.38 245.64 L563.38 245.30 L563.38 244.96 L563.38 244.62 L563.38 244.28 L563.38 243.94 L563.38 243.60 L563.38 243.26 L563.36 242.92 L563.34 242.58 L563.32 242.24 L563.30 241.90 L563.28 241.56 L563.26 241.22 L563.24 240.88 L563.23 240.54 L563.21 240.20 L563.20 239.86 L563.19 239.52 L563.17 239.18 L563.16 238.84 L563.15 238.50 L563.14 238.16 L563.13 237.82 L563.13 237.48 L563.12 237.14 L563.11 236.80 L563.11 236.46 L563.11 236.12 L563.10 235.78 L563.10 235.44 L563.10 235.10 L563.10 234.76 L563.10 234.42 L563.10 234.08 L563.10 233.74 L563.11 233.40 L563.11 233.06 L563.12 232.72 L563.12 232.38 L563.13 232.04 L563.13 231.70 L563.14 231.36 L563.15 231.02 L563.16 230.68 L563.17 230.34 L563.18 230.00 L563.19 229.66 L563.20 229.32 L563.21 228.98 L563.22 228.64 L563.24 228.30 L563.25 227.96 L563.27 227.62 L563.28 227.28 L563.30 226.94 L563.32 226.60 L563.33 226.26 L563.35 225.92 L563.37 225.58 L563.38 225.24 L563.38 224.90 L563.38 224.56 L563.38 224.22 L563.38 223.88 L563.38 223.54 L563.38 223.20 L563.38 222.86 L563.38 222.52 L563.38 222.18 L563.38 221.84 L563.38 221.50 L563.41 221.16 L563.48 220.82 L563.55 220.48 L563.63 220.14 L563.70 219.80Z" fill="#3D9A95" stroke="#222" stroke-width="0.65" stroke-linejoin="round"/>
<line x1="572.80" y1="250.40" x2="572.80" y2="226.00" stroke="#3a3a3a" stroke-width="0.75"/>
<path d="M580.30 216.30 L580.38 216.68 L580.46 217.06 L580.54 217.44 L580.62 217.82 L580.62 218.19 L580.62 218.57 L580.62 218.95 L580.62 219.33 L580.62 219.71 L580.62 220.09 L580.62 220.47 L580.62 220.85 L580.62 221.23 L580.62 221.60 L580.62 221.98 L580.65 222.36 L580.72 222.74 L580.78 223.12 L580.83 223.50 L580.89 223.88 L580.93 224.26 L580.98 224.64 L581.02 225.01 L581.06 225.39 L581.09 225.77 L581.12 226.15 L581.14 226.53 L581.16 226.91 L581.18 227.29 L581.19 227.67 L581.20 228.05 L581.20 228.42 L581.20 228.80 L581.20 229.18 L581.19 229.56 L581.17 229.94 L581.16 230.32 L581.14 230.70 L581.11 231.08 L581.09 231.46 L581.05 231.83 L581.02 232.21 L580.98 232.59 L580.93 232.97 L580.88 233.35 L580.83 233.73 L580.77 234.11 L580.71 234.49 L580.65 234.87 L580.62 235.24 L580.62 235.62 L580.62 236.00 L580.62 236.38 L580.62 236.76 L580.62 237.14 L580.62 237.52 L580.62 237.90 L580.62 238.28 L580.62 238.65 L580.62 239.03 L580.62 239.41 L580.62 239.79 L580.62 240.17 L580.62 240.55 L580.62 240.93 L580.62 241.31 L580.62 241.69 L580.62 242.06 L580.62 242.44 L580.62 242.82 L580.62 243.20 L580.62 243.58 L580.62 243.96 L580.62 244.34 L580.62 244.72 L580.62 245.10 L580.62 245.47 L580.62 245.85 L580.73 246.23 L581.04 246.61 L581.34 246.99 L581.65 247.37 L581.96 247.75 L582.26 248.13 L582.57 248.51 L582.87 248.88 L583.18 249.26 L583.49 249.64 L583.79 250.02 L584.10 250.40 L576.50 250.40 L576.81 250.02 L577.11 249.64 L577.42 249.26 L577.73 248.88 L578.03 248.51 L578.34 248.13 L578.64 247.75 L578.95 247.37 L579.26 246.99 L579.56 246.61 L579.87 246.23 L579.98 245.85 L579.98 245.47 L579.98 245.10 L579.98 244.72 L579.98 244.34 L579.98 243.96 L579.98 243.58 L579.98 243.20 L579.98 242.82 L579.98 242.44 L579.98 242.06 L579.98 241.69 L579.98 241.31 L579.98 240.93 L579.98 240.55 L579.98 240.17 L579.98 239.79 L579.98 239.41 L579.98 239.03 L579.98 238.65 L579.98 238.28 L579.98 237.90 L579.98 237.52 L579.98 237.14 L579.98 236.76 L579.98 236.38 L579.98 236.00 L579.98 235.62 L579.98 235.24 L579.95 234.87 L579.89 234.49 L579.83 234.11 L579.77 233.73 L579.72 233.35 L579.67 232.97 L579.62 232.59 L579.58 232.21 L579.55 231.83 L579.51 231.46 L579.49 231.08 L579.46 230.70 L579.44 230.32 L579.43 229.94 L579.41 229.56 L579.40 229.18 L579.40 228.80 L579.40 228.42 L579.40 228.05 L579.41 227.67 L579.42 227.29 L579.44 226.91 L579.46 226.53 L579.48 226.15 L579.51 225.77 L579.54 225.39 L579.58 225.01 L579.62 224.64 L579.67 224.26 L579.71 223.88 L579.77 223.50 L579.82 223.12 L579.88 222.74 L579.95 222.36 L579.98 221.98 L579.98 221.60 L579.98 221.23 L579.98 220.85 L579.98 220.47 L579.98 220.09 L579.98 219.71 L579.98 219.33 L579.98 218.95 L579.98 218.57 L579.98 218.19 L579.98 217.82 L580.06 217.44 L580.14 217.06 L580.22 216.68 L580.30 216.30Z" fill="#3D9A95" stroke="#222" stroke-width="0.65" stroke-linejoin="round"/>
<line x1="589.40" y1="250.40" x2="589.40" y2="229.00" stroke="#3a3a3a" stroke-width="0.75"/>
<path d="M596.90 220.80 L596.97 221.13 L597.04 221.46 L597.11 221.79 L597.18 222.12 L597.22 222.44 L597.22 222.77 L597.22 223.10 L597.22 223.43 L597.22 223.76 L597.22 224.09 L597.22 224.42 L597.22 224.75 L597.22 225.08 L597.30 225.40 L597.39 225.73 L597.47 226.06 L597.55 226.39 L597.62 226.72 L597.69 227.05 L597.75 227.38 L597.82 227.71 L597.87 228.04 L597.93 228.36 L597.98 228.69 L598.03 229.02 L598.07 229.35 L598.11 229.68 L598.15 230.01 L598.18 230.34 L598.21 230.67 L598.23 231.00 L598.25 231.32 L598.27 231.65 L598.28 231.98 L598.29 232.31 L598.30 232.64 L598.30 232.97 L598.30 233.30 L598.29 233.63 L598.28 233.96 L598.26 234.28 L598.24 234.61 L598.22 234.94 L598.19 235.27 L598.15 235.60 L598.11 235.93 L598.07 236.26 L598.02 236.59 L597.96 236.92 L597.91 237.24 L597.84 237.57 L597.77 237.90 L597.70 238.23 L597.62 238.56 L597.54 238.89 L597.45 239.22 L597.36 239.55 L597.27 239.88 L597.22 240.20 L597.22 240.53 L597.22 240.86 L597.22 241.19 L597.22 241.52 L597.22 241.85 L597.22 242.18 L597.22 242.51 L597.22 242.84 L597.22 243.16 L597.22 243.49 L597.22 243.82 L597.22 244.15 L597.22 244.48 L597.22 244.81 L597.22 245.14 L597.22 245.47 L597.34 245.80 L597.58 246.12 L597.82 246.45 L598.06 246.78 L598.30 247.11 L598.54 247.44 L598.78 247.77 L599.02 248.10 L599.26 248.43 L599.50 248.76 L599.74 249.08 L599.98 249.41 L600.22 249.74 L600.46 250.07 L600.70 250.40 L593.10 250.40 L593.34 250.07 L593.58 249.74 L593.82 249.41 L594.06 249.08 L594.30 248.76 L594.54 248.43 L594.78 248.10 L595.02 247.77 L595.26 247.44 L595.50 247.11 L595.74 246.78 L595.98 246.45 L596.22 246.12 L596.46 245.80 L596.58 245.47 L596.58 245.14 L596.58 244.81 L596.58 244.48 L596.58 244.15 L596.58 243.82 L596.58 243.49 L596.58 243.16 L596.58 242.84 L596.58 242.51 L596.58 242.18 L596.58 241.85 L596.58 241.52 L596.58 241.19 L596.58 240.86 L596.58 240.53 L596.58 240.20 L596.53 239.88 L596.44 239.55 L596.35 239.22 L596.26 238.89 L596.18 238.56 L596.10 238.23 L596.03 237.90 L595.96 237.57 L595.89 237.24 L595.84 236.92 L595.78 236.59 L595.73 236.26 L595.69 235.93 L595.65 235.60 L595.61 235.27 L595.58 234.94 L595.56 234.61 L595.54 234.28 L595.52 233.96 L595.51 233.63 L595.50 233.30 L595.50 232.97 L595.50 232.64 L595.51 232.31 L595.52 231.98 L595.53 231.65 L595.55 231.32 L595.57 231.00 L595.59 230.67 L595.62 230.34 L595.65 230.01 L595.69 229.68 L595.73 229.35 L595.77 229.02 L595.82 228.69 L595.87 228.36 L595.93 228.04 L595.98 227.71 L596.05 227.38 L596.11 227.05 L596.18 226.72 L596.25 226.39 L596.33 226.06 L596.41 225.73 L596.50 225.40 L596.58 225.08 L596.58 224.75 L596.58 224.42 L596.58 224.09 L596.58 223.76 L596.58 223.43 L596.58 223.10 L596.58 222.77 L596.58 222.44 L596.62 222.12 L596.69 221.79 L596.76 221.46 L596.83 221.13 L596.90 220.80Z" fill="#3D9A95" stroke="#222" stroke-width="0.65" stroke-linejoin="round"/>
<line x1="606.00" y1="250.40" x2="606.00" y2="231.10" stroke="#9a9a9a" stroke-width="0.75"/>
<path d="M613.50 221.20 L613.57 221.52 L613.64 221.85 L613.71 222.17 L613.78 222.50 L613.82 222.82 L613.82 223.15 L613.82 223.47 L613.82 223.80 L613.82 224.12 L613.82 224.44 L613.82 224.77 L613.82 225.09 L613.82 225.42 L613.82 225.74 L613.82 226.07 L613.82 226.39 L613.82 226.72 L613.82 227.04 L613.82 227.36 L613.82 227.69 L613.82 228.01 L613.83 228.34 L613.84 228.66 L613.85 228.99 L613.86 229.31 L613.86 229.64 L613.87 229.96 L613.88 230.28 L613.88 230.61 L613.89 230.93 L613.89 231.26 L613.89 231.58 L613.90 231.91 L613.90 232.23 L613.90 232.56 L613.90 232.88 L613.90 233.20 L613.90 233.53 L613.90 233.85 L613.90 234.18 L613.89 234.50 L613.89 234.83 L613.89 235.15 L613.88 235.48 L613.88 235.80 L613.87 236.12 L613.87 236.45 L613.86 236.77 L613.85 237.10 L613.85 237.42 L613.84 237.75 L613.83 238.07 L613.82 238.40 L613.82 238.72 L613.82 239.04 L613.82 239.37 L613.82 239.69 L613.82 240.02 L613.82 240.34 L613.82 240.67 L613.82 240.99 L613.82 241.32 L613.82 241.64 L613.82 241.96 L613.82 242.29 L613.82 242.61 L613.82 242.94 L613.82 243.26 L613.82 243.59 L613.82 243.91 L613.82 244.24 L613.82 244.56 L613.82 244.88 L613.82 245.21 L613.82 245.53 L613.82 245.86 L613.82 246.18 L613.86 246.51 L614.15 246.83 L614.43 247.16 L614.72 247.48 L615.01 247.80 L615.29 248.13 L615.58 248.45 L615.87 248.78 L616.15 249.10 L616.44 249.43 L616.73 249.75 L617.01 250.08 L617.30 250.40 L609.70 250.40 L609.99 250.08 L610.27 249.75 L610.56 249.43 L610.85 249.10 L611.13 248.78 L611.42 248.45 L611.71 248.13 L611.99 247.80 L612.28 247.48 L612.57 247.16 L612.85 246.83 L613.14 246.51 L613.18 246.18 L613.18 245.86 L613.18 245.53 L613.18 245.21 L613.18 244.88 L613.18 244.56 L613.18 244.24 L613.18 243.91 L613.18 243.59 L613.18 243.26 L613.18 242.94 L613.18 242.61 L613.18 242.29 L613.18 241.96 L613.18 241.64 L613.18 241.32 L613.18 240.99 L613.18 240.67 L613.18 240.34 L613.18 240.02 L613.18 239.69 L613.18 239.37 L613.18 239.04 L613.18 238.72 L613.18 238.40 L613.17 238.07 L613.16 237.75 L613.15 237.42 L613.15 237.10 L613.14 236.77 L613.13 236.45 L613.13 236.12 L613.12 235.80 L613.12 235.48 L613.11 235.15 L613.11 234.83 L613.11 234.50 L613.10 234.18 L613.10 233.85 L613.10 233.53 L613.10 233.20 L613.10 232.88 L613.10 232.56 L613.10 232.23 L613.10 231.91 L613.11 231.58 L613.11 231.26 L613.11 230.93 L613.12 230.61 L613.12 230.28 L613.13 229.96 L613.14 229.64 L613.14 229.31 L613.15 228.99 L613.16 228.66 L613.17 228.34 L613.18 228.01 L613.18 227.69 L613.18 227.36 L613.18 227.04 L613.18 226.72 L613.18 226.39 L613.18 226.07 L613.18 225.74 L613.18 225.42 L613.18 225.09 L613.18 224.77 L613.18 224.44 L613.18 224.12 L613.18 223.80 L613.18 223.47 L613.18 223.15 L613.18 222.82 L613.22 222.50 L613.29 222.17 L613.36 221.85 L613.43 221.52 L613.50 221.20Z" fill="#3D9A95" stroke="#222" stroke-width="0.65" stroke-linejoin="round"/>
<line x1="622.60" y1="250.40" x2="622.60" y2="224.60" stroke="#3a3a3a" stroke-width="0.75"/>
<path d="M630.10 218.40 L630.18 218.76 L630.25 219.11 L630.33 219.47 L630.40 219.82 L630.42 220.18 L630.42 220.53 L630.42 220.89 L630.42 221.24 L630.42 221.60 L630.42 221.96 L630.42 222.31 L630.42 222.67 L630.42 223.02 L630.42 223.38 L630.42 223.73 L630.42 224.09 L630.42 224.44 L630.42 224.80 L630.45 225.16 L630.48 225.51 L630.50 225.87 L630.53 226.22 L630.56 226.58 L630.58 226.93 L630.60 227.29 L630.62 227.64 L630.63 228.00 L630.65 228.36 L630.66 228.71 L630.67 229.07 L630.68 229.42 L630.69 229.78 L630.69 230.13 L630.70 230.49 L630.70 230.84 L630.70 231.20 L630.70 231.56 L630.69 231.91 L630.69 232.27 L630.68 232.62 L630.67 232.98 L630.66 233.33 L630.65 233.69 L630.63 234.04 L630.61 234.40 L630.60 234.76 L630.57 235.11 L630.55 235.47 L630.53 235.82 L630.50 236.18 L630.47 236.53 L630.44 236.89 L630.42 237.24 L630.42 237.60 L630.42 237.96 L630.42 238.31 L630.42 238.67 L630.42 239.02 L630.42 239.38 L630.42 239.73 L630.42 240.09 L630.42 240.44 L630.42 240.80 L630.42 241.16 L630.42 241.51 L630.42 241.87 L630.42 242.22 L630.42 242.58 L630.42 242.93 L630.42 243.29 L630.42 243.64 L630.42 244.00 L630.42 244.36 L630.42 244.71 L630.42 245.07 L630.42 245.42 L630.42 245.78 L630.42 246.13 L630.44 246.49 L630.76 246.84 L631.07 247.20 L631.39 247.56 L631.70 247.91 L632.01 248.27 L632.33 248.62 L632.64 248.98 L632.96 249.33 L633.27 249.69 L633.59 250.04 L633.90 250.40 L626.30 250.40 L626.61 250.04 L626.93 249.69 L627.24 249.33 L627.56 248.98 L627.87 248.62 L628.19 248.27 L628.50 247.91 L628.81 247.56 L629.13 247.20 L629.44 246.84 L629.76 246.49 L629.78 246.13 L629.78 245.78 L629.78 245.42 L629.78 245.07 L629.78 244.71 L629.78 244.36 L629.78 244.00 L629.78 243.64 L629.78 243.29 L629.78 242.93 L629.78 242.58 L629.78 242.22 L629.78 241.87 L629.78 241.51 L629.78 241.16 L629.78 240.80 L629.78 240.44 L629.78 240.09 L629.78 239.73 L629.78 239.38 L629.78 239.02 L629.78 238.67 L629.78 238.31 L629.78 237.96 L629.78 237.60 L629.78 237.24 L629.76 236.89 L629.73 236.53 L629.70 236.18 L629.67 235.82 L629.65 235.47 L629.63 235.11 L629.60 234.76 L629.59 234.40 L629.57 234.04 L629.55 233.69 L629.54 233.33 L629.53 232.98 L629.52 232.62 L629.51 232.27 L629.51 231.91 L629.50 231.56 L629.50 231.20 L629.50 230.84 L629.50 230.49 L629.51 230.13 L629.51 229.78 L629.52 229.42 L629.53 229.07 L629.54 228.71 L629.55 228.36 L629.57 228.00 L629.58 227.64 L629.60 227.29 L629.62 226.93 L629.64 226.58 L629.67 226.22 L629.70 225.87 L629.72 225.51 L629.75 225.16 L629.78 224.80 L629.78 224.44 L629.78 224.09 L629.78 223.73 L629.78 223.38 L629.78 223.02 L629.78 222.67 L629.78 222.31 L629.78 221.96 L629.78 221.60 L629.78 221.24 L629.78 220.89 L629.78 220.53 L629.78 220.18 L629.80 219.82 L629.87 219.47 L629.95 219.11 L630.02 218.76 L630.10 218.40Z" fill="#3D9A95" stroke="#222" stroke-width="0.65" stroke-linejoin="round"/>
<line x1="433.50" y1="211.30" x2="433.50" y2="251.90" stroke="#262626" stroke-width="0.85"/>
<line x1="433.50" y1="251.90" x2="636.80" y2="251.90" stroke="#262626" stroke-width="0.9"/>
<line x1="430.50" y1="212.30" x2="433.50" y2="212.30" stroke="#333" stroke-width="0.6"/>
<text x="427.60" y="212.30" font-size="4.8" text-anchor="end" fill="#333" dy="0.35em">5</text>
<text x="410.60" y="213.10" font-size="7.2" text-anchor="middle" fill="#111" dy="0.35em">PLG</text>
<line x1="435.95" y1="294.60" x2="451.55" y2="294.60" stroke="#A8A8A8" stroke-width="0.9"/>
<line x1="452.55" y1="294.60" x2="468.15" y2="294.60" stroke="#A8A8A8" stroke-width="0.9"/>
<line x1="469.15" y1="294.60" x2="484.75" y2="294.60" stroke="#A8A8A8" stroke-width="0.9"/>
<line x1="485.75" y1="294.60" x2="501.35" y2="294.60" stroke="#A8A8A8" stroke-width="0.9"/>
<line x1="502.35" y1="294.60" x2="517.95" y2="294.60" stroke="#A8A8A8" stroke-width="0.9"/>
<line x1="518.95" y1="294.60" x2="534.55" y2="294.60" stroke="#A8A8A8" stroke-width="0.9"/>
<line x1="535.55" y1="294.60" x2="551.15" y2="294.60" stroke="#A8A8A8" stroke-width="0.9"/>
<line x1="552.15" y1="294.60" x2="567.75" y2="294.60" stroke="#A8A8A8" stroke-width="0.9"/>
<line x1="568.75" y1="294.60" x2="584.35" y2="294.60" stroke="#A8A8A8" stroke-width="0.9"/>
<line x1="585.35" y1="294.60" x2="600.95" y2="294.60" stroke="#A8A8A8" stroke-width="0.9"/>
<line x1="601.95" y1="294.60" x2="617.55" y2="294.60" stroke="#A8A8A8" stroke-width="0.9"/>
<line x1="618.55" y1="294.60" x2="634.15" y2="294.60" stroke="#A8A8A8" stroke-width="0.9"/>
<path d="M440.00 264.20 L440.25 264.54 L440.49 264.88 L440.72 265.21 L440.94 265.55 L441.16 265.89 L441.36 266.23 L441.55 266.56 L441.74 266.90 L441.92 267.24 L442.09 267.58 L442.25 267.92 L442.40 268.25 L442.54 268.59 L442.67 268.93 L442.80 269.27 L442.91 269.60 L443.02 269.94 L443.12 270.28 L443.20 270.62 L443.28 270.96 L443.35 271.29 L443.42 271.63 L443.47 271.97 L443.51 272.31 L443.55 272.64 L443.57 272.98 L443.59 273.32 L443.60 273.66 L443.60 274.00 L443.59 274.33 L443.59 274.67 L443.57 275.01 L443.55 275.35 L443.53 275.68 L443.50 276.02 L443.47 276.36 L443.43 276.70 L443.39 277.04 L443.35 277.37 L443.30 277.71 L443.24 278.05 L443.18 278.39 L443.12 278.72 L443.05 279.06 L442.98 279.40 L442.90 279.74 L442.82 280.08 L442.74 280.41 L442.65 280.75 L442.55 281.09 L442.45 281.43 L442.35 281.76 L442.24 282.10 L442.13 282.44 L442.01 282.78 L441.89 283.12 L441.76 283.45 L441.63 283.79 L441.49 284.13 L441.35 284.47 L441.21 284.80 L441.06 285.14 L440.91 285.48 L440.75 285.82 L440.58 286.16 L440.42 286.49 L440.32 286.83 L440.32 287.17 L440.32 287.51 L440.32 287.84 L440.32 288.18 L440.32 288.52 L440.32 288.86 L440.32 289.20 L440.32 289.53 L440.32 289.87 L440.32 290.21 L440.32 290.55 L440.32 290.88 L440.32 291.22 L440.32 291.56 L440.40 291.90 L440.68 292.24 L440.99 292.57 L441.23 292.91 L441.30 293.25 L441.17 293.59 L440.90 293.92 L440.59 294.26 L440.33 294.60 L439.67 294.60 L439.41 294.26 L439.10 293.92 L438.83 293.59 L438.70 293.25 L438.77 292.91 L439.01 292.57 L439.32 292.24 L439.60 291.90 L439.68 291.56 L439.68 291.22 L439.68 290.88 L439.68 290.55 L439.68 290.21 L439.68 289.87 L439.68 289.53 L439.68 289.20 L439.68 288.86 L439.68 288.52 L439.68 288.18 L439.68 287.84 L439.68 287.51 L439.68 287.17 L439.68 286.83 L439.58 286.49 L439.42 286.16 L439.25 285.82 L439.09 285.48 L438.94 285.14 L438.79 284.80 L438.65 284.47 L438.51 284.13 L438.37 283.79 L438.24 283.45 L438.11 283.12 L437.99 282.78 L437.87 282.44 L437.76 282.10 L437.65 281.76 L437.55 281.43 L437.45 281.09 L437.35 280.75 L437.26 280.41 L437.18 280.08 L437.10 279.74 L437.02 279.40 L436.95 279.06 L436.88 278.72 L436.82 278.39 L436.76 278.05 L436.70 277.71 L436.65 277.37 L436.61 277.04 L436.57 276.70 L436.53 276.36 L436.50 276.02 L436.47 275.68 L436.45 275.35 L436.43 275.01 L436.41 274.67 L436.41 274.33 L436.40 274.00 L436.40 273.66 L436.41 273.32 L436.43 272.98 L436.45 272.64 L436.49 272.31 L436.53 271.97 L436.58 271.63 L436.65 271.29 L436.72 270.96 L436.80 270.62 L436.88 270.28 L436.98 269.94 L437.09 269.60 L437.20 269.27 L437.33 268.93 L437.46 268.59 L437.60 268.25 L437.75 267.92 L437.91 267.58 L438.08 267.24 L438.26 266.90 L438.45 266.56 L438.64 266.23 L438.84 265.89 L439.06 265.55 L439.28 265.21 L439.51 264.88 L439.75 264.54 L440.00 264.20Z" fill="#E8716B" stroke="#222" stroke-width="0.65" stroke-linejoin="round"/>
<path d="M447.50 263.60 L447.57 263.94 L447.65 264.29 L447.72 264.63 L447.79 264.98 L447.82 265.32 L447.97 265.67 L448.21 266.01 L448.43 266.36 L448.64 266.70 L448.84 267.04 L449.04 267.39 L449.22 267.73 L449.40 268.08 L449.57 268.42 L449.73 268.77 L449.87 269.11 L450.01 269.46 L450.14 269.80 L450.26 270.14 L450.38 270.49 L450.48 270.83 L450.57 271.18 L450.66 271.52 L450.73 271.87 L450.80 272.21 L450.85 272.56 L450.90 272.90 L450.94 273.24 L450.97 273.59 L450.99 273.93 L451.00 274.28 L451.00 274.62 L450.99 274.97 L450.98 275.31 L450.96 275.66 L450.94 276.00 L450.91 276.34 L450.87 276.69 L450.83 277.03 L450.78 277.38 L450.73 277.72 L450.66 278.07 L450.60 278.41 L450.52 278.76 L450.44 279.10 L450.35 279.44 L450.26 279.79 L450.16 280.13 L450.05 280.48 L449.94 280.82 L449.82 281.17 L449.70 281.51 L449.57 281.86 L449.43 282.20 L449.29 282.54 L449.14 282.89 L448.98 283.23 L448.82 283.58 L448.65 283.92 L448.48 284.27 L448.29 284.61 L448.11 284.96 L447.91 285.30 L447.82 285.64 L447.82 285.99 L447.82 286.33 L447.82 286.68 L447.82 287.02 L447.82 287.37 L447.82 287.71 L447.82 288.06 L447.82 288.40 L447.82 288.74 L447.82 289.09 L447.82 289.43 L447.82 289.78 L447.82 290.12 L447.82 290.47 L447.82 290.81 L447.82 291.16 L447.82 291.50 L447.82 291.84 L447.82 292.19 L447.85 292.53 L448.12 292.88 L448.40 293.22 L448.67 293.57 L448.95 293.91 L449.22 294.26 L449.50 294.60 L445.50 294.60 L445.78 294.26 L446.05 293.91 L446.33 293.57 L446.60 293.22 L446.88 292.88 L447.15 292.53 L447.18 292.19 L447.18 291.84 L447.18 291.50 L447.18 291.16 L447.18 290.81 L447.18 290.47 L447.18 290.12 L447.18 289.78 L447.18 289.43 L447.18 289.09 L447.18 288.74 L447.18 288.40 L447.18 288.06 L447.18 287.71 L447.18 287.37 L447.18 287.02 L447.18 286.68 L447.18 286.33 L447.18 285.99 L447.18 285.64 L447.09 285.30 L446.89 284.96 L446.71 284.61 L446.52 284.27 L446.35 283.92 L446.18 283.58 L446.02 283.23 L445.86 282.89 L445.71 282.54 L445.57 282.20 L445.43 281.86 L445.30 281.51 L445.18 281.17 L445.06 280.82 L444.95 280.48 L444.84 280.13 L444.74 279.79 L444.65 279.44 L444.56 279.10 L444.48 278.76 L444.40 278.41 L444.34 278.07 L444.27 277.72 L444.22 277.38 L444.17 277.03 L444.13 276.69 L444.09 276.34 L444.06 276.00 L444.04 275.66 L444.02 275.31 L444.01 274.97 L444.00 274.62 L444.00 274.28 L444.01 273.93 L444.03 273.59 L444.06 273.24 L444.10 272.90 L444.15 272.56 L444.20 272.21 L444.27 271.87 L444.34 271.52 L444.43 271.18 L444.52 270.83 L444.62 270.49 L444.74 270.14 L444.86 269.80 L444.99 269.46 L445.13 269.11 L445.27 268.77 L445.43 268.42 L445.60 268.08 L445.78 267.73 L445.96 267.39 L446.16 267.04 L446.36 266.70 L446.57 266.36 L446.79 266.01 L447.03 265.67 L447.18 265.32 L447.21 264.98 L447.28 264.63 L447.35 264.29 L447.43 263.94 L447.50 263.60Z" fill="#3D9A95" stroke="#222" stroke-width="0.65" stroke-linejoin="round"/>
<path d="M456.60 262.00 L457.07 262.36 L457.49 262.72 L457.88 263.09 L458.22 263.45 L458.53 263.81 L458.81 264.17 L459.05 264.54 L459.27 264.90 L459.45 265.26 L459.61 265.62 L459.74 265.98 L459.86 266.35 L459.95 266.71 L460.02 267.07 L460.08 267.43 L460.12 267.80 L460.16 268.16 L460.18 268.52 L460.19 268.88 L460.20 269.24 L460.20 269.61 L460.20 269.97 L460.20 270.33 L460.19 270.69 L460.19 271.06 L460.17 271.42 L460.16 271.78 L460.14 272.14 L460.12 272.50 L460.10 272.87 L460.07 273.23 L460.04 273.59 L460.01 273.95 L459.97 274.32 L459.93 274.68 L459.88 275.04 L459.84 275.40 L459.79 275.76 L459.73 276.13 L459.68 276.49 L459.62 276.85 L459.55 277.21 L459.49 277.58 L459.42 277.94 L459.34 278.30 L459.27 278.66 L459.19 279.02 L459.10 279.39 L459.02 279.75 L458.93 280.11 L458.83 280.47 L458.74 280.84 L458.64 281.20 L458.54 281.56 L458.43 281.92 L458.32 282.28 L458.21 282.65 L458.09 283.01 L457.97 283.37 L457.85 283.73 L457.73 284.10 L457.60 284.46 L457.46 284.82 L457.33 285.18 L457.19 285.54 L457.05 285.91 L456.92 286.27 L456.92 286.63 L456.92 286.99 L456.92 287.36 L456.92 287.72 L456.93 288.08 L457.01 288.44 L457.10 288.80 L457.19 289.17 L457.29 289.53 L457.39 289.89 L457.50 290.25 L457.62 290.62 L457.74 290.98 L457.87 291.34 L458.00 291.70 L458.13 292.06 L458.27 292.43 L458.41 292.79 L458.56 293.15 L458.72 293.51 L458.87 293.88 L459.03 294.24 L459.20 294.60 L454.00 294.60 L454.17 294.24 L454.33 293.88 L454.48 293.51 L454.64 293.15 L454.79 292.79 L454.93 292.43 L455.07 292.06 L455.20 291.70 L455.33 291.34 L455.46 290.98 L455.58 290.62 L455.70 290.25 L455.81 289.89 L455.91 289.53 L456.01 289.17 L456.10 288.80 L456.19 288.44 L456.27 288.08 L456.28 287.72 L456.28 287.36 L456.28 286.99 L456.28 286.63 L456.28 286.27 L456.15 285.91 L456.01 285.54 L455.87 285.18 L455.74 284.82 L455.60 284.46 L455.47 284.10 L455.35 283.73 L455.23 283.37 L455.11 283.01 L454.99 282.65 L454.88 282.28 L454.77 281.92 L454.66 281.56 L454.56 281.20 L454.46 280.84 L454.37 280.47 L454.27 280.11 L454.18 279.75 L454.10 279.39 L454.01 279.02 L453.93 278.66 L453.86 278.30 L453.78 277.94 L453.71 277.58 L453.65 277.21 L453.58 276.85 L453.52 276.49 L453.47 276.13 L453.41 275.76 L453.36 275.40 L453.32 275.04 L453.27 274.68 L453.23 274.32 L453.19 273.95 L453.16 273.59 L453.13 273.23 L453.10 272.87 L453.08 272.50 L453.06 272.14 L453.04 271.78 L453.03 271.42 L453.01 271.06 L453.01 270.69 L453.00 270.33 L453.00 269.97 L453.00 269.61 L453.00 269.24 L453.01 268.88 L453.02 268.52 L453.04 268.16 L453.08 267.80 L453.12 267.43 L453.18 267.07 L453.25 266.71 L453.34 266.35 L453.46 265.98 L453.59 265.62 L453.75 265.26 L453.93 264.90 L454.15 264.54 L454.39 264.17 L454.67 263.81 L454.98 263.45 L455.32 263.09 L455.71 262.72 L456.13 262.36 L456.60 262.00Z" fill="#E8716B" stroke="#222" stroke-width="0.65" stroke-linejoin="round"/>
<path d="M464.10 259.90 L464.18 260.29 L464.26 260.67 L464.35 261.06 L464.42 261.44 L464.42 261.83 L464.42 262.21 L464.42 262.60 L464.42 262.98 L464.60 263.37 L464.84 263.76 L465.06 264.14 L465.28 264.53 L465.49 264.91 L465.69 265.30 L465.88 265.68 L466.07 266.07 L466.24 266.45 L466.40 266.84 L466.56 267.23 L466.70 267.61 L466.84 268.00 L466.97 268.38 L467.09 268.77 L467.20 269.15 L467.30 269.54 L467.39 269.92 L467.47 270.31 L467.54 270.70 L467.61 271.08 L467.66 271.47 L467.71 271.85 L467.74 272.24 L467.77 272.62 L467.79 273.01 L467.80 273.39 L467.80 273.78 L467.79 274.17 L467.78 274.55 L467.75 274.94 L467.72 275.32 L467.69 275.71 L467.64 276.09 L467.59 276.48 L467.53 276.86 L467.46 277.25 L467.38 277.64 L467.30 278.02 L467.21 278.41 L467.11 278.79 L467.00 279.18 L466.89 279.56 L466.76 279.95 L466.63 280.33 L466.50 280.72 L466.35 281.11 L466.20 281.49 L466.04 281.88 L465.87 282.26 L465.70 282.65 L465.51 283.03 L465.32 283.42 L465.12 283.80 L464.92 284.19 L464.70 284.58 L464.48 284.96 L464.42 285.35 L464.42 285.73 L464.42 286.12 L464.42 286.50 L464.42 286.89 L464.42 287.27 L464.42 287.66 L464.42 288.05 L464.55 288.43 L464.76 288.82 L464.97 289.20 L465.18 289.59 L465.39 289.97 L465.60 290.36 L465.81 290.74 L466.02 291.13 L466.23 291.52 L466.43 291.90 L466.64 292.29 L466.85 292.67 L467.06 293.06 L467.27 293.44 L467.48 293.83 L467.69 294.21 L467.90 294.60 L460.30 294.60 L460.51 294.21 L460.72 293.83 L460.93 293.44 L461.14 293.06 L461.35 292.67 L461.56 292.29 L461.77 291.90 L461.97 291.52 L462.18 291.13 L462.39 290.74 L462.60 290.36 L462.81 289.97 L463.02 289.59 L463.23 289.20 L463.44 288.82 L463.65 288.43 L463.78 288.05 L463.78 287.66 L463.78 287.27 L463.78 286.89 L463.78 286.50 L463.78 286.12 L463.78 285.73 L463.78 285.35 L463.72 284.96 L463.50 284.58 L463.28 284.19 L463.08 283.80 L462.88 283.42 L462.69 283.03 L462.50 282.65 L462.33 282.26 L462.16 281.88 L462.00 281.49 L461.85 281.11 L461.70 280.72 L461.57 280.33 L461.44 279.95 L461.31 279.56 L461.20 279.18 L461.09 278.79 L460.99 278.41 L460.90 278.02 L460.82 277.64 L460.74 277.25 L460.67 276.86 L460.61 276.48 L460.56 276.09 L460.51 275.71 L460.48 275.32 L460.45 274.94 L460.42 274.55 L460.41 274.17 L460.40 273.78 L460.40 273.39 L460.41 273.01 L460.43 272.62 L460.46 272.24 L460.49 271.85 L460.54 271.47 L460.59 271.08 L460.66 270.70 L460.73 270.31 L460.81 269.92 L460.90 269.54 L461.00 269.15 L461.11 268.77 L461.23 268.38 L461.36 268.00 L461.50 267.61 L461.64 267.23 L461.80 266.84 L461.96 266.45 L462.13 266.07 L462.32 265.68 L462.51 265.30 L462.71 264.91 L462.92 264.53 L463.14 264.14 L463.36 263.76 L463.60 263.37 L463.78 262.98 L463.78 262.60 L463.78 262.21 L463.78 261.83 L463.78 261.44 L463.85 261.06 L463.94 260.67 L464.02 260.29 L464.10 259.90Z" fill="#3D9A95" stroke="#222" stroke-width="0.65" stroke-linejoin="round"/>
<path d="M473.20 258.90 L473.28 259.30 L473.37 259.69 L473.45 260.09 L473.53 260.49 L473.85 260.88 L474.16 261.28 L474.44 261.68 L474.71 262.07 L474.97 262.47 L475.20 262.87 L475.42 263.26 L475.62 263.66 L475.81 264.06 L475.97 264.45 L476.12 264.85 L476.25 265.25 L476.37 265.64 L476.47 266.04 L476.55 266.44 L476.61 266.83 L476.66 267.23 L476.69 267.63 L476.70 268.02 L476.70 268.42 L476.68 268.82 L476.64 269.21 L476.59 269.61 L476.52 270.01 L476.44 270.40 L476.35 270.80 L476.24 271.20 L476.11 271.59 L475.97 271.99 L475.81 272.39 L475.64 272.78 L475.45 273.18 L475.25 273.58 L475.03 273.97 L474.80 274.37 L474.55 274.77 L474.28 275.16 L474.00 275.56 L473.71 275.96 L473.52 276.35 L473.52 276.75 L473.52 277.15 L473.52 277.54 L473.52 277.94 L473.52 278.34 L473.52 278.73 L473.52 279.13 L473.52 279.53 L473.52 279.92 L473.52 280.32 L473.52 280.72 L473.52 281.11 L473.52 281.51 L473.52 281.91 L473.52 282.30 L473.52 282.70 L473.52 283.10 L473.52 283.49 L473.52 283.89 L473.52 284.29 L473.52 284.68 L473.52 285.08 L473.52 285.48 L473.52 285.87 L473.52 286.27 L473.52 286.67 L473.52 287.06 L473.52 287.46 L473.52 287.86 L473.52 288.25 L473.52 288.65 L473.52 289.05 L473.52 289.44 L473.52 289.84 L473.52 290.24 L473.52 290.63 L473.52 291.03 L473.52 291.43 L473.52 291.82 L473.52 292.22 L473.52 292.62 L473.52 293.01 L473.69 293.41 L473.87 293.81 L473.87 294.20 L473.69 294.60 L472.71 294.60 L472.53 294.20 L472.53 293.81 L472.71 293.41 L472.88 293.01 L472.88 292.62 L472.88 292.22 L472.88 291.82 L472.88 291.43 L472.88 291.03 L472.88 290.63 L472.88 290.24 L472.88 289.84 L472.88 289.44 L472.88 289.05 L472.88 288.65 L472.88 288.25 L472.88 287.86 L472.88 287.46 L472.88 287.06 L472.88 286.67 L472.88 286.27 L472.88 285.87 L472.88 285.48 L472.88 285.08 L472.88 284.68 L472.88 284.29 L472.88 283.89 L472.88 283.49 L472.88 283.10 L472.88 282.70 L472.88 282.30 L472.88 281.91 L472.88 281.51 L472.88 281.11 L472.88 280.72 L472.88 280.32 L472.88 279.92 L472.88 279.53 L472.88 279.13 L472.88 278.73 L472.88 278.34 L472.88 277.94 L472.88 277.54 L472.88 277.15 L472.88 276.75 L472.88 276.35 L472.69 275.96 L472.40 275.56 L472.12 275.16 L471.85 274.77 L471.60 274.37 L471.37 273.97 L471.15 273.58 L470.95 273.18 L470.76 272.78 L470.59 272.39 L470.43 271.99 L470.29 271.59 L470.16 271.20 L470.05 270.80 L469.96 270.40 L469.88 270.01 L469.81 269.61 L469.76 269.21 L469.72 268.82 L469.70 268.42 L469.70 268.02 L469.71 267.63 L469.74 267.23 L469.79 266.83 L469.85 266.44 L469.93 266.04 L470.03 265.64 L470.15 265.25 L470.28 264.85 L470.43 264.45 L470.59 264.06 L470.78 263.66 L470.98 263.26 L471.20 262.87 L471.43 262.47 L471.69 262.07 L471.96 261.68 L472.24 261.28 L472.55 260.88 L472.87 260.49 L472.95 260.09 L473.03 259.69 L473.12 259.30 L473.20 258.90Z" fill="#E8716B" stroke="#222" stroke-width="0.65" stroke-linejoin="round"/>
<path d="M480.70 258.60 L480.79 259.00 L480.87 259.40 L480.96 259.80 L481.02 260.20 L481.02 260.60 L481.21 261.00 L481.49 261.40 L481.75 261.80 L482.01 262.20 L482.25 262.60 L482.47 263.00 L482.69 263.40 L482.89 263.80 L483.09 264.20 L483.27 264.60 L483.43 265.00 L483.59 265.40 L483.73 265.80 L483.86 266.20 L483.98 266.60 L484.09 267.00 L484.18 267.40 L484.26 267.80 L484.33 268.20 L484.39 268.60 L484.44 269.00 L484.47 269.40 L484.49 269.80 L484.50 270.20 L484.50 270.60 L484.49 271.00 L484.47 271.40 L484.44 271.80 L484.40 272.20 L484.36 272.60 L484.31 273.00 L484.25 273.40 L484.18 273.80 L484.10 274.20 L484.01 274.60 L483.92 275.00 L483.81 275.40 L483.70 275.80 L483.58 276.20 L483.45 276.60 L483.32 277.00 L483.17 277.40 L483.02 277.80 L482.85 278.20 L482.68 278.60 L482.50 279.00 L482.31 279.40 L482.12 279.80 L481.91 280.20 L481.70 280.60 L481.48 281.00 L481.25 281.40 L481.02 281.80 L481.02 282.20 L481.02 282.60 L481.02 283.00 L481.02 283.40 L481.02 283.80 L481.02 284.20 L481.02 284.60 L481.02 285.00 L481.02 285.40 L481.02 285.80 L481.02 286.20 L481.02 286.60 L481.02 287.00 L481.02 287.40 L481.02 287.80 L481.02 288.20 L481.02 288.60 L481.02 289.00 L481.02 289.40 L481.02 289.80 L481.02 290.20 L481.10 290.60 L481.42 291.00 L481.74 291.40 L482.06 291.80 L482.38 292.20 L482.70 292.60 L483.02 293.00 L483.34 293.40 L483.66 293.80 L483.98 294.20 L484.30 294.60 L477.10 294.60 L477.42 294.20 L477.74 293.80 L478.06 293.40 L478.38 293.00 L478.70 292.60 L479.02 292.20 L479.34 291.80 L479.66 291.40 L479.98 291.00 L480.30 290.60 L480.38 290.20 L480.38 289.80 L480.38 289.40 L480.38 289.00 L480.38 288.60 L480.38 288.20 L480.38 287.80 L480.38 287.40 L480.38 287.00 L480.38 286.60 L480.38 286.20 L480.38 285.80 L480.38 285.40 L480.38 285.00 L480.38 284.60 L480.38 284.20 L480.38 283.80 L480.38 283.40 L480.38 283.00 L480.38 282.60 L480.38 282.20 L480.38 281.80 L480.15 281.40 L479.92 281.00 L479.70 280.60 L479.49 280.20 L479.28 279.80 L479.09 279.40 L478.90 279.00 L478.72 278.60 L478.55 278.20 L478.38 277.80 L478.23 277.40 L478.08 277.00 L477.95 276.60 L477.82 276.20 L477.70 275.80 L477.59 275.40 L477.48 275.00 L477.39 274.60 L477.30 274.20 L477.22 273.80 L477.15 273.40 L477.09 273.00 L477.04 272.60 L477.00 272.20 L476.96 271.80 L476.93 271.40 L476.91 271.00 L476.90 270.60 L476.90 270.20 L476.91 269.80 L476.93 269.40 L476.96 269.00 L477.01 268.60 L477.07 268.20 L477.14 267.80 L477.22 267.40 L477.31 267.00 L477.42 266.60 L477.54 266.20 L477.67 265.80 L477.81 265.40 L477.97 265.00 L478.13 264.60 L478.31 264.20 L478.51 263.80 L478.71 263.40 L478.93 263.00 L479.15 262.60 L479.39 262.20 L479.65 261.80 L479.91 261.40 L480.19 261.00 L480.38 260.60 L480.38 260.20 L480.44 259.80 L480.53 259.40 L480.61 259.00 L480.70 258.60Z" fill="#3D9A95" stroke="#222" stroke-width="0.65" stroke-linejoin="round"/>
<line x1="489.80" y1="294.60" x2="489.80" y2="273.00" stroke="#3a3a3a" stroke-width="0.75"/>
<line x1="497.30" y1="294.60" x2="497.30" y2="267.00" stroke="#9a9a9a" stroke-width="0.75"/>
<line x1="506.40" y1="294.60" x2="506.40" y2="280.40" stroke="#3a3a3a" stroke-width="0.75"/>
<line x1="513.90" y1="294.60" x2="513.90" y2="272.00" stroke="#3a3a3a" stroke-width="0.75"/>
<line x1="523.00" y1="294.60" x2="523.00" y2="285.00" stroke="#9a9a9a" stroke-width="0.75"/>
<line x1="530.50" y1="294.60" x2="530.50" y2="273.70" stroke="#3a3a3a" stroke-width="0.75"/>
<line x1="539.60" y1="294.60" x2="539.60" y2="276.00" stroke="#3a3a3a" stroke-width="0.75"/>
<line x1="547.10" y1="294.60" x2="547.10" y2="273.00" stroke="#9a9a9a" stroke-width="0.75"/>
<path d="M556.20 259.80 L556.38 260.19 L556.73 260.57 L557.06 260.96 L557.37 261.35 L557.67 261.73 L557.95 262.12 L558.21 262.51 L558.45 262.89 L558.68 263.28 L558.89 263.67 L559.08 264.05 L559.25 264.44 L559.40 264.83 L559.54 265.21 L559.66 265.60 L559.76 265.99 L559.84 266.37 L559.91 266.76 L559.96 267.15 L559.99 267.53 L560.00 267.92 L560.00 268.31 L559.98 268.69 L559.94 269.08 L559.89 269.47 L559.83 269.85 L559.75 270.24 L559.66 270.63 L559.55 271.01 L559.43 271.40 L559.30 271.79 L559.15 272.17 L558.98 272.56 L558.80 272.95 L558.60 273.33 L558.39 273.72 L558.17 274.11 L557.93 274.49 L557.68 274.88 L557.41 275.27 L557.13 275.65 L556.83 276.04 L556.52 276.43 L556.52 276.81 L556.52 277.20 L556.52 277.59 L556.52 277.97 L556.52 278.36 L556.52 278.75 L556.52 279.13 L556.52 279.52 L556.52 279.91 L556.52 280.29 L556.52 280.68 L556.52 281.07 L556.52 281.45 L556.52 281.84 L556.52 282.23 L556.52 282.61 L556.52 283.00 L556.52 283.39 L556.52 283.77 L556.52 284.16 L556.52 284.55 L556.52 284.93 L556.52 285.32 L556.52 285.71 L556.52 286.09 L556.52 286.48 L556.52 286.87 L556.52 287.25 L556.52 287.64 L556.52 288.03 L556.52 288.41 L556.52 288.80 L556.52 289.19 L556.52 289.57 L556.52 289.96 L556.52 290.35 L556.52 290.73 L556.52 291.12 L556.52 291.51 L556.52 291.89 L556.52 292.28 L556.52 292.67 L556.52 293.05 L556.52 293.44 L556.52 293.83 L556.52 294.21 L556.52 294.60 L555.88 294.60 L555.88 294.21 L555.88 293.83 L555.88 293.44 L555.88 293.05 L555.88 292.67 L555.88 292.28 L555.88 291.89 L555.88 291.51 L555.88 291.12 L555.88 290.73 L555.88 290.35 L555.88 289.96 L555.88 289.57 L555.88 289.19 L555.88 288.80 L555.88 288.41 L555.88 288.03 L555.88 287.64 L555.88 287.25 L555.88 286.87 L555.88 286.48 L555.88 286.09 L555.88 285.71 L555.88 285.32 L555.88 284.93 L555.88 284.55 L555.88 284.16 L555.88 283.77 L555.88 283.39 L555.88 283.00 L555.88 282.61 L555.88 282.23 L555.88 281.84 L555.88 281.45 L555.88 281.07 L555.88 280.68 L555.88 280.29 L555.88 279.91 L555.88 279.52 L555.88 279.13 L555.88 278.75 L555.88 278.36 L555.88 277.97 L555.88 277.59 L555.88 277.20 L555.88 276.81 L555.88 276.43 L555.57 276.04 L555.27 275.65 L554.99 275.27 L554.72 274.88 L554.47 274.49 L554.23 274.11 L554.01 273.72 L553.80 273.33 L553.60 272.95 L553.42 272.56 L553.25 272.17 L553.10 271.79 L552.97 271.40 L552.85 271.01 L552.74 270.63 L552.65 270.24 L552.57 269.85 L552.51 269.47 L552.46 269.08 L552.42 268.69 L552.40 268.31 L552.40 267.92 L552.41 267.53 L552.44 267.15 L552.49 266.76 L552.56 266.37 L552.64 265.99 L552.74 265.60 L552.86 265.21 L553.00 264.83 L553.15 264.44 L553.32 264.05 L553.51 263.67 L553.72 263.28 L553.95 262.89 L554.19 262.51 L554.45 262.12 L554.73 261.73 L555.03 261.35 L555.34 260.96 L555.67 260.57 L556.02 260.19 L556.20 259.80Z" fill="#E8716B" stroke="#222" stroke-width="0.65" stroke-linejoin="round"/>
<path d="M563.70 259.10 L563.78 259.49 L563.87 259.89 L563.95 260.28 L564.05 260.68 L564.33 261.07 L564.60 261.47 L564.86 261.86 L565.10 262.26 L565.33 262.65 L565.55 263.04 L565.76 263.44 L565.96 263.83 L566.14 264.23 L566.32 264.62 L566.48 265.02 L566.63 265.41 L566.77 265.81 L566.89 266.20 L567.01 266.59 L567.11 266.99 L567.20 267.38 L567.28 267.78 L567.34 268.17 L567.40 268.57 L567.44 268.96 L567.47 269.36 L567.49 269.75 L567.50 270.14 L567.49 270.54 L567.47 270.93 L567.44 271.33 L567.39 271.72 L567.32 272.12 L567.24 272.51 L567.14 272.91 L567.03 273.30 L566.90 273.69 L566.76 274.09 L566.60 274.48 L566.43 274.88 L566.24 275.27 L566.03 275.67 L565.81 276.06 L565.58 276.46 L565.33 276.85 L565.06 277.24 L564.78 277.64 L564.49 278.03 L564.18 278.43 L564.02 278.82 L564.02 279.22 L564.02 279.61 L564.02 280.01 L564.02 280.40 L564.02 280.79 L564.02 281.19 L564.02 281.58 L564.02 281.98 L564.02 282.37 L564.02 282.77 L564.02 283.16 L564.02 283.56 L564.02 283.95 L564.02 284.34 L564.02 284.74 L564.02 285.13 L564.02 285.53 L564.02 285.92 L564.02 286.32 L564.02 286.71 L564.02 287.11 L564.02 287.50 L564.02 287.89 L564.02 288.29 L564.02 288.68 L564.02 289.08 L564.02 289.47 L564.02 289.87 L564.02 290.26 L564.02 290.66 L564.02 291.05 L564.02 291.44 L564.02 291.84 L564.02 292.23 L564.02 292.63 L564.02 293.02 L564.02 293.42 L564.02 293.81 L564.02 294.21 L564.02 294.60 L563.38 294.60 L563.38 294.21 L563.38 293.81 L563.38 293.42 L563.38 293.02 L563.38 292.63 L563.38 292.23 L563.38 291.84 L563.38 291.44 L563.38 291.05 L563.38 290.66 L563.38 290.26 L563.38 289.87 L563.38 289.47 L563.38 289.08 L563.38 288.68 L563.38 288.29 L563.38 287.89 L563.38 287.50 L563.38 287.11 L563.38 286.71 L563.38 286.32 L563.38 285.92 L563.38 285.53 L563.38 285.13 L563.38 284.74 L563.38 284.34 L563.38 283.95 L563.38 283.56 L563.38 283.16 L563.38 282.77 L563.38 282.37 L563.38 281.98 L563.38 281.58 L563.38 281.19 L563.38 280.79 L563.38 280.40 L563.38 280.01 L563.38 279.61 L563.38 279.22 L563.38 278.82 L563.22 278.43 L562.91 278.03 L562.62 277.64 L562.34 277.24 L562.07 276.85 L561.82 276.46 L561.59 276.06 L561.37 275.67 L561.16 275.27 L560.97 274.88 L560.80 274.48 L560.64 274.09 L560.50 273.69 L560.37 273.30 L560.26 272.91 L560.16 272.51 L560.08 272.12 L560.01 271.72 L559.96 271.33 L559.93 270.93 L559.91 270.54 L559.90 270.14 L559.91 269.75 L559.93 269.36 L559.96 268.96 L560.00 268.57 L560.06 268.17 L560.12 267.78 L560.20 267.38 L560.29 266.99 L560.39 266.59 L560.51 266.20 L560.63 265.81 L560.77 265.41 L560.92 265.02 L561.08 264.62 L561.26 264.23 L561.44 263.83 L561.64 263.44 L561.85 263.04 L562.07 262.65 L562.30 262.26 L562.54 261.86 L562.80 261.47 L563.07 261.07 L563.35 260.68 L563.45 260.28 L563.53 259.89 L563.62 259.49 L563.70 259.10Z" fill="#3D9A95" stroke="#222" stroke-width="0.65" stroke-linejoin="round"/>
<line x1="572.80" y1="294.60" x2="572.80" y2="268.90" stroke="#3a3a3a" stroke-width="0.75"/>
<line x1="580.30" y1="294.60" x2="580.30" y2="258.40" stroke="#9a9a9a" stroke-width="0.75"/>
<path d="M589.40 266.50 L590.01 266.81 L590.55 267.12 L591.03 267.44 L591.45 267.75 L591.80 268.06 L592.11 268.37 L592.37 268.69 L592.58 269.00 L592.76 269.31 L592.89 269.62 L593.00 269.93 L593.08 270.25 L593.13 270.56 L593.17 270.87 L593.19 271.18 L593.20 271.50 L593.20 271.81 L593.20 272.12 L593.20 272.43 L593.19 272.74 L593.18 273.06 L593.17 273.37 L593.15 273.68 L593.13 273.99 L593.10 274.31 L593.08 274.62 L593.04 274.93 L593.01 275.24 L592.97 275.55 L592.93 275.87 L592.88 276.18 L592.84 276.49 L592.78 276.80 L592.73 277.12 L592.67 277.43 L592.60 277.74 L592.54 278.05 L592.47 278.36 L592.39 278.68 L592.32 278.99 L592.24 279.30 L592.15 279.61 L592.06 279.93 L591.97 280.24 L591.88 280.55 L591.78 280.86 L591.68 281.17 L591.57 281.49 L591.46 281.80 L591.35 282.11 L591.24 282.42 L591.12 282.74 L590.99 283.05 L590.87 283.36 L590.74 283.67 L590.60 283.98 L590.47 284.30 L590.33 284.61 L590.18 284.92 L590.03 285.23 L589.88 285.55 L589.73 285.86 L589.72 286.17 L589.72 286.48 L589.72 286.79 L589.72 287.11 L589.72 287.42 L589.72 287.73 L589.72 288.04 L589.72 288.36 L589.72 288.67 L589.72 288.98 L589.72 289.29 L589.72 289.60 L589.72 289.92 L589.72 290.23 L589.72 290.54 L589.72 290.85 L589.72 291.17 L589.79 291.48 L589.94 291.79 L590.08 292.10 L590.22 292.41 L590.36 292.73 L590.50 293.04 L590.64 293.35 L590.78 293.66 L590.92 293.98 L591.06 294.29 L591.20 294.60 L587.60 294.60 L587.74 294.29 L587.88 293.98 L588.02 293.66 L588.16 293.35 L588.30 293.04 L588.44 292.73 L588.58 292.41 L588.72 292.10 L588.86 291.79 L589.00 291.48 L589.08 291.17 L589.08 290.85 L589.08 290.54 L589.08 290.23 L589.08 289.92 L589.08 289.60 L589.08 289.29 L589.08 288.98 L589.08 288.67 L589.08 288.36 L589.08 288.04 L589.08 287.73 L589.08 287.42 L589.08 287.11 L589.08 286.79 L589.08 286.48 L589.08 286.17 L589.07 285.86 L588.92 285.55 L588.77 285.23 L588.62 284.92 L588.47 284.61 L588.33 284.30 L588.20 283.98 L588.06 283.67 L587.93 283.36 L587.81 283.05 L587.68 282.74 L587.56 282.42 L587.45 282.11 L587.34 281.80 L587.23 281.49 L587.12 281.17 L587.02 280.86 L586.92 280.55 L586.83 280.24 L586.74 279.93 L586.65 279.61 L586.56 279.30 L586.48 278.99 L586.41 278.68 L586.33 278.36 L586.26 278.05 L586.20 277.74 L586.13 277.43 L586.07 277.12 L586.02 276.80 L585.96 276.49 L585.92 276.18 L585.87 275.87 L585.83 275.55 L585.79 275.24 L585.76 274.93 L585.72 274.62 L585.70 274.31 L585.67 273.99 L585.65 273.68 L585.63 273.37 L585.62 273.06 L585.61 272.74 L585.60 272.43 L585.60 272.12 L585.60 271.81 L585.60 271.50 L585.61 271.18 L585.63 270.87 L585.67 270.56 L585.72 270.25 L585.80 269.93 L585.91 269.62 L586.04 269.31 L586.22 269.00 L586.43 268.69 L586.69 268.37 L587.00 268.06 L587.35 267.75 L587.77 267.44 L588.25 267.12 L588.79 266.81 L589.40 266.50Z" fill="#E8716B" stroke="#222" stroke-width="0.65" stroke-linejoin="round"/>
<path d="M596.90 262.70 L596.98 263.05 L597.05 263.41 L597.13 263.76 L597.20 264.12 L597.22 264.47 L597.22 264.83 L597.41 265.18 L597.67 265.54 L597.91 265.89 L598.14 266.24 L598.37 266.60 L598.58 266.95 L598.78 267.31 L598.98 267.66 L599.16 268.02 L599.34 268.37 L599.50 268.73 L599.65 269.08 L599.80 269.43 L599.93 269.79 L600.06 270.14 L600.18 270.50 L600.28 270.85 L600.38 271.21 L600.46 271.56 L600.54 271.92 L600.61 272.27 L600.66 272.62 L600.71 272.98 L600.75 273.33 L600.77 273.69 L600.79 274.04 L600.80 274.40 L600.80 274.75 L600.79 275.11 L600.77 275.46 L600.74 275.81 L600.71 276.17 L600.67 276.52 L600.62 276.88 L600.56 277.23 L600.49 277.59 L600.42 277.94 L600.34 278.30 L600.24 278.65 L600.15 279.00 L600.04 279.36 L599.92 279.71 L599.80 280.07 L599.67 280.42 L599.53 280.78 L599.38 281.13 L599.23 281.49 L599.06 281.84 L598.89 282.19 L598.71 282.55 L598.52 282.90 L598.33 283.26 L598.12 283.61 L597.91 283.97 L597.69 284.32 L597.46 284.68 L597.23 285.03 L597.22 285.38 L597.22 285.74 L597.22 286.09 L597.22 286.45 L597.22 286.80 L597.22 287.16 L597.22 287.51 L597.22 287.87 L597.22 288.22 L597.22 288.57 L597.22 288.93 L597.22 289.28 L597.22 289.64 L597.40 289.99 L597.65 290.35 L597.90 290.70 L598.16 291.06 L598.41 291.41 L598.67 291.76 L598.92 292.12 L599.18 292.47 L599.43 292.83 L599.68 293.18 L599.94 293.54 L600.19 293.89 L600.45 294.25 L600.70 294.60 L593.10 294.60 L593.35 294.25 L593.61 293.89 L593.86 293.54 L594.12 293.18 L594.37 292.83 L594.62 292.47 L594.88 292.12 L595.13 291.76 L595.39 291.41 L595.64 291.06 L595.90 290.70 L596.15 290.35 L596.40 289.99 L596.58 289.64 L596.58 289.28 L596.58 288.93 L596.58 288.57 L596.58 288.22 L596.58 287.87 L596.58 287.51 L596.58 287.16 L596.58 286.80 L596.58 286.45 L596.58 286.09 L596.58 285.74 L596.58 285.38 L596.57 285.03 L596.34 284.68 L596.11 284.32 L595.89 283.97 L595.68 283.61 L595.47 283.26 L595.28 282.90 L595.09 282.55 L594.91 282.19 L594.74 281.84 L594.57 281.49 L594.42 281.13 L594.27 280.78 L594.13 280.42 L594.00 280.07 L593.88 279.71 L593.76 279.36 L593.65 279.00 L593.56 278.65 L593.46 278.30 L593.38 277.94 L593.31 277.59 L593.24 277.23 L593.18 276.88 L593.13 276.52 L593.09 276.17 L593.06 275.81 L593.03 275.46 L593.01 275.11 L593.00 274.75 L593.00 274.40 L593.01 274.04 L593.03 273.69 L593.05 273.33 L593.09 272.98 L593.14 272.62 L593.19 272.27 L593.26 271.92 L593.34 271.56 L593.42 271.21 L593.52 270.85 L593.62 270.50 L593.74 270.14 L593.87 269.79 L594.00 269.43 L594.15 269.08 L594.30 268.73 L594.46 268.37 L594.64 268.02 L594.82 267.66 L595.02 267.31 L595.22 266.95 L595.43 266.60 L595.66 266.24 L595.89 265.89 L596.13 265.54 L596.39 265.18 L596.58 264.83 L596.58 264.47 L596.60 264.12 L596.67 263.76 L596.75 263.41 L596.82 263.05 L596.90 262.70Z" fill="#3D9A95" stroke="#222" stroke-width="0.65" stroke-linejoin="round"/>
<line x1="606.00" y1="294.60" x2="606.00" y2="274.60" stroke="#9a9a9a" stroke-width="0.75"/>
<line x1="613.50" y1="294.60" x2="613.50" y2="270.20" stroke="#3a3a3a" stroke-width="0.75"/>
<line x1="622.60" y1="294.60" x2="622.60" y2="272.20" stroke="#3a3a3a" stroke-width="0.75"/>
<line x1="630.10" y1="294.60" x2="630.10" y2="263.60" stroke="#9a9a9a" stroke-width="0.75"/>
<line x1="433.50" y1="254.40" x2="433.50" y2="296.20" stroke="#262626" stroke-width="0.85"/>
<line x1="433.50" y1="296.20" x2="636.80" y2="296.20" stroke="#262626" stroke-width="0.9"/>
<line x1="430.50" y1="256.40" x2="433.50" y2="256.40" stroke="#333" stroke-width="0.6"/>
<text x="427.60" y="256.40" font-size="4.8" text-anchor="end" fill="#333" dy="0.35em">5</text>
<text x="410.60" y="257.20" font-size="7.2" text-anchor="middle" fill="#111" dy="0.35em">PARD3</text>
<line x1="435.95" y1="338.80" x2="451.55" y2="338.80" stroke="#A8A8A8" stroke-width="0.9"/>
<line x1="452.55" y1="338.80" x2="468.15" y2="338.80" stroke="#A8A8A8" stroke-width="0.9"/>
<line x1="469.15" y1="338.80" x2="484.75" y2="338.80" stroke="#A8A8A8" stroke-width="0.9"/>
<line x1="485.75" y1="338.80" x2="501.35" y2="338.80" stroke="#A8A8A8" stroke-width="0.9"/>
<line x1="502.35" y1="338.80" x2="517.95" y2="338.80" stroke="#A8A8A8" stroke-width="0.9"/>
<line x1="518.95" y1="338.80" x2="534.55" y2="338.80" stroke="#A8A8A8" stroke-width="0.9"/>
<line x1="535.55" y1="338.80" x2="551.15" y2="338.80" stroke="#A8A8A8" stroke-width="0.9"/>
<line x1="552.15" y1="338.80" x2="567.75" y2="338.80" stroke="#A8A8A8" stroke-width="0.9"/>
<line x1="568.75" y1="338.80" x2="584.35" y2="338.80" stroke="#A8A8A8" stroke-width="0.9"/>
<line x1="585.35" y1="338.80" x2="600.95" y2="338.80" stroke="#A8A8A8" stroke-width="0.9"/>
<line x1="601.95" y1="338.80" x2="617.55" y2="338.80" stroke="#A8A8A8" stroke-width="0.9"/>
<line x1="618.55" y1="338.80" x2="634.15" y2="338.80" stroke="#A8A8A8" stroke-width="0.9"/>
<line x1="440.00" y1="338.80" x2="440.00" y2="316.90" stroke="#3a3a3a" stroke-width="0.75"/>
<path d="M447.50 308.70 L447.57 309.03 L447.64 309.37 L447.71 309.70 L447.79 310.04 L447.82 310.37 L447.82 310.71 L447.82 311.04 L447.82 311.38 L447.82 311.71 L447.82 312.04 L447.82 312.38 L447.82 312.71 L447.82 313.05 L447.82 313.38 L447.82 313.72 L447.82 314.05 L447.82 314.39 L447.82 314.72 L447.82 315.05 L447.84 315.39 L447.86 315.72 L447.89 316.06 L447.91 316.39 L447.93 316.73 L447.95 317.06 L447.97 317.40 L447.99 317.73 L448.01 318.06 L448.02 318.40 L448.04 318.73 L448.05 319.07 L448.06 319.40 L448.07 319.74 L448.08 320.07 L448.08 320.41 L448.09 320.74 L448.09 321.07 L448.10 321.41 L448.10 321.74 L448.10 322.08 L448.10 322.41 L448.10 322.75 L448.09 323.08 L448.09 323.42 L448.08 323.75 L448.07 324.08 L448.06 324.42 L448.05 324.75 L448.04 325.09 L448.03 325.42 L448.02 325.76 L448.00 326.09 L447.98 326.43 L447.96 326.76 L447.94 327.09 L447.92 327.43 L447.90 327.76 L447.88 328.10 L447.85 328.43 L447.83 328.77 L447.82 329.10 L447.82 329.44 L447.82 329.77 L447.82 330.10 L447.82 330.44 L447.82 330.77 L447.82 331.11 L447.82 331.44 L447.82 331.78 L447.82 332.11 L447.82 332.45 L447.82 332.78 L447.82 333.11 L447.82 333.45 L447.82 333.78 L447.82 334.12 L447.82 334.45 L447.96 334.79 L448.22 335.12 L448.48 335.46 L448.74 335.79 L449.01 336.12 L449.27 336.46 L449.53 336.79 L449.79 337.13 L450.05 337.46 L450.31 337.80 L450.58 338.13 L450.84 338.47 L451.10 338.80 L443.90 338.80 L444.16 338.47 L444.42 338.13 L444.69 337.80 L444.95 337.46 L445.21 337.13 L445.47 336.79 L445.73 336.46 L445.99 336.12 L446.26 335.79 L446.52 335.46 L446.78 335.12 L447.04 334.79 L447.18 334.45 L447.18 334.12 L447.18 333.78 L447.18 333.45 L447.18 333.11 L447.18 332.78 L447.18 332.45 L447.18 332.11 L447.18 331.78 L447.18 331.44 L447.18 331.11 L447.18 330.77 L447.18 330.44 L447.18 330.10 L447.18 329.77 L447.18 329.44 L447.18 329.10 L447.17 328.77 L447.15 328.43 L447.12 328.10 L447.10 327.76 L447.08 327.43 L447.06 327.09 L447.04 326.76 L447.02 326.43 L447.00 326.09 L446.98 325.76 L446.97 325.42 L446.96 325.09 L446.95 324.75 L446.94 324.42 L446.93 324.08 L446.92 323.75 L446.91 323.42 L446.91 323.08 L446.90 322.75 L446.90 322.41 L446.90 322.08 L446.90 321.74 L446.90 321.41 L446.91 321.07 L446.91 320.74 L446.92 320.41 L446.92 320.07 L446.93 319.74 L446.94 319.40 L446.95 319.07 L446.96 318.73 L446.98 318.40 L446.99 318.06 L447.01 317.73 L447.03 317.40 L447.05 317.06 L447.07 316.73 L447.09 316.39 L447.11 316.06 L447.14 315.72 L447.16 315.39 L447.18 315.05 L447.18 314.72 L447.18 314.39 L447.18 314.05 L447.18 313.72 L447.18 313.38 L447.18 313.05 L447.18 312.71 L447.18 312.38 L447.18 312.04 L447.18 311.71 L447.18 311.38 L447.18 311.04 L447.18 310.71 L447.18 310.37 L447.21 310.04 L447.29 309.70 L447.36 309.37 L447.43 309.03 L447.50 308.70Z" fill="#3D9A95" stroke="#222" stroke-width="0.65" stroke-linejoin="round"/>
<line x1="456.60" y1="338.80" x2="456.60" y2="319.80" stroke="#3a3a3a" stroke-width="0.75"/>
<path d="M464.10 301.10 L464.19 301.52 L464.28 301.94 L464.37 302.36 L464.42 302.78 L464.42 303.19 L464.42 303.61 L464.42 304.03 L464.42 304.45 L464.42 304.87 L464.42 305.29 L464.42 305.71 L464.42 306.13 L464.42 306.55 L464.42 306.96 L464.42 307.38 L464.42 307.80 L464.42 308.22 L464.42 308.64 L464.42 309.06 L464.45 309.48 L464.48 309.90 L464.51 310.32 L464.54 310.73 L464.57 311.15 L464.60 311.57 L464.62 311.99 L464.65 312.41 L464.67 312.83 L464.69 313.25 L464.71 313.67 L464.73 314.09 L464.74 314.50 L464.75 314.92 L464.77 315.34 L464.78 315.76 L464.78 316.18 L464.79 316.60 L464.80 317.02 L464.80 317.44 L464.80 317.86 L464.80 318.27 L464.80 318.69 L464.79 319.11 L464.79 319.53 L464.78 319.95 L464.77 320.37 L464.76 320.79 L464.75 321.21 L464.74 321.63 L464.72 322.04 L464.70 322.46 L464.68 322.88 L464.66 323.30 L464.64 323.72 L464.62 324.14 L464.59 324.56 L464.56 324.98 L464.53 325.40 L464.50 325.81 L464.47 326.23 L464.44 326.65 L464.42 327.07 L464.42 327.49 L464.42 327.91 L464.42 328.33 L464.42 328.75 L464.42 329.17 L464.42 329.58 L464.42 330.00 L464.42 330.42 L464.42 330.84 L464.42 331.26 L464.42 331.68 L464.42 332.10 L464.42 332.52 L464.42 332.94 L464.62 333.35 L464.87 333.77 L465.12 334.19 L465.37 334.61 L465.63 335.03 L465.88 335.45 L466.13 335.87 L466.38 336.29 L466.64 336.71 L466.89 337.12 L467.14 337.54 L467.39 337.96 L467.65 338.38 L467.90 338.80 L460.30 338.80 L460.55 338.38 L460.81 337.96 L461.06 337.54 L461.31 337.12 L461.56 336.71 L461.82 336.29 L462.07 335.87 L462.32 335.45 L462.57 335.03 L462.83 334.61 L463.08 334.19 L463.33 333.77 L463.58 333.35 L463.78 332.94 L463.78 332.52 L463.78 332.10 L463.78 331.68 L463.78 331.26 L463.78 330.84 L463.78 330.42 L463.78 330.00 L463.78 329.58 L463.78 329.17 L463.78 328.75 L463.78 328.33 L463.78 327.91 L463.78 327.49 L463.78 327.07 L463.76 326.65 L463.73 326.23 L463.70 325.81 L463.67 325.40 L463.64 324.98 L463.61 324.56 L463.58 324.14 L463.56 323.72 L463.54 323.30 L463.52 322.88 L463.50 322.46 L463.48 322.04 L463.46 321.63 L463.45 321.21 L463.44 320.79 L463.43 320.37 L463.42 319.95 L463.41 319.53 L463.41 319.11 L463.40 318.69 L463.40 318.27 L463.40 317.86 L463.40 317.44 L463.40 317.02 L463.41 316.60 L463.42 316.18 L463.42 315.76 L463.43 315.34 L463.45 314.92 L463.46 314.50 L463.47 314.09 L463.49 313.67 L463.51 313.25 L463.53 312.83 L463.55 312.41 L463.58 311.99 L463.60 311.57 L463.63 311.15 L463.66 310.73 L463.69 310.32 L463.72 309.90 L463.75 309.48 L463.78 309.06 L463.78 308.64 L463.78 308.22 L463.78 307.80 L463.78 307.38 L463.78 306.96 L463.78 306.55 L463.78 306.13 L463.78 305.71 L463.78 305.29 L463.78 304.87 L463.78 304.45 L463.78 304.03 L463.78 303.61 L463.78 303.19 L463.78 302.78 L463.83 302.36 L463.92 301.94 L464.01 301.52 L464.10 301.10Z" fill="#3D9A95" stroke="#222" stroke-width="0.65" stroke-linejoin="round"/>
<line x1="473.20" y1="338.80" x2="473.20" y2="312.10" stroke="#9a9a9a" stroke-width="0.75"/>
<line x1="480.70" y1="338.80" x2="480.70" y2="301.80" stroke="#3a3a3a" stroke-width="0.75"/>
<line x1="489.80" y1="338.80" x2="489.80" y2="317.00" stroke="#3a3a3a" stroke-width="0.75"/>
<path d="M497.30 304.00 L497.38 304.39 L497.46 304.77 L497.55 305.16 L497.62 305.55 L497.62 305.93 L497.62 306.32 L497.62 306.71 L497.62 307.09 L497.62 307.48 L497.62 307.87 L497.62 308.25 L497.62 308.64 L497.62 309.03 L497.62 309.41 L497.62 309.80 L497.62 310.19 L497.62 310.57 L497.62 310.96 L497.62 311.35 L497.62 311.73 L497.62 312.12 L497.62 312.51 L497.62 312.89 L497.62 313.28 L497.62 313.67 L497.62 314.05 L497.62 314.44 L497.62 314.83 L497.62 315.21 L497.62 315.60 L497.62 315.99 L497.62 316.37 L497.62 316.76 L497.62 317.15 L497.62 317.53 L497.62 317.92 L497.62 318.31 L497.62 318.69 L497.62 319.08 L497.62 319.47 L497.62 319.85 L497.62 320.24 L497.62 320.63 L497.62 321.01 L497.62 321.40 L497.62 321.79 L497.62 322.17 L497.62 322.56 L497.62 322.95 L497.62 323.33 L497.62 323.72 L497.62 324.11 L497.62 324.49 L497.62 324.88 L497.62 325.27 L497.62 325.65 L497.62 326.04 L497.62 326.43 L497.62 326.81 L497.62 327.20 L497.62 327.59 L497.62 327.97 L497.62 328.36 L497.62 328.75 L497.62 329.13 L497.62 329.52 L497.62 329.91 L497.62 330.29 L497.62 330.68 L497.62 331.07 L497.62 331.45 L497.62 331.84 L497.62 332.23 L497.62 332.61 L497.62 333.00 L497.62 333.39 L497.62 333.77 L497.62 334.16 L497.62 334.55 L497.62 334.93 L497.62 335.32 L497.62 335.71 L497.62 336.09 L497.62 336.48 L497.62 336.87 L497.62 337.25 L497.71 337.64 L498.84 338.03 L499.97 338.41 L501.10 338.80 L493.50 338.80 L494.63 338.41 L495.76 338.03 L496.89 337.64 L496.98 337.25 L496.98 336.87 L496.98 336.48 L496.98 336.09 L496.98 335.71 L496.98 335.32 L496.98 334.93 L496.98 334.55 L496.98 334.16 L496.98 333.77 L496.98 333.39 L496.98 333.00 L496.98 332.61 L496.98 332.23 L496.98 331.84 L496.98 331.45 L496.98 331.07 L496.98 330.68 L496.98 330.29 L496.98 329.91 L496.98 329.52 L496.98 329.13 L496.98 328.75 L496.98 328.36 L496.98 327.97 L496.98 327.59 L496.98 327.20 L496.98 326.81 L496.98 326.43 L496.98 326.04 L496.98 325.65 L496.98 325.27 L496.98 324.88 L496.98 324.49 L496.98 324.11 L496.98 323.72 L496.98 323.33 L496.98 322.95 L496.98 322.56 L496.98 322.17 L496.98 321.79 L496.98 321.40 L496.98 321.01 L496.98 320.63 L496.98 320.24 L496.98 319.85 L496.98 319.47 L496.98 319.08 L496.98 318.69 L496.98 318.31 L496.98 317.92 L496.98 317.53 L496.98 317.15 L496.98 316.76 L496.98 316.37 L496.98 315.99 L496.98 315.60 L496.98 315.21 L496.98 314.83 L496.98 314.44 L496.98 314.05 L496.98 313.67 L496.98 313.28 L496.98 312.89 L496.98 312.51 L496.98 312.12 L496.98 311.73 L496.98 311.35 L496.98 310.96 L496.98 310.57 L496.98 310.19 L496.98 309.80 L496.98 309.41 L496.98 309.03 L496.98 308.64 L496.98 308.25 L496.98 307.87 L496.98 307.48 L496.98 307.09 L496.98 306.71 L496.98 306.32 L496.98 305.93 L496.98 305.55 L497.05 305.16 L497.14 304.77 L497.22 304.39 L497.30 304.00Z" fill="#3D9A95" stroke="#222" stroke-width="0.65" stroke-linejoin="round"/>
<line x1="506.40" y1="338.80" x2="506.40" y2="321.10" stroke="#3a3a3a" stroke-width="0.75"/>
<path d="M513.90 307.00 L513.98 307.35 L514.05 307.71 L514.13 308.06 L514.20 308.41 L514.22 308.77 L514.22 309.12 L514.22 309.47 L514.22 309.83 L514.22 310.18 L514.22 310.53 L514.22 310.89 L514.22 311.24 L514.22 311.59 L514.22 311.95 L514.27 312.30 L514.31 312.65 L514.36 313.01 L514.40 313.36 L514.44 313.71 L514.48 314.07 L514.52 314.42 L514.55 314.77 L514.59 315.13 L514.62 315.48 L514.64 315.83 L514.67 316.19 L514.69 316.54 L514.71 316.89 L514.73 317.25 L514.75 317.60 L514.76 317.95 L514.77 318.31 L514.78 318.66 L514.79 319.01 L514.80 319.37 L514.80 319.72 L514.80 320.07 L514.80 320.43 L514.79 320.78 L514.79 321.13 L514.78 321.49 L514.77 321.84 L514.76 322.19 L514.74 322.55 L514.72 322.90 L514.70 323.25 L514.68 323.61 L514.66 323.96 L514.63 324.31 L514.60 324.67 L514.57 325.02 L514.54 325.37 L514.50 325.73 L514.47 326.08 L514.43 326.43 L514.39 326.79 L514.34 327.14 L514.29 327.49 L514.25 327.85 L514.22 328.20 L514.22 328.55 L514.22 328.91 L514.22 329.26 L514.22 329.61 L514.22 329.97 L514.22 330.32 L514.22 330.67 L514.22 331.03 L514.22 331.38 L514.22 331.73 L514.22 332.09 L514.22 332.44 L514.22 332.79 L514.22 333.15 L514.22 333.50 L514.34 333.85 L514.58 334.21 L514.82 334.56 L515.06 334.91 L515.30 335.27 L515.54 335.62 L515.78 335.97 L516.02 336.33 L516.26 336.68 L516.50 337.03 L516.74 337.39 L516.98 337.74 L517.22 338.09 L517.46 338.45 L517.70 338.80 L510.10 338.80 L510.34 338.45 L510.58 338.09 L510.82 337.74 L511.06 337.39 L511.30 337.03 L511.54 336.68 L511.78 336.33 L512.02 335.97 L512.26 335.62 L512.50 335.27 L512.74 334.91 L512.98 334.56 L513.22 334.21 L513.46 333.85 L513.58 333.50 L513.58 333.15 L513.58 332.79 L513.58 332.44 L513.58 332.09 L513.58 331.73 L513.58 331.38 L513.58 331.03 L513.58 330.67 L513.58 330.32 L513.58 329.97 L513.58 329.61 L513.58 329.26 L513.58 328.91 L513.58 328.55 L513.58 328.20 L513.55 327.85 L513.51 327.49 L513.46 327.14 L513.41 326.79 L513.37 326.43 L513.33 326.08 L513.30 325.73 L513.26 325.37 L513.23 325.02 L513.20 324.67 L513.17 324.31 L513.14 323.96 L513.12 323.61 L513.10 323.25 L513.08 322.90 L513.06 322.55 L513.04 322.19 L513.03 321.84 L513.02 321.49 L513.01 321.13 L513.01 320.78 L513.00 320.43 L513.00 320.07 L513.00 319.72 L513.00 319.37 L513.01 319.01 L513.02 318.66 L513.03 318.31 L513.04 317.95 L513.05 317.60 L513.07 317.25 L513.09 316.89 L513.11 316.54 L513.13 316.19 L513.16 315.83 L513.18 315.48 L513.21 315.13 L513.25 314.77 L513.28 314.42 L513.32 314.07 L513.36 313.71 L513.40 313.36 L513.44 313.01 L513.49 312.65 L513.53 312.30 L513.58 311.95 L513.58 311.59 L513.58 311.24 L513.58 310.89 L513.58 310.53 L513.58 310.18 L513.58 309.83 L513.58 309.47 L513.58 309.12 L513.58 308.77 L513.60 308.41 L513.67 308.06 L513.75 307.71 L513.82 307.35 L513.90 307.00Z" fill="#3D9A95" stroke="#222" stroke-width="0.65" stroke-linejoin="round"/>
<path d="M523.00 317.20 L523.05 317.44 L523.10 317.68 L523.15 317.92 L523.20 318.16 L523.26 318.40 L523.31 318.64 L523.32 318.88 L523.32 319.12 L523.32 319.36 L523.32 319.60 L523.32 319.84 L523.32 320.08 L523.32 320.32 L523.32 320.56 L523.32 320.80 L523.32 321.04 L523.32 321.28 L523.32 321.52 L523.32 321.76 L523.32 322.00 L523.32 322.24 L523.32 322.48 L523.32 322.72 L523.32 322.96 L523.32 323.20 L523.32 323.44 L523.32 323.68 L523.32 323.92 L523.32 324.16 L523.32 324.40 L523.32 324.64 L523.32 324.88 L523.32 325.12 L523.32 325.36 L523.32 325.60 L523.32 325.84 L523.32 326.08 L523.32 326.32 L523.32 326.56 L523.32 326.80 L523.32 327.04 L523.32 327.28 L523.32 327.52 L523.46 327.76 L523.59 328.00 L523.70 328.24 L523.80 328.48 L523.88 328.72 L523.93 328.96 L523.97 329.20 L524.00 329.44 L524.00 329.68 L523.98 329.92 L523.95 330.16 L523.90 330.40 L523.83 330.64 L523.74 330.88 L523.63 331.12 L523.50 331.36 L523.36 331.60 L523.32 331.84 L523.32 332.08 L523.32 332.32 L523.32 332.56 L523.32 332.80 L523.32 333.04 L523.32 333.28 L523.32 333.52 L523.32 333.76 L523.32 334.00 L523.32 334.24 L523.32 334.48 L523.32 334.72 L523.32 334.96 L523.32 335.20 L523.42 335.44 L523.64 335.68 L523.87 335.92 L524.10 336.16 L524.33 336.40 L524.55 336.64 L524.78 336.88 L525.01 337.12 L525.24 337.36 L525.46 337.60 L525.69 337.84 L525.92 338.08 L526.15 338.32 L526.37 338.56 L526.60 338.80 L519.40 338.80 L519.63 338.56 L519.85 338.32 L520.08 338.08 L520.31 337.84 L520.54 337.60 L520.76 337.36 L520.99 337.12 L521.22 336.88 L521.45 336.64 L521.67 336.40 L521.90 336.16 L522.13 335.92 L522.36 335.68 L522.58 335.44 L522.68 335.20 L522.68 334.96 L522.68 334.72 L522.68 334.48 L522.68 334.24 L522.68 334.00 L522.68 333.76 L522.68 333.52 L522.68 333.28 L522.68 333.04 L522.68 332.80 L522.68 332.56 L522.68 332.32 L522.68 332.08 L522.68 331.84 L522.64 331.60 L522.50 331.36 L522.37 331.12 L522.26 330.88 L522.17 330.64 L522.10 330.40 L522.05 330.16 L522.02 329.92 L522.00 329.68 L522.00 329.44 L522.03 329.20 L522.07 328.96 L522.12 328.72 L522.20 328.48 L522.30 328.24 L522.41 328.00 L522.54 327.76 L522.68 327.52 L522.68 327.28 L522.68 327.04 L522.68 326.80 L522.68 326.56 L522.68 326.32 L522.68 326.08 L522.68 325.84 L522.68 325.60 L522.68 325.36 L522.68 325.12 L522.68 324.88 L522.68 324.64 L522.68 324.40 L522.68 324.16 L522.68 323.92 L522.68 323.68 L522.68 323.44 L522.68 323.20 L522.68 322.96 L522.68 322.72 L522.68 322.48 L522.68 322.24 L522.68 322.00 L522.68 321.76 L522.68 321.52 L522.68 321.28 L522.68 321.04 L522.68 320.80 L522.68 320.56 L522.68 320.32 L522.68 320.08 L522.68 319.84 L522.68 319.60 L522.68 319.36 L522.68 319.12 L522.68 318.88 L522.69 318.64 L522.74 318.40 L522.80 318.16 L522.85 317.92 L522.90 317.68 L522.95 317.44 L523.00 317.20Z" fill="#E8716B" stroke="#222" stroke-width="0.65" stroke-linejoin="round"/>
<path d="M530.50 308.00 L530.57 308.34 L530.65 308.68 L530.72 309.03 L530.79 309.37 L530.82 309.71 L530.82 310.05 L530.82 310.40 L530.82 310.74 L530.82 311.08 L530.82 311.42 L530.82 311.76 L530.82 312.11 L530.82 312.45 L530.82 312.79 L530.82 313.13 L530.82 313.48 L530.83 313.82 L530.89 314.16 L530.94 314.50 L530.99 314.84 L531.04 315.19 L531.08 315.53 L531.12 315.87 L531.17 316.21 L531.20 316.56 L531.24 316.90 L531.27 317.24 L531.30 317.58 L531.33 317.92 L531.36 318.27 L531.39 318.61 L531.41 318.95 L531.43 319.29 L531.44 319.64 L531.46 319.98 L531.47 320.32 L531.48 320.66 L531.49 321.00 L531.50 321.35 L531.50 321.69 L531.50 322.03 L531.50 322.37 L531.49 322.72 L531.48 323.06 L531.47 323.40 L531.45 323.74 L531.43 324.08 L531.41 324.43 L531.38 324.77 L531.35 325.11 L531.31 325.45 L531.27 325.80 L531.23 326.14 L531.19 326.48 L531.14 326.82 L531.08 327.16 L531.03 327.51 L530.97 327.85 L530.90 328.19 L530.83 328.53 L530.82 328.88 L530.82 329.22 L530.82 329.56 L530.82 329.90 L530.82 330.24 L530.82 330.59 L530.82 330.93 L530.82 331.27 L530.82 331.61 L530.82 331.96 L530.82 332.30 L530.82 332.64 L530.82 332.98 L531.00 333.32 L531.20 333.67 L531.41 334.01 L531.62 334.35 L531.82 334.69 L532.03 335.04 L532.24 335.38 L532.44 335.72 L532.65 336.06 L532.86 336.40 L533.06 336.75 L533.27 337.09 L533.47 337.43 L533.68 337.77 L533.89 338.12 L534.09 338.46 L534.30 338.80 L526.70 338.80 L526.91 338.46 L527.11 338.12 L527.32 337.77 L527.53 337.43 L527.73 337.09 L527.94 336.75 L528.14 336.40 L528.35 336.06 L528.56 335.72 L528.76 335.38 L528.97 335.04 L529.18 334.69 L529.38 334.35 L529.59 334.01 L529.80 333.67 L530.00 333.32 L530.18 332.98 L530.18 332.64 L530.18 332.30 L530.18 331.96 L530.18 331.61 L530.18 331.27 L530.18 330.93 L530.18 330.59 L530.18 330.24 L530.18 329.90 L530.18 329.56 L530.18 329.22 L530.18 328.88 L530.17 328.53 L530.10 328.19 L530.03 327.85 L529.97 327.51 L529.92 327.16 L529.86 326.82 L529.81 326.48 L529.77 326.14 L529.73 325.80 L529.69 325.45 L529.65 325.11 L529.62 324.77 L529.59 324.43 L529.57 324.08 L529.55 323.74 L529.53 323.40 L529.52 323.06 L529.51 322.72 L529.50 322.37 L529.50 322.03 L529.50 321.69 L529.50 321.35 L529.51 321.00 L529.52 320.66 L529.53 320.32 L529.54 319.98 L529.56 319.64 L529.57 319.29 L529.59 318.95 L529.61 318.61 L529.64 318.27 L529.67 317.92 L529.70 317.58 L529.73 317.24 L529.76 316.90 L529.80 316.56 L529.83 316.21 L529.88 315.87 L529.92 315.53 L529.96 315.19 L530.01 314.84 L530.06 314.50 L530.11 314.16 L530.17 313.82 L530.18 313.48 L530.18 313.13 L530.18 312.79 L530.18 312.45 L530.18 312.11 L530.18 311.76 L530.18 311.42 L530.18 311.08 L530.18 310.74 L530.18 310.40 L530.18 310.05 L530.18 309.71 L530.21 309.37 L530.28 309.03 L530.35 308.68 L530.43 308.34 L530.50 308.00Z" fill="#3D9A95" stroke="#222" stroke-width="0.65" stroke-linejoin="round"/>
<line x1="539.60" y1="338.80" x2="539.60" y2="319.10" stroke="#3a3a3a" stroke-width="0.75"/>
<line x1="547.10" y1="338.80" x2="547.10" y2="310.30" stroke="#9a9a9a" stroke-width="0.75"/>
<line x1="556.20" y1="338.80" x2="556.20" y2="317.20" stroke="#9a9a9a" stroke-width="0.75"/>
<line x1="563.70" y1="338.80" x2="563.70" y2="307.00" stroke="#3a3a3a" stroke-width="0.75"/>
<line x1="572.80" y1="338.80" x2="572.80" y2="310.70" stroke="#3a3a3a" stroke-width="0.75"/>
<line x1="580.30" y1="338.80" x2="580.30" y2="303.00" stroke="#9a9a9a" stroke-width="0.75"/>
<line x1="589.40" y1="338.80" x2="589.40" y2="320.70" stroke="#3a3a3a" stroke-width="0.75"/>
<path d="M596.90 305.90 L596.98 306.27 L597.06 306.63 L597.13 307.00 L597.21 307.36 L597.22 307.73 L597.22 308.09 L597.22 308.46 L597.22 308.82 L597.22 309.19 L597.22 309.56 L597.25 309.92 L597.31 310.29 L597.36 310.65 L597.41 311.02 L597.46 311.38 L597.51 311.75 L597.55 312.11 L597.60 312.48 L597.63 312.85 L597.67 313.21 L597.70 313.58 L597.74 313.94 L597.76 314.31 L597.79 314.67 L597.81 315.04 L597.83 315.40 L597.85 315.77 L597.87 316.14 L597.88 316.50 L597.89 316.87 L597.89 317.23 L597.90 317.60 L597.90 317.96 L597.90 318.33 L597.90 318.69 L597.89 319.06 L597.88 319.43 L597.87 319.79 L597.85 320.16 L597.84 320.52 L597.82 320.89 L597.79 321.25 L597.77 321.62 L597.74 321.98 L597.71 322.35 L597.68 322.72 L597.64 323.08 L597.60 323.45 L597.56 323.81 L597.52 324.18 L597.47 324.54 L597.42 324.91 L597.37 325.27 L597.32 325.64 L597.26 326.01 L597.22 326.37 L597.22 326.74 L597.22 327.10 L597.22 327.47 L597.22 327.83 L597.22 328.20 L597.22 328.56 L597.22 328.93 L597.22 329.30 L597.22 329.66 L597.22 330.03 L597.22 330.39 L597.22 330.76 L597.22 331.12 L597.22 331.49 L597.22 331.85 L597.22 332.22 L597.22 332.59 L597.22 332.95 L597.22 333.32 L597.37 333.68 L597.62 334.05 L597.87 334.41 L598.13 334.78 L598.38 335.14 L598.63 335.51 L598.88 335.88 L599.14 336.24 L599.39 336.61 L599.64 336.97 L599.89 337.34 L600.14 337.70 L600.40 338.07 L600.65 338.43 L600.90 338.80 L592.90 338.80 L593.15 338.43 L593.40 338.07 L593.66 337.70 L593.91 337.34 L594.16 336.97 L594.41 336.61 L594.66 336.24 L594.92 335.88 L595.17 335.51 L595.42 335.14 L595.67 334.78 L595.93 334.41 L596.18 334.05 L596.43 333.68 L596.58 333.32 L596.58 332.95 L596.58 332.59 L596.58 332.22 L596.58 331.85 L596.58 331.49 L596.58 331.12 L596.58 330.76 L596.58 330.39 L596.58 330.03 L596.58 329.66 L596.58 329.30 L596.58 328.93 L596.58 328.56 L596.58 328.20 L596.58 327.83 L596.58 327.47 L596.58 327.10 L596.58 326.74 L596.58 326.37 L596.54 326.01 L596.48 325.64 L596.43 325.27 L596.38 324.91 L596.33 324.54 L596.28 324.18 L596.24 323.81 L596.20 323.45 L596.16 323.08 L596.12 322.72 L596.09 322.35 L596.06 321.98 L596.03 321.62 L596.01 321.25 L595.98 320.89 L595.96 320.52 L595.95 320.16 L595.93 319.79 L595.92 319.43 L595.91 319.06 L595.90 318.69 L595.90 318.33 L595.90 317.96 L595.90 317.60 L595.91 317.23 L595.91 316.87 L595.92 316.50 L595.93 316.14 L595.95 315.77 L595.97 315.40 L595.99 315.04 L596.01 314.67 L596.04 314.31 L596.06 313.94 L596.10 313.58 L596.13 313.21 L596.17 312.85 L596.20 312.48 L596.25 312.11 L596.29 311.75 L596.34 311.38 L596.39 311.02 L596.44 310.65 L596.49 310.29 L596.55 309.92 L596.58 309.56 L596.58 309.19 L596.58 308.82 L596.58 308.46 L596.58 308.09 L596.58 307.73 L596.59 307.36 L596.67 307.00 L596.74 306.63 L596.82 306.27 L596.90 305.90Z" fill="#3D9A95" stroke="#222" stroke-width="0.65" stroke-linejoin="round"/>
<line x1="606.00" y1="338.80" x2="606.00" y2="315.00" stroke="#9a9a9a" stroke-width="0.75"/>
<line x1="613.50" y1="338.80" x2="613.50" y2="309.10" stroke="#3a3a3a" stroke-width="0.75"/>
<line x1="622.60" y1="338.80" x2="622.60" y2="307.80" stroke="#3a3a3a" stroke-width="0.75"/>
<line x1="630.10" y1="338.80" x2="630.10" y2="303.40" stroke="#9a9a9a" stroke-width="0.75"/>
<line x1="433.50" y1="299.40" x2="433.50" y2="340.10" stroke="#262626" stroke-width="0.85"/>
<line x1="433.50" y1="340.10" x2="636.80" y2="340.10" stroke="#262626" stroke-width="0.9"/>
<line x1="430.50" y1="301.30" x2="433.50" y2="301.30" stroke="#333" stroke-width="0.6"/>
<text x="427.60" y="301.30" font-size="4.8" text-anchor="end" fill="#333" dy="0.35em">4</text>
<text x="410.60" y="302.10" font-size="7.2" text-anchor="middle" fill="#111" dy="0.35em">F2</text>
<line x1="443.75" y1="340.10" x2="443.75" y2="343.20" stroke="#333" stroke-width="0.6"/>
<text x="443.75" y="343.70" font-size="7.35" text-anchor="end" fill="#111" dy="0.35em" transform="rotate(-90 443.75 343.70)">aHSC</text>
<line x1="460.35" y1="340.10" x2="460.35" y2="343.20" stroke="#333" stroke-width="0.6"/>
<text x="460.35" y="343.70" font-size="7.35" text-anchor="end" fill="#111" dy="0.35em" transform="rotate(-90 460.35 343.70)">hep−like HSC</text>
<line x1="476.95" y1="340.10" x2="476.95" y2="343.20" stroke="#333" stroke-width="0.6"/>
<text x="476.95" y="343.70" font-size="7.35" text-anchor="end" fill="#111" dy="0.35em" transform="rotate(-90 476.95 343.70)">inHSC</text>
<line x1="493.55" y1="340.10" x2="493.55" y2="343.20" stroke="#333" stroke-width="0.6"/>
<text x="493.55" y="343.70" font-size="7.35" text-anchor="end" fill="#111" dy="0.35em" transform="rotate(-90 493.55 343.70)">ITGAX+ Mac</text>
<line x1="510.15" y1="340.10" x2="510.15" y2="343.20" stroke="#333" stroke-width="0.6"/>
<text x="510.15" y="343.70" font-size="7.35" text-anchor="end" fill="#111" dy="0.35em" transform="rotate(-90 510.15 343.70)">mDC</text>
<line x1="526.75" y1="340.10" x2="526.75" y2="343.20" stroke="#333" stroke-width="0.6"/>
<text x="526.75" y="343.70" font-size="7.35" text-anchor="end" fill="#111" dy="0.35em" transform="rotate(-90 526.75 343.70)">MKI67+ Mac</text>
<line x1="543.35" y1="340.10" x2="543.35" y2="343.20" stroke="#333" stroke-width="0.6"/>
<text x="543.35" y="343.70" font-size="7.35" text-anchor="end" fill="#111" dy="0.35em" transform="rotate(-90 543.35 343.70)">pDC</text>
<line x1="559.95" y1="340.10" x2="559.95" y2="343.20" stroke="#333" stroke-width="0.6"/>
<text x="559.95" y="343.70" font-size="7.35" text-anchor="end" fill="#111" dy="0.35em" transform="rotate(-90 559.95 343.70)">qHSC</text>
<line x1="576.55" y1="340.10" x2="576.55" y2="343.20" stroke="#333" stroke-width="0.6"/>
<text x="576.55" y="343.70" font-size="7.35" text-anchor="end" fill="#111" dy="0.35em" transform="rotate(-90 576.55 343.70)">SAA1+ KC</text>
<line x1="593.15" y1="340.10" x2="593.15" y2="343.20" stroke="#333" stroke-width="0.6"/>
<text x="593.15" y="343.70" font-size="7.35" text-anchor="end" fill="#111" dy="0.35em" transform="rotate(-90 593.15 343.70)">SMC</text>
<line x1="609.75" y1="340.10" x2="609.75" y2="343.20" stroke="#333" stroke-width="0.6"/>
<text x="609.75" y="343.70" font-size="7.35" text-anchor="end" fill="#111" dy="0.35em" transform="rotate(-90 609.75 343.70)">VCAM1+ KC</text>
<line x1="626.35" y1="340.10" x2="626.35" y2="343.20" stroke="#333" stroke-width="0.6"/>
<text x="626.35" y="343.70" font-size="7.35" text-anchor="end" fill="#111" dy="0.35em" transform="rotate(-90 626.35 343.70)">VCAN+ Mono</text>
<rect x="644.90" y="264.50" width="10.80" height="10.80" fill="#E8716B" stroke="#444" stroke-width="0.5"/>
<rect x="644.90" y="275.70" width="10.80" height="10.80" fill="#3D9A95" stroke="#444" stroke-width="0.5"/>
<text x="660.90" y="270.00" font-size="6.6" text-anchor="start" fill="#111" dy="0.35em">MASLD</text>
<text x="660.90" y="281.30" font-size="6.6" text-anchor="start" fill="#111" dy="0.35em">MASH</text>
<path d="M422.8 470.7 L425.6 469.9 L428.3 469.1 L431.1 468.3 L433.8 467.5 L436.6 466.7 L439.3 465.9 L442.1 465.1 L444.8 464.3 L447.6 463.4 L450.3 462.6 L453.1 461.7 L455.8 460.9 L458.6 460.0 L461.3 459.0 L464.1 458.1 L466.8 457.1 L469.6 456.1 L472.3 455.1 L475.1 454.0 L477.8 452.9 L480.5 451.7 L483.3 450.5 L486.0 449.2 L488.8 447.9 L491.5 446.4 L494.3 444.9 L497.0 443.4 L499.8 441.8 L502.5 440.1 L505.3 438.3 L508.0 436.6 L510.8 434.8 L513.5 432.9 L516.3 431.0 L519.0 429.1 L521.8 427.2 L524.5 425.2 L527.3 423.3 L530.0 421.3 L532.8 419.3 L532.8 445.3 L530.0 446.2 L527.3 447.0 L524.5 447.9 L521.8 448.8 L519.0 449.7 L516.3 450.6 L513.5 451.6 L510.8 452.6 L508.0 453.6 L505.3 454.7 L502.5 455.8 L499.8 457.0 L497.0 458.2 L494.3 459.5 L491.5 460.8 L488.8 462.3 L486.0 463.7 L483.3 465.3 L480.5 466.9 L477.8 468.6 L475.1 470.3 L472.3 472.1 L469.6 473.9 L466.8 475.7 L464.1 477.6 L461.3 479.5 L458.6 481.4 L455.8 483.4 L453.1 485.4 L450.3 487.4 L447.6 489.3 L444.8 491.4 L442.1 493.4 L439.3 495.4 L436.6 497.4 L433.8 499.5 L431.1 501.5 L428.3 503.6 L425.6 505.6 L422.8 507.7Z" fill="#E3E3E3"/>
<line x1="422.80" y1="489.20" x2="532.80" y2="432.30" stroke="#111" stroke-width="1.1"/>
<circle cx="422.80" cy="470.10" r="1.35" fill="#3A18A0"/>
<circle cx="424.50" cy="518.20" r="1.35" fill="#2A1890"/>
<circle cx="425.80" cy="504.30" r="1.35" fill="#6A50C0"/>
<circle cx="441.20" cy="469.60" r="1.35" fill="#9060C0"/>
<circle cx="450.10" cy="460.40" r="1.35" fill="#4020A8"/>
<circle cx="460.00" cy="461.90" r="1.35" fill="#7850B8"/>
<circle cx="462.00" cy="497.40" r="1.35" fill="#302090"/>
<circle cx="482.90" cy="438.80" r="1.35" fill="#B81E98"/>
<circle cx="484.10" cy="461.10" r="1.35" fill="#E08080"/>
<circle cx="488.10" cy="471.30" r="1.35" fill="#D02078"/>
<circle cx="492.50" cy="471.50" r="1.35" fill="#D02078"/>
<circle cx="495.00" cy="423.80" r="1.35" fill="#E02858"/>
<circle cx="496.70" cy="422.20" r="1.35" fill="#E03050"/>
<circle cx="501.00" cy="423.40" r="1.35" fill="#F0A030"/>
<circle cx="500.50" cy="463.60" r="1.35" fill="#E03050"/>
<circle cx="504.00" cy="476.50" r="1.35" fill="#C81E88"/>
<circle cx="506.20" cy="429.60" r="1.35" fill="#F0C828"/>
<circle cx="508.70" cy="415.70" r="1.35" fill="#F07828"/>
<circle cx="509.40" cy="464.10" r="1.35" fill="#F09030"/>
<circle cx="508.40" cy="466.60" r="1.35" fill="#F05838"/>
<circle cx="510.40" cy="472.80" r="1.35" fill="#B82898"/>
<circle cx="515.10" cy="429.40" r="1.35" fill="#F0A028"/>
<circle cx="516.10" cy="427.40" r="1.35" fill="#F09028"/>
<circle cx="517.10" cy="443.70" r="1.35" fill="#F0D030"/>
<circle cx="518.80" cy="439.30" r="1.35" fill="#E8E040"/>
<circle cx="521.40" cy="438.40" r="1.35" fill="#F0A848"/>
<circle cx="529.60" cy="426.60" r="1.35" fill="#F0906A"/>
<circle cx="531.40" cy="452.10" r="1.35" fill="#E02860"/>
<circle cx="532.80" cy="451.60" r="1.35" fill="#E02860"/>
<line x1="417.80" y1="411.00" x2="417.80" y2="523.70" stroke="#333" stroke-width="0.7"/>
<line x1="417.80" y1="523.70" x2="538.50" y2="523.70" stroke="#333" stroke-width="0.7"/>
<line x1="416.50" y1="417.70" x2="417.80" y2="417.70" stroke="#444" stroke-width="0.4"/>
<text x="416.00" y="417.70" font-size="4.7" text-anchor="end" fill="#444" dy="0.35em">600</text>
<line x1="416.50" y1="454.40" x2="417.80" y2="454.40" stroke="#444" stroke-width="0.4"/>
<text x="416.00" y="454.40" font-size="4.7" text-anchor="end" fill="#444" dy="0.35em">400</text>
<line x1="416.50" y1="490.90" x2="417.80" y2="490.90" stroke="#444" stroke-width="0.4"/>
<text x="416.00" y="490.90" font-size="4.7" text-anchor="end" fill="#444" dy="0.35em">200</text>
<line x1="430.70" y1="523.70" x2="430.70" y2="525.00" stroke="#444" stroke-width="0.4"/>
<text x="430.70" y="527.90" font-size="4.7" text-anchor="middle" fill="#444" dy="0.35em">0.80</text>
<line x1="456.30" y1="523.70" x2="456.30" y2="525.00" stroke="#444" stroke-width="0.4"/>
<text x="456.30" y="527.90" font-size="4.7" text-anchor="middle" fill="#444" dy="0.35em">0.85</text>
<line x1="481.80" y1="523.70" x2="481.80" y2="525.00" stroke="#444" stroke-width="0.4"/>
<text x="481.80" y="527.90" font-size="4.7" text-anchor="middle" fill="#444" dy="0.35em">0.90</text>
<line x1="507.40" y1="523.70" x2="507.40" y2="525.00" stroke="#444" stroke-width="0.4"/>
<text x="507.40" y="527.90" font-size="4.7" text-anchor="middle" fill="#444" dy="0.35em">0.95</text>
<line x1="532.90" y1="523.70" x2="532.90" y2="525.00" stroke="#444" stroke-width="0.4"/>
<text x="532.90" y="527.90" font-size="4.7" text-anchor="middle" fill="#444" dy="0.35em">1.00</text>
<text x="417.30" y="404.50" font-size="6.6" text-anchor="start" fill="#111" dy="0.35em">GSE126848</text>
<text x="423.1" y="421.0" dy="0.35em" font-size="7.0" fill="#111"><tspan font-style="italic">R</tspan> = 0.639, <tspan font-style="italic">p</tspan> = 0.00011</text>
<text x="477.90" y="534.10" font-size="5.5" text-anchor="middle" fill="#111" dy="0.35em">Signature score of fibrosis</text>
<text x="402.70" y="466.60" font-size="5.65" text-anchor="middle" fill="#111" dy="0.35em" transform="rotate(-90 402.70 466.60)">Expression of PLG</text>
<path d="M566.4 478.5 L569.2 477.6 L571.9 476.8 L574.7 475.9 L577.4 475.1 L580.2 474.2 L582.9 473.3 L585.7 472.4 L588.4 471.5 L591.2 470.6 L593.9 469.6 L596.7 468.6 L599.4 467.6 L602.2 466.6 L604.9 465.5 L607.7 464.3 L610.4 463.1 L613.2 461.8 L615.9 460.4 L618.7 458.9 L621.5 457.2 L624.2 455.5 L627.0 453.6 L629.7 451.7 L632.5 449.7 L635.2 447.7 L638.0 445.6 L640.7 443.5 L643.5 441.3 L646.2 439.1 L649.0 437.0 L651.7 434.7 L654.5 432.5 L657.2 430.3 L660.0 428.1 L662.7 425.8 L665.5 423.6 L668.2 421.3 L671.0 419.1 L673.7 416.8 L676.5 414.5 L676.5 447.9 L673.7 448.7 L671.0 449.6 L668.2 450.4 L665.5 451.3 L662.7 452.1 L660.0 453.0 L657.2 453.9 L654.5 454.8 L651.7 455.6 L649.0 456.5 L646.2 457.5 L643.5 458.4 L640.7 459.4 L638.0 460.4 L635.2 461.4 L632.5 462.4 L629.7 463.6 L627.0 464.8 L624.2 466.0 L621.5 467.4 L618.7 468.9 L615.9 470.4 L613.2 472.1 L610.4 473.9 L607.7 475.8 L604.9 477.8 L602.2 479.8 L599.4 481.8 L596.7 484.0 L593.9 486.1 L591.2 488.3 L588.4 490.4 L585.7 492.6 L582.9 494.8 L580.2 497.1 L577.4 499.3 L574.7 501.5 L571.9 503.8 L569.2 506.0 L566.4 508.3Z" fill="#E3E3E3"/>
<line x1="566.40" y1="493.40" x2="676.50" y2="431.20" stroke="#111" stroke-width="1.1"/>
<circle cx="566.40" cy="518.30" r="1.35" fill="#2A1A90"/>
<circle cx="568.90" cy="477.30" r="1.35" fill="#4A20A0"/>
<circle cx="574.50" cy="470.10" r="1.35" fill="#6A20A8"/>
<circle cx="589.50" cy="468.80" r="1.35" fill="#C02090"/>
<circle cx="590.30" cy="506.20" r="1.35" fill="#2A1A90"/>
<circle cx="596.40" cy="476.70" r="1.35" fill="#E86040"/>
<circle cx="606.20" cy="474.10" r="1.35" fill="#F08850"/>
<circle cx="607.00" cy="479.60" r="1.35" fill="#E03050"/>
<circle cx="609.50" cy="469.70" r="1.35" fill="#F09030"/>
<circle cx="613.10" cy="450.70" r="1.35" fill="#D02070"/>
<circle cx="613.60" cy="462.10" r="1.35" fill="#F0B848"/>
<circle cx="615.00" cy="454.70" r="1.35" fill="#E03848"/>
<circle cx="617.10" cy="472.20" r="1.35" fill="#F08830"/>
<circle cx="617.40" cy="477.90" r="1.35" fill="#F08830"/>
<circle cx="621.40" cy="437.40" r="1.35" fill="#F08830"/>
<circle cx="622.40" cy="500.50" r="1.35" fill="#2A1A90"/>
<circle cx="626.20" cy="450.20" r="1.35" fill="#E0F020"/>
<circle cx="628.60" cy="450.70" r="1.35" fill="#E8F030"/>
<circle cx="626.50" cy="461.70" r="1.35" fill="#F09868"/>
<circle cx="629.40" cy="472.00" r="1.35" fill="#F08030"/>
<circle cx="634.70" cy="442.80" r="1.35" fill="#F07830"/>
<circle cx="636.00" cy="437.10" r="1.35" fill="#F08830"/>
<circle cx="637.90" cy="440.30" r="1.35" fill="#F08830"/>
<circle cx="639.10" cy="440.30" r="1.35" fill="#F08830"/>
<circle cx="639.80" cy="436.50" r="1.35" fill="#F08830"/>
<circle cx="637.90" cy="482.60" r="1.35" fill="#6A10A0"/>
<circle cx="641.40" cy="478.30" r="1.35" fill="#5020A0"/>
<circle cx="646.90" cy="442.60" r="1.35" fill="#F09070"/>
<circle cx="647.20" cy="430.80" r="1.35" fill="#D02070"/>
<circle cx="658.80" cy="450.40" r="1.35" fill="#6A20A8"/>
<circle cx="677.00" cy="438.00" r="1.35" fill="#4A20A0"/>
<line x1="561.60" y1="410.90" x2="561.60" y2="523.80" stroke="#333" stroke-width="0.7"/>
<line x1="561.60" y1="523.80" x2="681.80" y2="523.80" stroke="#333" stroke-width="0.7"/>
<line x1="560.30" y1="432.70" x2="561.60" y2="432.70" stroke="#444" stroke-width="0.4"/>
<text x="559.80" y="432.70" font-size="4.7" text-anchor="end" fill="#444" dy="0.35em">600</text>
<line x1="560.30" y1="464.40" x2="561.60" y2="464.40" stroke="#444" stroke-width="0.4"/>
<text x="559.80" y="464.40" font-size="4.7" text-anchor="end" fill="#444" dy="0.35em">400</text>
<line x1="560.30" y1="495.30" x2="561.60" y2="495.30" stroke="#444" stroke-width="0.4"/>
<text x="559.80" y="495.30" font-size="4.7" text-anchor="end" fill="#444" dy="0.35em">200</text>
<line x1="566.40" y1="523.80" x2="566.40" y2="525.10" stroke="#444" stroke-width="0.4"/>
<text x="566.40" y="528.00" font-size="4.7" text-anchor="middle" fill="#444" dy="0.35em">0.0</text>
<line x1="601.10" y1="523.80" x2="601.10" y2="525.10" stroke="#444" stroke-width="0.4"/>
<text x="601.10" y="528.00" font-size="4.7" text-anchor="middle" fill="#444" dy="0.35em">0.1</text>
<line x1="636.20" y1="523.80" x2="636.20" y2="525.10" stroke="#444" stroke-width="0.4"/>
<text x="636.20" y="528.00" font-size="4.7" text-anchor="middle" fill="#444" dy="0.35em">0.2</text>
<line x1="671.20" y1="523.80" x2="671.20" y2="525.10" stroke="#444" stroke-width="0.4"/>
<text x="671.20" y="528.00" font-size="4.7" text-anchor="middle" fill="#444" dy="0.35em">0.3</text>
<text x="561.10" y="404.50" font-size="6.6" text-anchor="start" fill="#111" dy="0.35em">GSE126848</text>
<text x="566.4" y="421.0" dy="0.35em" font-size="7.0" fill="#111"><tspan font-style="italic">R</tspan> = 0.655, <tspan font-style="italic">p</tspan> = 6.33e−05</text>
<text x="621.60" y="534.10" font-size="5.5" text-anchor="middle" fill="#111" dy="0.35em">Expression of RUNX2(+)</text>
<text x="546.50" y="467.50" font-size="5.65" text-anchor="middle" fill="#111" dy="0.35em" transform="rotate(-90 546.50 467.50)">Expression of PLG</text>
<line x1="192.30" y1="585.30" x2="373.00" y2="698.50" stroke="#F5B8C0" stroke-width="0.55"/>
<line x1="192.30" y1="794.70" x2="373.00" y2="714.20" stroke="#F5B8C0" stroke-width="0.55"/>
<rect x="144.5" y="585.3" width="47.8" height="209.4" fill="none" stroke="#333" stroke-width="0.6"/>
<circle cx="168.40" cy="599.30" r="2.00" fill="#3B4A9B" stroke="#333" stroke-width="0.4"/>
<line x1="142.40" y1="599.30" x2="144.50" y2="599.30" stroke="#333" stroke-width="0.5"/>
<text x="141.20" y="599.30" font-size="8.55" text-anchor="end" fill="#1a1a1a" dy="0.35em">GSE89632</text>
<circle cx="168.40" cy="622.05" r="2.00" fill="#3A5AA8" stroke="#333" stroke-width="0.4"/>
<line x1="142.40" y1="622.05" x2="144.50" y2="622.05" stroke="#333" stroke-width="0.5"/>
<text x="141.20" y="622.05" font-size="8.55" text-anchor="end" fill="#1a1a1a" dy="0.35em">GSE66676</text>
<circle cx="168.40" cy="644.80" r="4.40" fill="#E8912D" stroke="#333" stroke-width="0.4"/>
<line x1="142.40" y1="644.80" x2="144.50" y2="644.80" stroke="#333" stroke-width="0.5"/>
<text x="141.20" y="644.80" font-size="8.55" text-anchor="end" fill="#1a1a1a" dy="0.35em">GSE48452</text>
<circle cx="168.40" cy="667.55" r="4.40" fill="#B8303C" stroke="#333" stroke-width="0.4"/>
<line x1="142.40" y1="667.55" x2="144.50" y2="667.55" stroke="#333" stroke-width="0.5"/>
<text x="141.20" y="667.55" font-size="8.55" text-anchor="end" fill="#1a1a1a" dy="0.35em">GSE24807</text>
<circle cx="168.40" cy="690.30" r="8.00" fill="#B3343F" stroke="#333" stroke-width="0.4"/>
<line x1="142.40" y1="690.30" x2="144.50" y2="690.30" stroke="#333" stroke-width="0.5"/>
<text x="141.20" y="690.30" font-size="8.55" text-anchor="end" fill="#1a1a1a" dy="0.35em">GSE167523</text>
<circle cx="168.40" cy="713.05" r="8.00" fill="#9C1F4A" stroke="#333" stroke-width="0.4"/>
<line x1="142.40" y1="713.05" x2="144.50" y2="713.05" stroke="#333" stroke-width="0.5"/>
<text x="141.20" y="713.05" font-size="8.55" text-anchor="end" fill="#1a1a1a" dy="0.35em">GSE164760</text>
<circle cx="168.40" cy="735.80" r="8.00" fill="#A8283F" stroke="#333" stroke-width="0.4"/>
<line x1="142.40" y1="735.80" x2="144.50" y2="735.80" stroke="#333" stroke-width="0.5"/>
<text x="141.20" y="735.80" font-size="8.55" text-anchor="end" fill="#1a1a1a" dy="0.35em">GSE162694</text>
<circle cx="168.40" cy="758.55" r="8.00" fill="#B03040" stroke="#333" stroke-width="0.4"/>
<line x1="142.40" y1="758.55" x2="144.50" y2="758.55" stroke="#333" stroke-width="0.5"/>
<text x="141.20" y="758.55" font-size="8.55" text-anchor="end" fill="#1a1a1a" dy="0.35em">GSE135251</text>
<circle cx="168.40" cy="781.30" r="8.00" fill="#AC2D40" stroke="#333" stroke-width="0.4"/>
<line x1="142.40" y1="781.30" x2="144.50" y2="781.30" stroke="#333" stroke-width="0.5"/>
<text x="141.20" y="781.30" font-size="8.55" text-anchor="end" fill="#1a1a1a" dy="0.35em">GSE126848</text>
<line x1="168.40" y1="794.70" x2="168.40" y2="796.80" stroke="#333" stroke-width="0.5"/>
<text x="168.20" y="797.20" font-size="8.6" text-anchor="end" fill="#1a1a1a" dy="0.6em" transform="rotate(-45 168.20 797.20)">DTNA+ Mac-aHSC</text>
<defs><linearGradient id="gradF" x1="0" y1="1" x2="0" y2="0"><stop offset="0" stop-color="#5E4FA2"/><stop offset="0.1" stop-color="#3288BD"/><stop offset="0.25" stop-color="#66C2A5"/><stop offset="0.38" stop-color="#ABDDA4"/><stop offset="0.48" stop-color="#E6F598"/><stop offset="0.55" stop-color="#FFFFBF"/><stop offset="0.63" stop-color="#FEE08B"/><stop offset="0.72" stop-color="#FDAE61"/><stop offset="0.8" stop-color="#E07B2A"/><stop offset="0.9" stop-color="#C83A40"/><stop offset="1" stop-color="#9E1848"/></linearGradient></defs>
<text x="204.20" y="615.30" font-size="7.6" text-anchor="start" fill="#1a1a1a" dy="0.35em">Spearman</text>
<text x="204.20" y="624.50" font-size="7.6" text-anchor="start" fill="#1a1a1a" dy="0.35em">Correlation</text>
<rect x="204.20" y="630.20" width="12.10" height="60.30" fill="url(#gradF)"/>
<line x1="204.20" y1="641.30" x2="206.60" y2="641.30" stroke="#fff" stroke-width="0.5"/>
<line x1="213.90" y1="641.30" x2="216.30" y2="641.30" stroke="#fff" stroke-width="0.5"/>
<text x="219.90" y="641.30" font-size="6.1" text-anchor="start" fill="#1a1a1a" dy="0.35em">0.75</text>
<line x1="204.20" y1="658.70" x2="206.60" y2="658.70" stroke="#fff" stroke-width="0.5"/>
<line x1="213.90" y1="658.70" x2="216.30" y2="658.70" stroke="#fff" stroke-width="0.5"/>
<text x="219.90" y="658.70" font-size="6.1" text-anchor="start" fill="#1a1a1a" dy="0.35em">0.50</text>
<line x1="204.20" y1="676.20" x2="206.60" y2="676.20" stroke="#fff" stroke-width="0.5"/>
<line x1="213.90" y1="676.20" x2="216.30" y2="676.20" stroke="#fff" stroke-width="0.5"/>
<text x="219.90" y="676.20" font-size="6.1" text-anchor="start" fill="#1a1a1a" dy="0.35em">0.25</text>
<text x="204.20" y="711.00" font-size="7.0" text-anchor="start" fill="#1a1a1a" dy="0.35em">pstar</text>
<circle cx="213.60" cy="723.00" r="1.90" fill="#000"/>
<text x="227.70" y="723.00" font-size="5.8" text-anchor="start" fill="#1a1a1a" dy="0.35em">ns</text>
<circle cx="213.60" cy="735.10" r="4.00" fill="#000"/>
<text x="227.70" y="735.10" font-size="5.8" text-anchor="start" fill="#1a1a1a" dy="0.35em">**</text>
<circle cx="213.60" cy="752.00" r="7.70" fill="#000"/>
<text x="227.70" y="752.00" font-size="5.8" text-anchor="start" fill="#1a1a1a" dy="0.35em">***</text>
<circle cx="373.20" cy="626.90" r="7.80" fill="#D3D3D3"/>
<path d="M373.20 626.90 L373.20 619.10 A7.8 7.8 0 0 1 377.67 620.51Z" fill="#DD2423"/>
<circle cx="392.82" cy="626.90" r="7.80" fill="#D3D3D3"/>
<path d="M392.82 626.90 L392.82 619.10 A7.8 7.8 0 0 1 400.50 625.55Z" fill="#DD2423"/>
<circle cx="412.44" cy="626.90" r="7.80" fill="#D3D3D3"/>
<circle cx="432.06" cy="626.90" r="7.80" fill="#D3D3D3"/>
<circle cx="451.68" cy="626.90" r="7.80" fill="#D3D3D3"/>
<path d="M451.68 626.90 L451.68 619.10 A7.8 7.8 0 0 1 458.43 630.80Z" fill="#DD2423"/>
<circle cx="471.30" cy="626.90" r="7.80" fill="#D3D3D3"/>
<circle cx="490.92" cy="626.90" r="7.80" fill="#D3D3D3"/>
<path d="M490.92 626.90 L490.92 619.10 A7.8 7.8 0 0 1 492.94 634.43Z" fill="#DD2423"/>
<circle cx="510.54" cy="626.90" r="7.80" fill="#D3D3D3"/>
<path d="M510.54 626.90 L510.54 619.10 A7.8 7.8 0 0 1 515.01 620.51Z" fill="#2E4A9C"/>
<circle cx="530.16" cy="626.90" r="7.80" fill="#D3D3D3"/>
<path d="M530.16 626.90 L530.16 619.10 A7.8 7.8 0 1 1 528.14 634.43Z" fill="#DD2423"/>
<circle cx="549.78" cy="626.90" r="7.80" fill="#D3D3D3"/>
<path d="M549.78 626.90 L549.78 619.10 A7.8 7.8 0 0 1 554.25 620.51Z" fill="#DD2423"/>
<circle cx="569.40" cy="626.90" r="7.80" fill="#DD2423"/>
<circle cx="373.20" cy="646.59" r="7.80" fill="#D3D3D3"/>
<path d="M373.20 646.59 L373.20 638.79 A7.8 7.8 0 0 1 375.22 654.12Z" fill="#DD2423"/>
<circle cx="392.82" cy="646.59" r="7.80" fill="#D3D3D3"/>
<path d="M392.82 646.59 L392.82 638.79 A7.8 7.8 0 0 1 396.72 639.84Z" fill="#DD2423"/>
<circle cx="412.44" cy="646.59" r="7.80" fill="#D3D3D3"/>
<circle cx="432.06" cy="646.59" r="7.80" fill="#D3D3D3"/>
<path d="M432.06 646.59 L432.06 638.79 A7.8 7.8 0 0 1 436.53 640.20Z" fill="#DD2423"/>
<circle cx="451.68" cy="646.59" r="7.80" fill="#D3D3D3"/>
<path d="M451.68 646.59 L451.68 638.79 A7.8 7.8 0 0 1 459.45 645.91Z" fill="#DD2423"/>
<circle cx="471.30" cy="646.59" r="7.80" fill="#D3D3D3"/>
<path d="M471.30 646.59 L471.30 638.79 A7.8 7.8 0 0 1 478.05 650.49Z" fill="#DD2423"/>
<circle cx="490.92" cy="646.59" r="7.80" fill="#D3D3D3"/>
<path d="M490.92 646.59 L490.92 638.79 A7.8 7.8 0 0 1 497.67 650.49Z" fill="#DD2423"/>
<circle cx="510.54" cy="646.59" r="7.80" fill="#D3D3D3"/>
<circle cx="530.16" cy="646.59" r="7.80" fill="#D3D3D3"/>
<circle cx="549.78" cy="646.59" r="7.80" fill="#DD2423"/>
<circle cx="373.20" cy="666.28" r="7.80" fill="#D3D3D3"/>
<circle cx="392.82" cy="666.28" r="7.80" fill="#D3D3D3"/>
<circle cx="412.44" cy="666.28" r="7.80" fill="#D3D3D3"/>
<path d="M412.44 666.28 L412.44 658.48 A7.8 7.8 0 0 1 416.91 659.89Z" fill="#DD2423"/>
<circle cx="432.06" cy="666.28" r="7.80" fill="#D3D3D3"/>
<circle cx="451.68" cy="666.28" r="7.80" fill="#D3D3D3"/>
<path d="M451.68 666.28 L451.68 658.48 A7.8 7.8 0 0 1 456.15 659.89Z" fill="#DD2423"/>
<circle cx="471.30" cy="666.28" r="7.80" fill="#D3D3D3"/>
<circle cx="490.92" cy="666.28" r="7.80" fill="#D3D3D3"/>
<path d="M490.92 666.28 L490.92 658.48 A7.8 7.8 0 0 1 495.39 659.89Z" fill="#DD2423"/>
<circle cx="510.54" cy="666.28" r="7.80" fill="#D3D3D3"/>
<path d="M510.54 666.28 L510.54 658.48 A7.8 7.8 0 0 1 518.07 664.26Z" fill="#2E4A9C"/>
<circle cx="530.16" cy="666.28" r="7.80" fill="#DD2423"/>
<circle cx="373.20" cy="685.97" r="7.80" fill="#D3D3D3"/>
<circle cx="392.82" cy="685.97" r="7.80" fill="#D3D3D3"/>
<circle cx="412.44" cy="685.97" r="7.80" fill="#D3D3D3"/>
<path d="M412.44 685.97 L412.44 678.17 A7.8 7.8 0 0 1 414.46 693.50Z" fill="#2E4A9C"/>
<circle cx="432.06" cy="685.97" r="7.80" fill="#D3D3D3"/>
<path d="M432.06 685.97 L432.06 678.17 A7.8 7.8 0 0 1 436.53 679.58Z" fill="#DD2423"/>
<circle cx="451.68" cy="685.97" r="7.80" fill="#D3D3D3"/>
<path d="M451.68 685.97 L451.68 678.17 A7.8 7.8 0 0 1 456.15 679.58Z" fill="#2E4A9C"/>
<circle cx="471.30" cy="685.97" r="7.80" fill="#D3D3D3"/>
<circle cx="490.92" cy="685.97" r="7.80" fill="#D3D3D3"/>
<circle cx="510.54" cy="685.97" r="7.80" fill="#DD2423"/>
<circle cx="373.20" cy="705.66" r="7.80" fill="#D3D3D3"/>
<path d="M373.20 705.66 L373.20 697.86 A7.8 7.8 0 1 1 366.45 701.76Z" fill="#DD2423"/>
<circle cx="392.82" cy="705.66" r="7.80" fill="#D3D3D3"/>
<path d="M392.82 705.66 L392.82 697.86 A7.8 7.8 0 0 1 394.17 713.34Z" fill="#DD2423"/>
<circle cx="412.44" cy="705.66" r="7.80" fill="#D3D3D3"/>
<path d="M412.44 705.66 L412.44 697.86 A7.8 7.8 0 0 1 420.12 704.31Z" fill="#2E4A9C"/>
<circle cx="432.06" cy="705.66" r="7.80" fill="#D3D3D3"/>
<path d="M432.06 705.66 L432.06 697.86 A7.8 7.8 0 0 1 439.74 704.31Z" fill="#DD2423"/>
<circle cx="451.68" cy="705.66" r="7.80" fill="#D3D3D3"/>
<path d="M451.68 705.66 L451.68 697.86 A7.8 7.8 0 1 1 449.01 712.99Z" fill="#DD2423"/>
<circle cx="471.30" cy="705.66" r="7.80" fill="#D3D3D3"/>
<path d="M471.30 705.66 L471.30 697.86 A7.8 7.8 0 0 1 478.05 709.56Z" fill="#DD2423"/>
<circle cx="490.92" cy="705.66" r="7.80" fill="#DD2423"/>
<circle cx="373.20" cy="725.35" r="7.80" fill="#D3D3D3"/>
<path d="M373.20 725.35 L373.20 717.55 A7.8 7.8 0 1 1 370.53 732.68Z" fill="#DD2423"/>
<circle cx="392.82" cy="725.35" r="7.80" fill="#D3D3D3"/>
<path d="M392.82 725.35 L392.82 717.55 A7.8 7.8 0 0 1 400.50 724.00Z" fill="#DD2423"/>
<circle cx="412.44" cy="725.35" r="7.80" fill="#D3D3D3"/>
<path d="M412.44 725.35 L412.44 717.55 A7.8 7.8 0 0 1 416.91 718.96Z" fill="#2E4A9C"/>
<circle cx="432.06" cy="725.35" r="7.80" fill="#D3D3D3"/>
<circle cx="451.68" cy="725.35" r="7.80" fill="#D3D3D3"/>
<path d="M451.68 725.35 L451.68 717.55 A7.8 7.8 0 0 1 454.35 732.68Z" fill="#DD2423"/>
<circle cx="471.30" cy="725.35" r="7.80" fill="#DD2423"/>
<circle cx="373.20" cy="745.04" r="7.80" fill="#D3D3D3"/>
<path d="M373.20 745.04 L373.20 737.24 A7.8 7.8 0 1 1 370.53 752.37Z" fill="#DD2423"/>
<circle cx="392.82" cy="745.04" r="7.80" fill="#D3D3D3"/>
<path d="M392.82 745.04 L392.82 737.24 A7.8 7.8 0 1 1 390.15 752.37Z" fill="#DD2423"/>
<circle cx="412.44" cy="745.04" r="7.80" fill="#D3D3D3"/>
<path d="M412.44 745.04 L412.44 737.24 A7.8 7.8 0 0 1 417.45 739.06Z" fill="#2E4A9C"/>
<circle cx="432.06" cy="745.04" r="7.80" fill="#D3D3D3"/>
<path d="M432.06 745.04 L432.06 737.24 A7.8 7.8 0 0 1 436.53 738.65Z" fill="#DD2423"/>
<circle cx="451.68" cy="745.04" r="7.80" fill="#DD2423"/>
<circle cx="373.20" cy="764.73" r="7.80" fill="#D3D3D3"/>
<circle cx="392.82" cy="764.73" r="7.80" fill="#D3D3D3"/>
<path d="M392.82 764.73 L392.82 756.93 A7.8 7.8 0 0 1 397.29 758.34Z" fill="#DD2423"/>
<circle cx="412.44" cy="764.73" r="7.80" fill="#D3D3D3"/>
<circle cx="432.06" cy="764.73" r="7.80" fill="#DD2423"/>
<circle cx="373.20" cy="784.42" r="7.80" fill="#D3D3D3"/>
<path d="M373.20 784.42 L373.20 776.62 A7.8 7.8 0 0 1 378.21 778.44Z" fill="#2E4A9C"/>
<circle cx="392.82" cy="784.42" r="7.80" fill="#D3D3D3"/>
<circle cx="412.44" cy="784.42" r="7.80" fill="#DD2423"/>
<circle cx="373.20" cy="804.11" r="7.80" fill="#D3D3D3"/>
<path d="M373.20 804.11 L373.20 796.31 A7.8 7.8 0 1 1 370.53 811.44Z" fill="#DD2423"/>
<circle cx="392.82" cy="804.11" r="7.80" fill="#DD2423"/>
<circle cx="373.20" cy="823.80" r="7.80" fill="#DD2423"/>
<line x1="351.60" y1="626.90" x2="354.20" y2="626.90" stroke="#444" stroke-width="0.6"/>
<text x="349.60" y="626.40" font-size="10.7" text-anchor="end" fill="#4D4D4D" dy="0.35em">qHSC</text>
<line x1="351.60" y1="646.59" x2="354.20" y2="646.59" stroke="#444" stroke-width="0.6"/>
<text x="349.60" y="646.09" font-size="10.7" text-anchor="end" fill="#4D4D4D" dy="0.35em">mDC</text>
<line x1="351.60" y1="666.28" x2="354.20" y2="666.28" stroke="#444" stroke-width="0.6"/>
<text x="349.60" y="665.78" font-size="10.7" text-anchor="end" fill="#4D4D4D" dy="0.35em">inHSC</text>
<line x1="351.60" y1="685.97" x2="354.20" y2="685.97" stroke="#444" stroke-width="0.6"/>
<text x="349.60" y="685.47" font-size="10.7" text-anchor="end" fill="#4D4D4D" dy="0.35em">hep−like HSC</text>
<line x1="351.60" y1="705.66" x2="354.20" y2="705.66" stroke="#444" stroke-width="0.6"/>
<text x="349.60" y="705.16" font-size="10.7" text-anchor="end" fill="#4D4D4D" dy="0.35em">aHSC</text>
<line x1="351.60" y1="725.35" x2="354.20" y2="725.35" stroke="#444" stroke-width="0.6"/>
<text x="349.60" y="724.85" font-size="10.7" text-anchor="end" fill="#4D4D4D" dy="0.35em">VCAN+ Mono</text>
<line x1="351.60" y1="745.04" x2="354.20" y2="745.04" stroke="#444" stroke-width="0.6"/>
<text x="349.60" y="744.54" font-size="10.7" text-anchor="end" fill="#4D4D4D" dy="0.35em">VCAM1+ KC</text>
<line x1="351.60" y1="764.73" x2="354.20" y2="764.73" stroke="#444" stroke-width="0.6"/>
<text x="349.60" y="764.23" font-size="10.7" text-anchor="end" fill="#4D4D4D" dy="0.35em">SMC</text>
<line x1="351.60" y1="784.42" x2="354.20" y2="784.42" stroke="#444" stroke-width="0.6"/>
<text x="349.60" y="783.92" font-size="10.7" text-anchor="end" fill="#4D4D4D" dy="0.35em">SAA1+ KC</text>
<line x1="351.60" y1="804.11" x2="354.20" y2="804.11" stroke="#444" stroke-width="0.6"/>
<text x="349.60" y="803.61" font-size="10.7" text-anchor="end" fill="#4D4D4D" dy="0.35em">MKI67+ Mac</text>
<line x1="351.60" y1="823.80" x2="354.20" y2="823.80" stroke="#444" stroke-width="0.6"/>
<text x="349.60" y="823.30" font-size="10.7" text-anchor="end" fill="#4D4D4D" dy="0.35em">DTNA+ Mac</text>
<line x1="373.20" y1="606.30" x2="373.20" y2="608.40" stroke="#444" stroke-width="0.6"/>
<text x="372.70" y="603.90" font-size="10.45" fill="#4D4D4D" transform="rotate(-45 372.70 603.9)">DTNA+ Mac</text>
<line x1="392.82" y1="606.30" x2="392.82" y2="608.40" stroke="#444" stroke-width="0.6"/>
<text x="392.32" y="603.90" font-size="10.45" fill="#4D4D4D" transform="rotate(-45 392.32 603.9)">MKI67+ Mac</text>
<line x1="412.44" y1="606.30" x2="412.44" y2="608.40" stroke="#444" stroke-width="0.6"/>
<text x="411.94" y="603.90" font-size="10.45" fill="#4D4D4D" transform="rotate(-45 411.94 603.9)">SAA1+ KC</text>
<line x1="432.06" y1="606.30" x2="432.06" y2="608.40" stroke="#444" stroke-width="0.6"/>
<text x="431.56" y="603.90" font-size="10.45" fill="#4D4D4D" transform="rotate(-45 431.56 603.9)">SMC</text>
<line x1="451.68" y1="606.30" x2="451.68" y2="608.40" stroke="#444" stroke-width="0.6"/>
<text x="451.18" y="603.90" font-size="10.45" fill="#4D4D4D" transform="rotate(-45 451.18 603.9)">VCAM1+ KC</text>
<line x1="471.30" y1="606.30" x2="471.30" y2="608.40" stroke="#444" stroke-width="0.6"/>
<text x="470.80" y="603.90" font-size="10.45" fill="#4D4D4D" transform="rotate(-45 470.80 603.9)">VCAN+ Mono</text>
<line x1="490.92" y1="606.30" x2="490.92" y2="608.40" stroke="#444" stroke-width="0.6"/>
<text x="490.42" y="603.90" font-size="10.45" fill="#4D4D4D" transform="rotate(-45 490.42 603.9)">aHSC</text>
<line x1="510.54" y1="606.30" x2="510.54" y2="608.40" stroke="#444" stroke-width="0.6"/>
<text x="510.04" y="603.90" font-size="10.45" fill="#4D4D4D" transform="rotate(-45 510.04 603.9)">hep−like HSC</text>
<line x1="530.16" y1="606.30" x2="530.16" y2="608.40" stroke="#444" stroke-width="0.6"/>
<text x="529.66" y="603.90" font-size="10.45" fill="#4D4D4D" transform="rotate(-45 529.66 603.9)">inHSC</text>
<line x1="549.78" y1="606.30" x2="549.78" y2="608.40" stroke="#444" stroke-width="0.6"/>
<text x="549.28" y="603.90" font-size="10.45" fill="#4D4D4D" transform="rotate(-45 549.28 603.9)">mDC</text>
<line x1="569.40" y1="606.30" x2="569.40" y2="608.40" stroke="#444" stroke-width="0.6"/>
<text x="568.90" y="603.90" font-size="10.45" fill="#4D4D4D" transform="rotate(-45 568.90 603.9)">qHSC</text>
<text x="535.50" y="719.90" font-size="10.7" text-anchor="start" fill="#1a1a1a" dy="0.35em">correlation</text>
<rect x="536.00" y="730.10" width="15.30" height="15.40" fill="#DD2423"/>
<rect x="536.00" y="747.30" width="15.30" height="15.20" fill="#2E4A9C"/>
<rect x="536.00" y="764.20" width="15.30" height="15.20" fill="#D3D3D3"/>
<text x="557.60" y="738.00" font-size="8.5" text-anchor="start" fill="#1a1a1a" dy="0.35em">Pos</text>
<text x="557.60" y="754.90" font-size="8.5" text-anchor="start" fill="#1a1a1a" dy="0.35em">Neg</text>
<text x="557.60" y="771.80" font-size="8.5" text-anchor="start" fill="#1a1a1a" dy="0.35em">Unsig</text>
</svg>
</body></html>
